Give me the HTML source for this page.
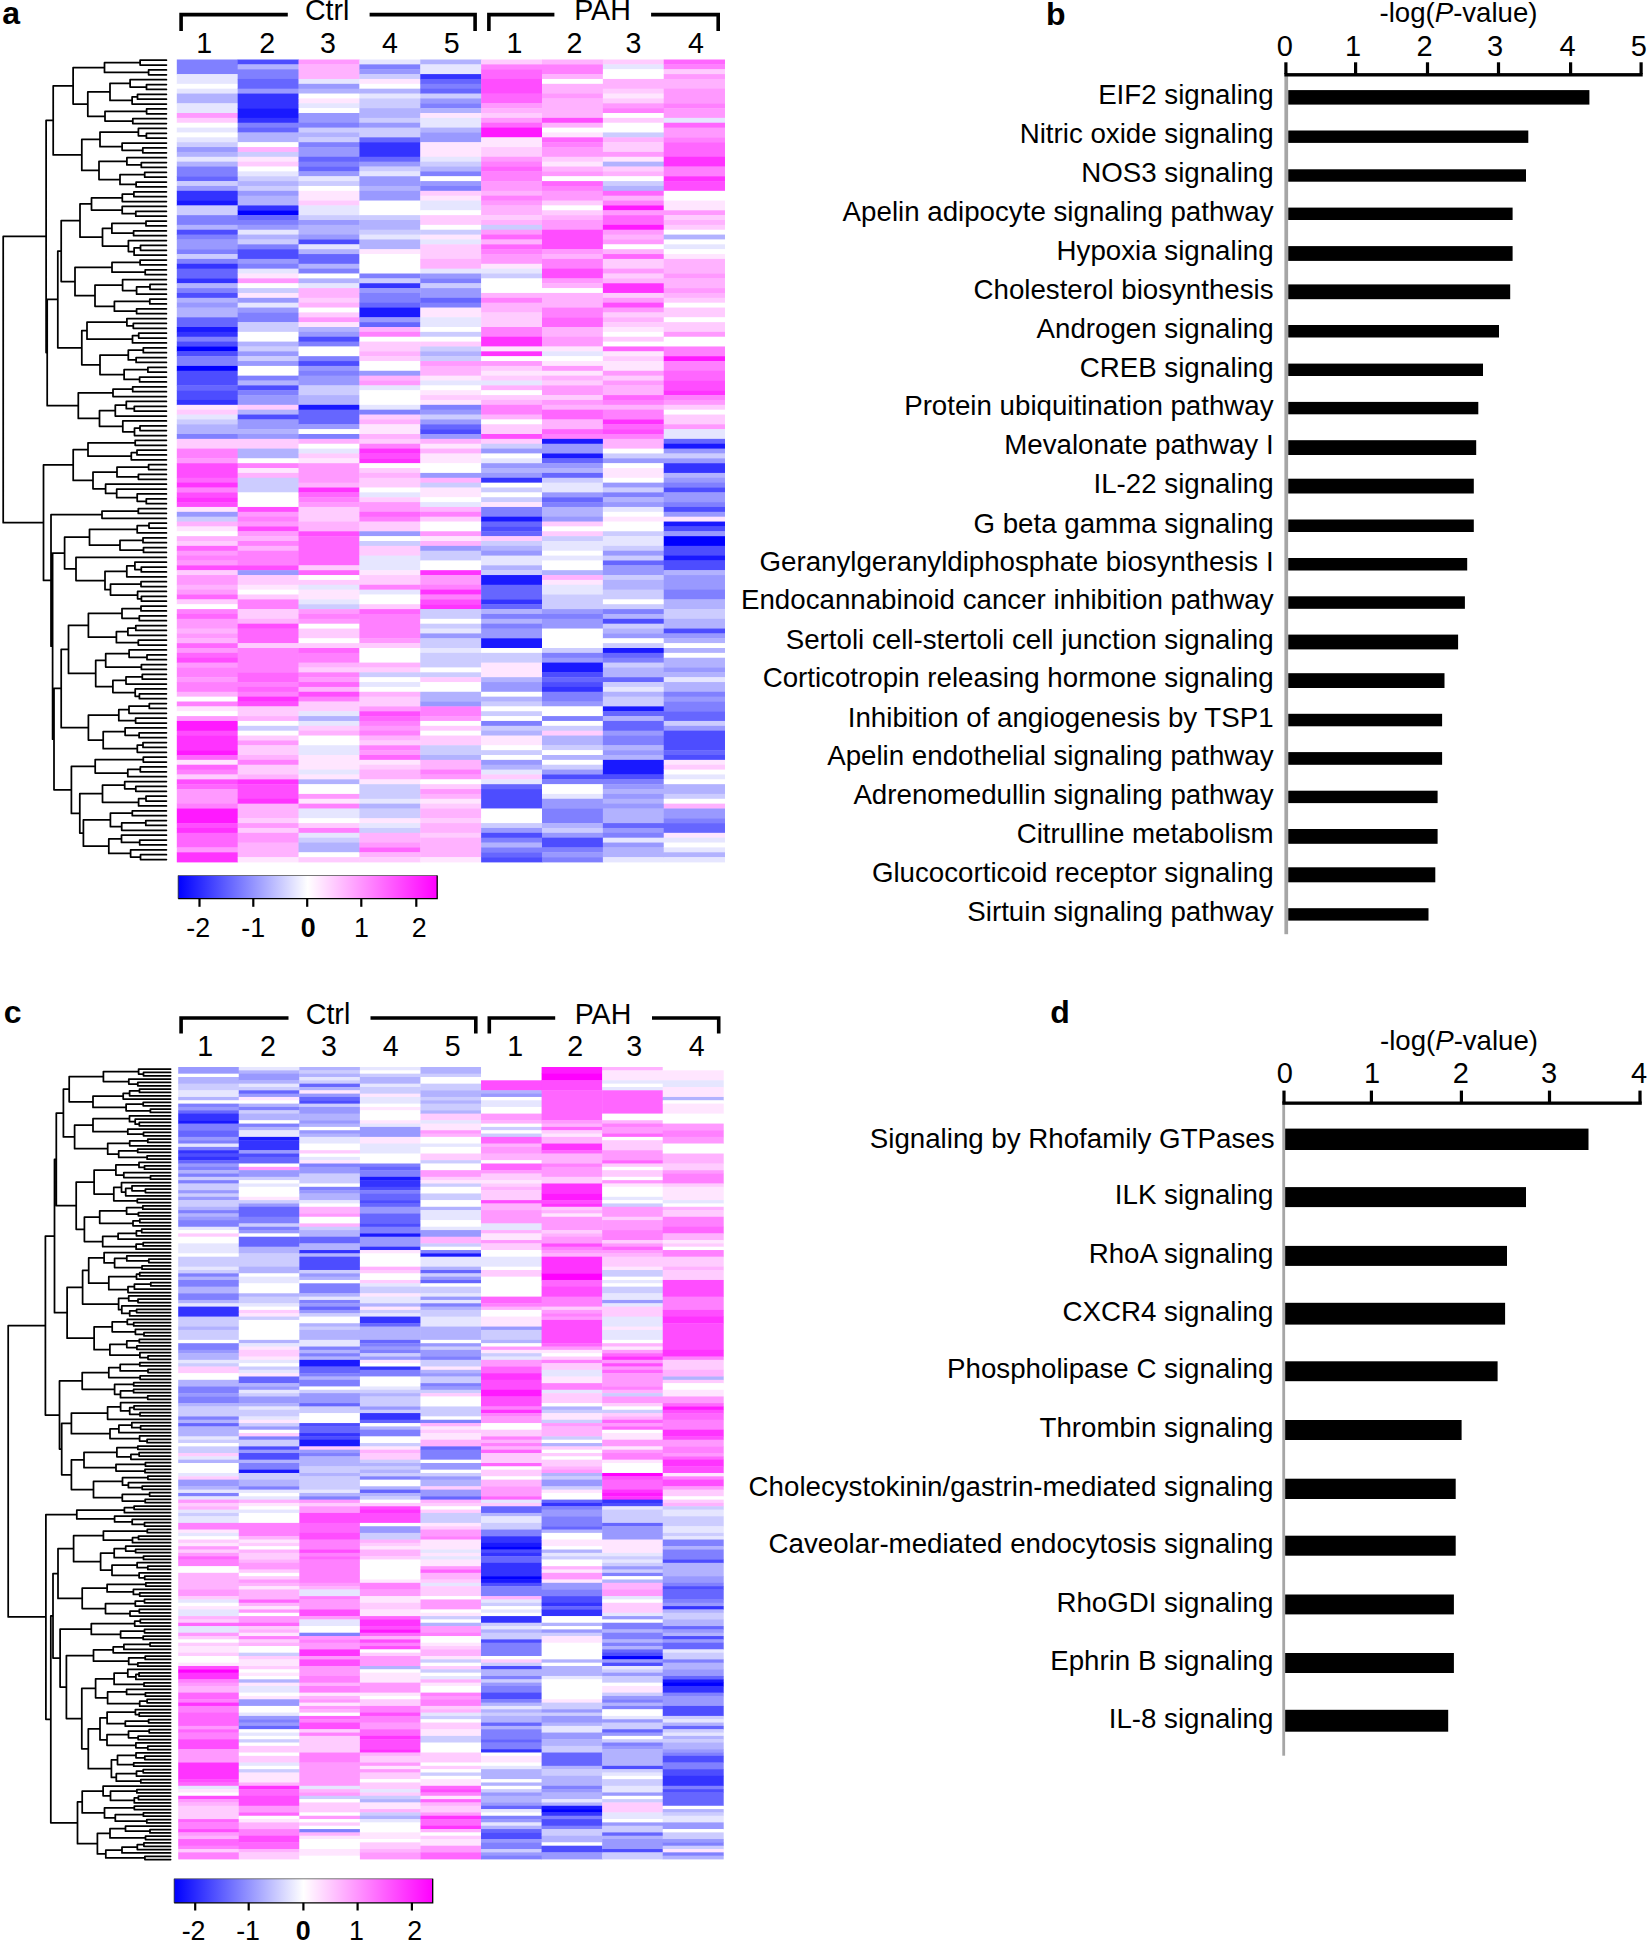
<!DOCTYPE html>
<html><head><meta charset="utf-8"><title>Figure</title>
<style>html,body{margin:0;padding:0;background:#fff}svg{display:block}text{font-family:"Liberation Sans",Arial,Helvetica,sans-serif;fill:#000}</style>
</head><body>
<svg width="1647" height="1942" viewBox="0 0 1647 1942">
<rect width="1647" height="1942" fill="#fff"/>
<text transform="translate(2.2 24.1) scale(1 1)" font-size="32" text-anchor="start" font-weight="bold" >a</text>
<text transform="translate(1046 24.5) scale(1 1)" font-size="32" text-anchor="start" font-weight="bold" >b</text>
<text transform="translate(3.8 1023.4) scale(1 1)" font-size="32" text-anchor="start" font-weight="bold" >c</text>
<text transform="translate(1050.3 1023.2) scale(1 1)" font-size="32" text-anchor="start" font-weight="bold" >d</text>
<path d="M181.1 31 V14.6 H287.8 M369.6 14.6 H475.1 V31" fill="none" stroke="#000" stroke-width="3.6"/>
<path d="M488.9 31 V14.6 H554.4 M651.1 14.6 H718.2 V31" fill="none" stroke="#000" stroke-width="3.6"/>
<text transform="translate(327.2 20.1) scale(1 1)" font-size="28.6" text-anchor="middle" font-weight="normal" >Ctrl</text>
<text transform="translate(602.5 20.1) scale(1 1)" font-size="28.6" text-anchor="middle" font-weight="normal" >PAH</text>
<text transform="translate(204.3 53.2) scale(1 1)" font-size="28.6" text-anchor="middle" font-weight="normal" >1</text>
<text transform="translate(267.1 53.2) scale(1 1)" font-size="28.6" text-anchor="middle" font-weight="normal" >2</text>
<text transform="translate(327.9 53.2) scale(1 1)" font-size="28.6" text-anchor="middle" font-weight="normal" >3</text>
<text transform="translate(390 53.2) scale(1 1)" font-size="28.6" text-anchor="middle" font-weight="normal" >4</text>
<text transform="translate(451.8 53.2) scale(1 1)" font-size="28.6" text-anchor="middle" font-weight="normal" >5</text>
<text transform="translate(514.5 53.2) scale(1 1)" font-size="28.6" text-anchor="middle" font-weight="normal" >1</text>
<text transform="translate(574.5 53.2) scale(1 1)" font-size="28.6" text-anchor="middle" font-weight="normal" >2</text>
<text transform="translate(633.5 53.2) scale(1 1)" font-size="28.6" text-anchor="middle" font-weight="normal" >3</text>
<text transform="translate(696 53.2) scale(1 1)" font-size="28.6" text-anchor="middle" font-weight="normal" >4</text>
<path d="M181.1 1033.5 V1018 H288.5 M370.5 1018 H475.8 V1033.5" fill="none" stroke="#000" stroke-width="3.6"/>
<path d="M489.3 1033.5 V1018 H555.2 M652 1018 H718.7 V1033.5" fill="none" stroke="#000" stroke-width="3.6"/>
<text transform="translate(328 1023.6) scale(1 1)" font-size="28.6" text-anchor="middle" font-weight="normal" >Ctrl</text>
<text transform="translate(603 1023.6) scale(1 1)" font-size="28.6" text-anchor="middle" font-weight="normal" >PAH</text>
<text transform="translate(205.1 1056.4) scale(1 1)" font-size="28.6" text-anchor="middle" font-weight="normal" >1</text>
<text transform="translate(267.9 1056.4) scale(1 1)" font-size="28.6" text-anchor="middle" font-weight="normal" >2</text>
<text transform="translate(328.9 1056.4) scale(1 1)" font-size="28.6" text-anchor="middle" font-weight="normal" >3</text>
<text transform="translate(390.7 1056.4) scale(1 1)" font-size="28.6" text-anchor="middle" font-weight="normal" >4</text>
<text transform="translate(452.6 1056.4) scale(1 1)" font-size="28.6" text-anchor="middle" font-weight="normal" >5</text>
<text transform="translate(515.2 1056.4) scale(1 1)" font-size="28.6" text-anchor="middle" font-weight="normal" >1</text>
<text transform="translate(575.2 1056.4) scale(1 1)" font-size="28.6" text-anchor="middle" font-weight="normal" >2</text>
<text transform="translate(634.2 1056.4) scale(1 1)" font-size="28.6" text-anchor="middle" font-weight="normal" >3</text>
<text transform="translate(696.6 1056.4) scale(1 1)" font-size="28.6" text-anchor="middle" font-weight="normal" >4</text>
<g>
<rect x="176.80" y="59.50" width="61.27" height="14.99" fill="#8080ff"/>
<rect x="176.80" y="74.09" width="61.27" height="10.13" fill="#e6e6ff"/>
<rect x="176.80" y="83.82" width="61.27" height="5.26" fill="#ffffff"/>
<rect x="176.80" y="88.68" width="61.27" height="5.26" fill="#e6e6ff"/>
<rect x="176.80" y="93.55" width="61.27" height="10.13" fill="#b2b2ff"/>
<rect x="176.80" y="103.27" width="61.27" height="10.13" fill="#e6e6ff"/>
<rect x="176.80" y="113.00" width="61.27" height="5.26" fill="#ff99ff"/>
<rect x="176.80" y="117.86" width="61.27" height="5.26" fill="#ffccff"/>
<rect x="176.80" y="122.73" width="61.27" height="5.26" fill="#ffffff"/>
<rect x="176.80" y="127.59" width="61.27" height="5.26" fill="#e6e6ff"/>
<rect x="176.80" y="132.45" width="61.27" height="5.26" fill="#ffffff"/>
<rect x="176.80" y="137.32" width="61.27" height="5.26" fill="#e6e6ff"/>
<rect x="176.80" y="142.18" width="61.27" height="5.26" fill="#ccccff"/>
<rect x="176.80" y="147.05" width="61.27" height="5.26" fill="#9999ff"/>
<rect x="176.80" y="151.91" width="61.27" height="5.26" fill="#b2b2ff"/>
<rect x="176.80" y="156.77" width="61.27" height="5.26" fill="#e6e6ff"/>
<rect x="176.80" y="161.64" width="61.27" height="5.26" fill="#b2b2ff"/>
<rect x="176.80" y="166.50" width="61.27" height="10.13" fill="#8080ff"/>
<rect x="176.80" y="176.23" width="61.27" height="5.26" fill="#6666ff"/>
<rect x="176.80" y="181.09" width="61.27" height="5.26" fill="#ccccff"/>
<rect x="176.80" y="185.95" width="61.27" height="5.26" fill="#9999ff"/>
<rect x="176.80" y="190.82" width="61.27" height="10.13" fill="#3333ff"/>
<rect x="176.80" y="200.55" width="61.27" height="5.26" fill="#1919ff"/>
<rect x="176.80" y="205.41" width="61.27" height="10.13" fill="#ccccff"/>
<rect x="176.80" y="215.14" width="61.27" height="10.13" fill="#8080ff"/>
<rect x="176.80" y="224.86" width="61.27" height="5.26" fill="#b2b2ff"/>
<rect x="176.80" y="229.73" width="61.27" height="5.26" fill="#4d4dff"/>
<rect x="176.80" y="234.59" width="61.27" height="5.26" fill="#8080ff"/>
<rect x="176.80" y="239.45" width="61.27" height="10.13" fill="#9999ff"/>
<rect x="176.80" y="249.18" width="61.27" height="5.26" fill="#8080ff"/>
<rect x="176.80" y="254.05" width="61.27" height="5.26" fill="#ccccff"/>
<rect x="176.80" y="258.91" width="61.27" height="5.26" fill="#8080ff"/>
<rect x="176.80" y="263.77" width="61.27" height="5.26" fill="#3333ff"/>
<rect x="176.80" y="268.64" width="61.27" height="10.13" fill="#6666ff"/>
<rect x="176.80" y="278.36" width="61.27" height="5.26" fill="#3333ff"/>
<rect x="176.80" y="283.23" width="61.27" height="5.26" fill="#b2b2ff"/>
<rect x="176.80" y="288.09" width="61.27" height="5.26" fill="#8080ff"/>
<rect x="176.80" y="292.95" width="61.27" height="5.26" fill="#4d4dff"/>
<rect x="176.80" y="297.82" width="61.27" height="5.26" fill="#b2b2ff"/>
<rect x="176.80" y="302.68" width="61.27" height="5.26" fill="#9999ff"/>
<rect x="176.80" y="307.55" width="61.27" height="10.13" fill="#b2b2ff"/>
<rect x="176.80" y="317.27" width="61.27" height="10.13" fill="#6666ff"/>
<rect x="176.80" y="327.00" width="61.27" height="5.26" fill="#1919ff"/>
<rect x="176.80" y="331.86" width="61.27" height="5.26" fill="#3333ff"/>
<rect x="176.80" y="336.73" width="61.27" height="5.26" fill="#8080ff"/>
<rect x="176.80" y="341.59" width="61.27" height="5.26" fill="#4d4dff"/>
<rect x="176.80" y="346.45" width="61.27" height="5.26" fill="#0000ff"/>
<rect x="176.80" y="351.32" width="61.27" height="5.26" fill="#4d4dff"/>
<rect x="176.80" y="356.18" width="61.27" height="10.13" fill="#8080ff"/>
<rect x="176.80" y="365.91" width="61.27" height="5.26" fill="#0000ff"/>
<rect x="176.80" y="370.77" width="61.27" height="14.99" fill="#4d4dff"/>
<rect x="176.80" y="385.36" width="61.27" height="5.26" fill="#6666ff"/>
<rect x="176.80" y="390.23" width="61.27" height="10.13" fill="#4d4dff"/>
<rect x="176.80" y="399.95" width="61.27" height="5.26" fill="#3333ff"/>
<rect x="176.80" y="404.82" width="61.27" height="5.26" fill="#ffe6ff"/>
<rect x="176.80" y="409.68" width="61.27" height="5.26" fill="#ffccff"/>
<rect x="176.80" y="414.55" width="61.27" height="5.26" fill="#e6e6ff"/>
<rect x="176.80" y="419.41" width="61.27" height="5.26" fill="#ccccff"/>
<rect x="176.80" y="424.27" width="61.27" height="10.13" fill="#b2b2ff"/>
<rect x="176.80" y="434.00" width="61.27" height="5.26" fill="#8080ff"/>
<rect x="176.80" y="438.86" width="61.27" height="10.13" fill="#ffccff"/>
<rect x="176.80" y="448.59" width="61.27" height="10.13" fill="#ff80ff"/>
<rect x="176.80" y="458.32" width="61.27" height="5.26" fill="#ff99ff"/>
<rect x="176.80" y="463.18" width="61.27" height="14.99" fill="#ff4dff"/>
<rect x="176.80" y="477.77" width="61.27" height="5.26" fill="#ff66ff"/>
<rect x="176.80" y="482.64" width="61.27" height="5.26" fill="#ff33ff"/>
<rect x="176.80" y="487.50" width="61.27" height="5.26" fill="#ff80ff"/>
<rect x="176.80" y="492.36" width="61.27" height="5.26" fill="#ff4dff"/>
<rect x="176.80" y="497.23" width="61.27" height="5.26" fill="#ff33ff"/>
<rect x="176.80" y="502.09" width="61.27" height="5.26" fill="#ff4dff"/>
<rect x="176.80" y="506.95" width="61.27" height="5.26" fill="#ffe6ff"/>
<rect x="176.80" y="511.82" width="61.27" height="5.26" fill="#9999ff"/>
<rect x="176.80" y="516.68" width="61.27" height="5.26" fill="#ccccff"/>
<rect x="176.80" y="521.55" width="61.27" height="5.26" fill="#ffb2ff"/>
<rect x="176.80" y="526.41" width="61.27" height="5.26" fill="#ffe6ff"/>
<rect x="176.80" y="531.27" width="61.27" height="5.26" fill="#ffffff"/>
<rect x="176.80" y="536.14" width="61.27" height="5.26" fill="#ffb2ff"/>
<rect x="176.80" y="541.00" width="61.27" height="5.26" fill="#ffccff"/>
<rect x="176.80" y="545.86" width="61.27" height="5.26" fill="#ff66ff"/>
<rect x="176.80" y="550.73" width="61.27" height="5.26" fill="#ff99ff"/>
<rect x="176.80" y="555.59" width="61.27" height="5.26" fill="#ff80ff"/>
<rect x="176.80" y="560.45" width="61.27" height="5.26" fill="#ff99ff"/>
<rect x="176.80" y="565.32" width="61.27" height="5.26" fill="#ff4dff"/>
<rect x="176.80" y="570.18" width="61.27" height="5.26" fill="#ffccff"/>
<rect x="176.80" y="575.05" width="61.27" height="10.13" fill="#ff99ff"/>
<rect x="176.80" y="584.77" width="61.27" height="5.26" fill="#ffb2ff"/>
<rect x="176.80" y="589.64" width="61.27" height="5.26" fill="#ff99ff"/>
<rect x="176.80" y="594.50" width="61.27" height="5.26" fill="#ff66ff"/>
<rect x="176.80" y="599.36" width="61.27" height="5.26" fill="#ffccff"/>
<rect x="176.80" y="604.23" width="61.27" height="5.26" fill="#ffffff"/>
<rect x="176.80" y="609.09" width="61.27" height="5.26" fill="#ff80ff"/>
<rect x="176.80" y="613.95" width="61.27" height="5.26" fill="#ff66ff"/>
<rect x="176.80" y="618.82" width="61.27" height="10.13" fill="#ff99ff"/>
<rect x="176.80" y="628.55" width="61.27" height="5.26" fill="#ffb2ff"/>
<rect x="176.80" y="633.41" width="61.27" height="5.26" fill="#ff99ff"/>
<rect x="176.80" y="638.27" width="61.27" height="5.26" fill="#ffb2ff"/>
<rect x="176.80" y="643.14" width="61.27" height="5.26" fill="#ff66ff"/>
<rect x="176.80" y="648.00" width="61.27" height="5.26" fill="#ff99ff"/>
<rect x="176.80" y="652.86" width="61.27" height="5.26" fill="#ff66ff"/>
<rect x="176.80" y="657.73" width="61.27" height="5.26" fill="#ff4dff"/>
<rect x="176.80" y="662.59" width="61.27" height="5.26" fill="#ff99ff"/>
<rect x="176.80" y="667.45" width="61.27" height="10.13" fill="#ff80ff"/>
<rect x="176.80" y="677.18" width="61.27" height="5.26" fill="#ff99ff"/>
<rect x="176.80" y="682.05" width="61.27" height="10.13" fill="#ff80ff"/>
<rect x="176.80" y="691.77" width="61.27" height="5.26" fill="#ffb2ff"/>
<rect x="176.80" y="696.64" width="61.27" height="5.26" fill="#ffffff"/>
<rect x="176.80" y="701.50" width="61.27" height="5.26" fill="#ff80ff"/>
<rect x="176.80" y="706.36" width="61.27" height="5.26" fill="#ffe6ff"/>
<rect x="176.80" y="711.23" width="61.27" height="5.26" fill="#ffffff"/>
<rect x="176.80" y="716.09" width="61.27" height="5.26" fill="#ff99ff"/>
<rect x="176.80" y="720.95" width="61.27" height="10.13" fill="#ff19ff"/>
<rect x="176.80" y="730.68" width="61.27" height="5.26" fill="#ff4dff"/>
<rect x="176.80" y="735.55" width="61.27" height="14.99" fill="#ff33ff"/>
<rect x="176.80" y="750.14" width="61.27" height="5.26" fill="#ff19ff"/>
<rect x="176.80" y="755.00" width="61.27" height="5.26" fill="#ff66ff"/>
<rect x="176.80" y="759.86" width="61.27" height="5.26" fill="#ffe6ff"/>
<rect x="176.80" y="764.73" width="61.27" height="5.26" fill="#ff66ff"/>
<rect x="176.80" y="769.59" width="61.27" height="5.26" fill="#ff80ff"/>
<rect x="176.80" y="774.45" width="61.27" height="5.26" fill="#ffccff"/>
<rect x="176.80" y="779.32" width="61.27" height="5.26" fill="#ff4dff"/>
<rect x="176.80" y="784.18" width="61.27" height="5.26" fill="#ff66ff"/>
<rect x="176.80" y="789.05" width="61.27" height="14.99" fill="#ff99ff"/>
<rect x="176.80" y="803.64" width="61.27" height="5.26" fill="#ff80ff"/>
<rect x="176.80" y="808.50" width="61.27" height="14.99" fill="#ff19ff"/>
<rect x="176.80" y="823.09" width="61.27" height="5.26" fill="#ff4dff"/>
<rect x="176.80" y="827.95" width="61.27" height="5.26" fill="#ff33ff"/>
<rect x="176.80" y="832.82" width="61.27" height="14.99" fill="#ff66ff"/>
<rect x="176.80" y="847.41" width="61.27" height="5.26" fill="#ff99ff"/>
<rect x="176.80" y="852.27" width="61.27" height="10.13" fill="#ff33ff"/>
<rect x="237.67" y="59.50" width="61.27" height="5.26" fill="#4d4dff"/>
<rect x="237.67" y="64.36" width="61.27" height="5.26" fill="#b2b2ff"/>
<rect x="237.67" y="69.23" width="61.27" height="10.13" fill="#8080ff"/>
<rect x="237.67" y="78.95" width="61.27" height="10.13" fill="#6666ff"/>
<rect x="237.67" y="88.68" width="61.27" height="5.26" fill="#9999ff"/>
<rect x="237.67" y="93.55" width="61.27" height="14.99" fill="#3333ff"/>
<rect x="237.67" y="108.14" width="61.27" height="10.13" fill="#1919ff"/>
<rect x="237.67" y="117.86" width="61.27" height="5.26" fill="#3333ff"/>
<rect x="237.67" y="122.73" width="61.27" height="5.26" fill="#8080ff"/>
<rect x="237.67" y="127.59" width="61.27" height="5.26" fill="#6666ff"/>
<rect x="237.67" y="132.45" width="61.27" height="10.13" fill="#b2b2ff"/>
<rect x="237.67" y="142.18" width="61.27" height="5.26" fill="#ffffff"/>
<rect x="237.67" y="147.05" width="61.27" height="5.26" fill="#ffb2ff"/>
<rect x="237.67" y="151.91" width="61.27" height="5.26" fill="#ccccff"/>
<rect x="237.67" y="156.77" width="61.27" height="5.26" fill="#ffe6ff"/>
<rect x="237.67" y="161.64" width="61.27" height="5.26" fill="#ffccff"/>
<rect x="237.67" y="166.50" width="61.27" height="5.26" fill="#ffffff"/>
<rect x="237.67" y="171.36" width="61.27" height="5.26" fill="#e6e6ff"/>
<rect x="237.67" y="176.23" width="61.27" height="5.26" fill="#ccccff"/>
<rect x="237.67" y="181.09" width="61.27" height="5.26" fill="#b2b2ff"/>
<rect x="237.67" y="185.95" width="61.27" height="5.26" fill="#ccccff"/>
<rect x="237.67" y="190.82" width="61.27" height="5.26" fill="#9999ff"/>
<rect x="237.67" y="195.68" width="61.27" height="10.13" fill="#b2b2ff"/>
<rect x="237.67" y="205.41" width="61.27" height="5.26" fill="#3333ff"/>
<rect x="237.67" y="210.27" width="61.27" height="5.26" fill="#0000ff"/>
<rect x="237.67" y="215.14" width="61.27" height="5.26" fill="#6666ff"/>
<rect x="237.67" y="220.00" width="61.27" height="5.26" fill="#8080ff"/>
<rect x="237.67" y="224.86" width="61.27" height="5.26" fill="#9999ff"/>
<rect x="237.67" y="229.73" width="61.27" height="5.26" fill="#e6e6ff"/>
<rect x="237.67" y="234.59" width="61.27" height="5.26" fill="#b2b2ff"/>
<rect x="237.67" y="239.45" width="61.27" height="5.26" fill="#ccccff"/>
<rect x="237.67" y="244.32" width="61.27" height="5.26" fill="#8080ff"/>
<rect x="237.67" y="249.18" width="61.27" height="10.13" fill="#4d4dff"/>
<rect x="237.67" y="258.91" width="61.27" height="5.26" fill="#9999ff"/>
<rect x="237.67" y="263.77" width="61.27" height="5.26" fill="#8080ff"/>
<rect x="237.67" y="268.64" width="61.27" height="5.26" fill="#e6e6ff"/>
<rect x="237.67" y="273.50" width="61.27" height="5.26" fill="#ffe6ff"/>
<rect x="237.67" y="278.36" width="61.27" height="5.26" fill="#ff99ff"/>
<rect x="237.67" y="283.23" width="61.27" height="5.26" fill="#ffffff"/>
<rect x="237.67" y="288.09" width="61.27" height="5.26" fill="#ccccff"/>
<rect x="237.67" y="292.95" width="61.27" height="5.26" fill="#ffe6ff"/>
<rect x="237.67" y="297.82" width="61.27" height="5.26" fill="#9999ff"/>
<rect x="237.67" y="302.68" width="61.27" height="5.26" fill="#e6e6ff"/>
<rect x="237.67" y="307.55" width="61.27" height="5.26" fill="#9999ff"/>
<rect x="237.67" y="312.41" width="61.27" height="10.13" fill="#8080ff"/>
<rect x="237.67" y="322.14" width="61.27" height="10.13" fill="#ccccff"/>
<rect x="237.67" y="331.86" width="61.27" height="10.13" fill="#ffffff"/>
<rect x="237.67" y="341.59" width="61.27" height="5.26" fill="#b2b2ff"/>
<rect x="237.67" y="346.45" width="61.27" height="5.26" fill="#ccccff"/>
<rect x="237.67" y="351.32" width="61.27" height="5.26" fill="#9999ff"/>
<rect x="237.67" y="356.18" width="61.27" height="5.26" fill="#ccccff"/>
<rect x="237.67" y="361.05" width="61.27" height="5.26" fill="#9999ff"/>
<rect x="237.67" y="365.91" width="61.27" height="10.13" fill="#ffffff"/>
<rect x="237.67" y="375.64" width="61.27" height="5.26" fill="#8080ff"/>
<rect x="237.67" y="380.50" width="61.27" height="5.26" fill="#b2b2ff"/>
<rect x="237.67" y="385.36" width="61.27" height="5.26" fill="#4d4dff"/>
<rect x="237.67" y="390.23" width="61.27" height="5.26" fill="#8080ff"/>
<rect x="237.67" y="395.09" width="61.27" height="10.13" fill="#9999ff"/>
<rect x="237.67" y="404.82" width="61.27" height="5.26" fill="#ffccff"/>
<rect x="237.67" y="409.68" width="61.27" height="5.26" fill="#b2b2ff"/>
<rect x="237.67" y="414.55" width="61.27" height="5.26" fill="#4d4dff"/>
<rect x="237.67" y="419.41" width="61.27" height="10.13" fill="#9999ff"/>
<rect x="237.67" y="429.14" width="61.27" height="5.26" fill="#b2b2ff"/>
<rect x="237.67" y="434.00" width="61.27" height="5.26" fill="#9999ff"/>
<rect x="237.67" y="438.86" width="61.27" height="10.13" fill="#ffccff"/>
<rect x="237.67" y="448.59" width="61.27" height="10.13" fill="#b2b2ff"/>
<rect x="237.67" y="458.32" width="61.27" height="5.26" fill="#ffffff"/>
<rect x="237.67" y="463.18" width="61.27" height="5.26" fill="#ff80ff"/>
<rect x="237.67" y="468.05" width="61.27" height="5.26" fill="#ffe6ff"/>
<rect x="237.67" y="472.91" width="61.27" height="5.26" fill="#ffb2ff"/>
<rect x="237.67" y="477.77" width="61.27" height="14.99" fill="#ccccff"/>
<rect x="237.67" y="492.36" width="61.27" height="14.99" fill="#ffffff"/>
<rect x="237.67" y="506.95" width="61.27" height="5.26" fill="#ff4dff"/>
<rect x="237.67" y="511.82" width="61.27" height="5.26" fill="#ff99ff"/>
<rect x="237.67" y="516.68" width="61.27" height="5.26" fill="#ff80ff"/>
<rect x="237.67" y="521.55" width="61.27" height="5.26" fill="#ff99ff"/>
<rect x="237.67" y="526.41" width="61.27" height="5.26" fill="#ff4dff"/>
<rect x="237.67" y="531.27" width="61.27" height="5.26" fill="#ff99ff"/>
<rect x="237.67" y="536.14" width="61.27" height="5.26" fill="#ffb2ff"/>
<rect x="237.67" y="541.00" width="61.27" height="5.26" fill="#ff80ff"/>
<rect x="237.67" y="545.86" width="61.27" height="5.26" fill="#ffb2ff"/>
<rect x="237.67" y="550.73" width="61.27" height="14.99" fill="#ff80ff"/>
<rect x="237.67" y="565.32" width="61.27" height="5.26" fill="#ff4dff"/>
<rect x="237.67" y="570.18" width="61.27" height="5.26" fill="#9999ff"/>
<rect x="237.67" y="575.05" width="61.27" height="10.13" fill="#ffccff"/>
<rect x="237.67" y="584.77" width="61.27" height="5.26" fill="#ffe6ff"/>
<rect x="237.67" y="589.64" width="61.27" height="5.26" fill="#ffffff"/>
<rect x="237.67" y="594.50" width="61.27" height="5.26" fill="#ffccff"/>
<rect x="237.67" y="599.36" width="61.27" height="10.13" fill="#ff80ff"/>
<rect x="237.67" y="609.09" width="61.27" height="10.13" fill="#ffccff"/>
<rect x="237.67" y="618.82" width="61.27" height="5.26" fill="#ffb2ff"/>
<rect x="237.67" y="623.68" width="61.27" height="5.26" fill="#ff4dff"/>
<rect x="237.67" y="628.55" width="61.27" height="14.99" fill="#ff66ff"/>
<rect x="237.67" y="643.14" width="61.27" height="5.26" fill="#ffccff"/>
<rect x="237.67" y="648.00" width="61.27" height="24.72" fill="#ff80ff"/>
<rect x="237.67" y="672.32" width="61.27" height="10.13" fill="#ff66ff"/>
<rect x="237.67" y="682.05" width="61.27" height="5.26" fill="#ff80ff"/>
<rect x="237.67" y="686.91" width="61.27" height="5.26" fill="#ff66ff"/>
<rect x="237.67" y="691.77" width="61.27" height="5.26" fill="#ff80ff"/>
<rect x="237.67" y="696.64" width="61.27" height="5.26" fill="#ff33ff"/>
<rect x="237.67" y="701.50" width="61.27" height="5.26" fill="#ff4dff"/>
<rect x="237.67" y="706.36" width="61.27" height="10.13" fill="#ffccff"/>
<rect x="237.67" y="716.09" width="61.27" height="5.26" fill="#ffb2ff"/>
<rect x="237.67" y="720.95" width="61.27" height="5.26" fill="#ffffff"/>
<rect x="237.67" y="725.82" width="61.27" height="5.26" fill="#ccccff"/>
<rect x="237.67" y="730.68" width="61.27" height="5.26" fill="#ffffff"/>
<rect x="237.67" y="735.55" width="61.27" height="5.26" fill="#ffccff"/>
<rect x="237.67" y="740.41" width="61.27" height="5.26" fill="#ff99ff"/>
<rect x="237.67" y="745.27" width="61.27" height="10.13" fill="#ffccff"/>
<rect x="237.67" y="755.00" width="61.27" height="5.26" fill="#ffb2ff"/>
<rect x="237.67" y="759.86" width="61.27" height="5.26" fill="#ff80ff"/>
<rect x="237.67" y="764.73" width="61.27" height="10.13" fill="#ffccff"/>
<rect x="237.67" y="774.45" width="61.27" height="5.26" fill="#ffb2ff"/>
<rect x="237.67" y="779.32" width="61.27" height="5.26" fill="#ff33ff"/>
<rect x="237.67" y="784.18" width="61.27" height="14.99" fill="#ff4dff"/>
<rect x="237.67" y="798.77" width="61.27" height="5.26" fill="#ff33ff"/>
<rect x="237.67" y="803.64" width="61.27" height="14.99" fill="#ffb2ff"/>
<rect x="237.67" y="818.23" width="61.27" height="5.26" fill="#ffccff"/>
<rect x="237.67" y="823.09" width="61.27" height="5.26" fill="#ff99ff"/>
<rect x="237.67" y="827.95" width="61.27" height="5.26" fill="#ffccff"/>
<rect x="237.67" y="832.82" width="61.27" height="10.13" fill="#ff99ff"/>
<rect x="237.67" y="842.55" width="61.27" height="14.99" fill="#ffb2ff"/>
<rect x="237.67" y="857.14" width="61.27" height="5.26" fill="#ffe6ff"/>
<rect x="298.53" y="59.50" width="61.27" height="5.26" fill="#ff99ff"/>
<rect x="298.53" y="64.36" width="61.27" height="14.99" fill="#ffb2ff"/>
<rect x="298.53" y="78.95" width="61.27" height="5.26" fill="#e6e6ff"/>
<rect x="298.53" y="83.82" width="61.27" height="5.26" fill="#9999ff"/>
<rect x="298.53" y="88.68" width="61.27" height="5.26" fill="#b2b2ff"/>
<rect x="298.53" y="93.55" width="61.27" height="5.26" fill="#ffffff"/>
<rect x="298.53" y="98.41" width="61.27" height="5.26" fill="#ffe6ff"/>
<rect x="298.53" y="103.27" width="61.27" height="5.26" fill="#e6e6ff"/>
<rect x="298.53" y="108.14" width="61.27" height="5.26" fill="#ffffff"/>
<rect x="298.53" y="113.00" width="61.27" height="10.13" fill="#9999ff"/>
<rect x="298.53" y="122.73" width="61.27" height="5.26" fill="#8080ff"/>
<rect x="298.53" y="127.59" width="61.27" height="5.26" fill="#ccccff"/>
<rect x="298.53" y="132.45" width="61.27" height="5.26" fill="#b2b2ff"/>
<rect x="298.53" y="137.32" width="61.27" height="5.26" fill="#ccccff"/>
<rect x="298.53" y="142.18" width="61.27" height="5.26" fill="#8080ff"/>
<rect x="298.53" y="147.05" width="61.27" height="10.13" fill="#9999ff"/>
<rect x="298.53" y="156.77" width="61.27" height="5.26" fill="#6666ff"/>
<rect x="298.53" y="161.64" width="61.27" height="5.26" fill="#8080ff"/>
<rect x="298.53" y="166.50" width="61.27" height="5.26" fill="#6666ff"/>
<rect x="298.53" y="171.36" width="61.27" height="5.26" fill="#9999ff"/>
<rect x="298.53" y="176.23" width="61.27" height="5.26" fill="#e6e6ff"/>
<rect x="298.53" y="181.09" width="61.27" height="5.26" fill="#ccccff"/>
<rect x="298.53" y="185.95" width="61.27" height="5.26" fill="#ffffff"/>
<rect x="298.53" y="190.82" width="61.27" height="10.13" fill="#ffe6ff"/>
<rect x="298.53" y="200.55" width="61.27" height="5.26" fill="#ffccff"/>
<rect x="298.53" y="205.41" width="61.27" height="10.13" fill="#e6e6ff"/>
<rect x="298.53" y="215.14" width="61.27" height="5.26" fill="#ccccff"/>
<rect x="298.53" y="220.00" width="61.27" height="5.26" fill="#9999ff"/>
<rect x="298.53" y="224.86" width="61.27" height="10.13" fill="#b2b2ff"/>
<rect x="298.53" y="234.59" width="61.27" height="5.26" fill="#9999ff"/>
<rect x="298.53" y="239.45" width="61.27" height="5.26" fill="#4d4dff"/>
<rect x="298.53" y="244.32" width="61.27" height="5.26" fill="#e6e6ff"/>
<rect x="298.53" y="249.18" width="61.27" height="5.26" fill="#b2b2ff"/>
<rect x="298.53" y="254.05" width="61.27" height="10.13" fill="#6666ff"/>
<rect x="298.53" y="263.77" width="61.27" height="5.26" fill="#b2b2ff"/>
<rect x="298.53" y="268.64" width="61.27" height="5.26" fill="#8080ff"/>
<rect x="298.53" y="273.50" width="61.27" height="5.26" fill="#ffffff"/>
<rect x="298.53" y="278.36" width="61.27" height="5.26" fill="#b2b2ff"/>
<rect x="298.53" y="283.23" width="61.27" height="5.26" fill="#e6e6ff"/>
<rect x="298.53" y="288.09" width="61.27" height="10.13" fill="#ffb2ff"/>
<rect x="298.53" y="297.82" width="61.27" height="5.26" fill="#ffccff"/>
<rect x="298.53" y="302.68" width="61.27" height="5.26" fill="#ffb2ff"/>
<rect x="298.53" y="307.55" width="61.27" height="5.26" fill="#ffffff"/>
<rect x="298.53" y="312.41" width="61.27" height="5.26" fill="#ffccff"/>
<rect x="298.53" y="317.27" width="61.27" height="5.26" fill="#ff99ff"/>
<rect x="298.53" y="322.14" width="61.27" height="5.26" fill="#ffe6ff"/>
<rect x="298.53" y="327.00" width="61.27" height="5.26" fill="#b2b2ff"/>
<rect x="298.53" y="331.86" width="61.27" height="5.26" fill="#9999ff"/>
<rect x="298.53" y="336.73" width="61.27" height="5.26" fill="#4d4dff"/>
<rect x="298.53" y="341.59" width="61.27" height="5.26" fill="#8080ff"/>
<rect x="298.53" y="346.45" width="61.27" height="10.13" fill="#ffffff"/>
<rect x="298.53" y="356.18" width="61.27" height="5.26" fill="#8080ff"/>
<rect x="298.53" y="361.05" width="61.27" height="5.26" fill="#4d4dff"/>
<rect x="298.53" y="365.91" width="61.27" height="5.26" fill="#9999ff"/>
<rect x="298.53" y="370.77" width="61.27" height="5.26" fill="#8080ff"/>
<rect x="298.53" y="375.64" width="61.27" height="10.13" fill="#9999ff"/>
<rect x="298.53" y="385.36" width="61.27" height="10.13" fill="#ccccff"/>
<rect x="298.53" y="395.09" width="61.27" height="10.13" fill="#b2b2ff"/>
<rect x="298.53" y="404.82" width="61.27" height="5.26" fill="#1919ff"/>
<rect x="298.53" y="409.68" width="61.27" height="14.99" fill="#6666ff"/>
<rect x="298.53" y="424.27" width="61.27" height="5.26" fill="#9999ff"/>
<rect x="298.53" y="429.14" width="61.27" height="5.26" fill="#ffffff"/>
<rect x="298.53" y="434.00" width="61.27" height="5.26" fill="#8080ff"/>
<rect x="298.53" y="438.86" width="61.27" height="5.26" fill="#ffb2ff"/>
<rect x="298.53" y="443.73" width="61.27" height="5.26" fill="#ffffff"/>
<rect x="298.53" y="448.59" width="61.27" height="5.26" fill="#e6e6ff"/>
<rect x="298.53" y="453.45" width="61.27" height="5.26" fill="#ffccff"/>
<rect x="298.53" y="458.32" width="61.27" height="5.26" fill="#ffe6ff"/>
<rect x="298.53" y="463.18" width="61.27" height="19.85" fill="#ff99ff"/>
<rect x="298.53" y="482.64" width="61.27" height="5.26" fill="#ffb2ff"/>
<rect x="298.53" y="487.50" width="61.27" height="5.26" fill="#ff33ff"/>
<rect x="298.53" y="492.36" width="61.27" height="5.26" fill="#ff66ff"/>
<rect x="298.53" y="497.23" width="61.27" height="5.26" fill="#ff80ff"/>
<rect x="298.53" y="502.09" width="61.27" height="5.26" fill="#ff99ff"/>
<rect x="298.53" y="506.95" width="61.27" height="14.99" fill="#ffccff"/>
<rect x="298.53" y="521.55" width="61.27" height="10.13" fill="#ffb2ff"/>
<rect x="298.53" y="531.27" width="61.27" height="5.26" fill="#ff4dff"/>
<rect x="298.53" y="536.14" width="61.27" height="29.58" fill="#ff66ff"/>
<rect x="298.53" y="565.32" width="61.27" height="5.26" fill="#ffccff"/>
<rect x="298.53" y="570.18" width="61.27" height="5.26" fill="#ff66ff"/>
<rect x="298.53" y="575.05" width="61.27" height="5.26" fill="#ffffff"/>
<rect x="298.53" y="579.91" width="61.27" height="5.26" fill="#ffccff"/>
<rect x="298.53" y="584.77" width="61.27" height="5.26" fill="#e6e6ff"/>
<rect x="298.53" y="589.64" width="61.27" height="10.13" fill="#ffe6ff"/>
<rect x="298.53" y="599.36" width="61.27" height="5.26" fill="#e6e6ff"/>
<rect x="298.53" y="604.23" width="61.27" height="5.26" fill="#ccccff"/>
<rect x="298.53" y="609.09" width="61.27" height="5.26" fill="#ff99ff"/>
<rect x="298.53" y="613.95" width="61.27" height="5.26" fill="#ff80ff"/>
<rect x="298.53" y="618.82" width="61.27" height="5.26" fill="#ff99ff"/>
<rect x="298.53" y="623.68" width="61.27" height="5.26" fill="#ffffff"/>
<rect x="298.53" y="628.55" width="61.27" height="10.13" fill="#ffccff"/>
<rect x="298.53" y="638.27" width="61.27" height="5.26" fill="#ffffff"/>
<rect x="298.53" y="643.14" width="61.27" height="5.26" fill="#ffccff"/>
<rect x="298.53" y="648.00" width="61.27" height="5.26" fill="#ff66ff"/>
<rect x="298.53" y="652.86" width="61.27" height="10.13" fill="#ff80ff"/>
<rect x="298.53" y="662.59" width="61.27" height="5.26" fill="#ffb2ff"/>
<rect x="298.53" y="667.45" width="61.27" height="5.26" fill="#ffccff"/>
<rect x="298.53" y="672.32" width="61.27" height="5.26" fill="#ff80ff"/>
<rect x="298.53" y="677.18" width="61.27" height="5.26" fill="#ff99ff"/>
<rect x="298.53" y="682.05" width="61.27" height="5.26" fill="#ff66ff"/>
<rect x="298.53" y="686.91" width="61.27" height="5.26" fill="#ffb2ff"/>
<rect x="298.53" y="691.77" width="61.27" height="5.26" fill="#ff4dff"/>
<rect x="298.53" y="696.64" width="61.27" height="5.26" fill="#ff80ff"/>
<rect x="298.53" y="701.50" width="61.27" height="10.13" fill="#ffccff"/>
<rect x="298.53" y="711.23" width="61.27" height="5.26" fill="#e6e6ff"/>
<rect x="298.53" y="716.09" width="61.27" height="5.26" fill="#b2b2ff"/>
<rect x="298.53" y="720.95" width="61.27" height="5.26" fill="#e6e6ff"/>
<rect x="298.53" y="725.82" width="61.27" height="5.26" fill="#ffccff"/>
<rect x="298.53" y="730.68" width="61.27" height="5.26" fill="#ffb2ff"/>
<rect x="298.53" y="735.55" width="61.27" height="10.13" fill="#ffffff"/>
<rect x="298.53" y="745.27" width="61.27" height="10.13" fill="#e6e6ff"/>
<rect x="298.53" y="755.00" width="61.27" height="14.99" fill="#ffe6ff"/>
<rect x="298.53" y="769.59" width="61.27" height="5.26" fill="#e6e6ff"/>
<rect x="298.53" y="774.45" width="61.27" height="5.26" fill="#ffe6ff"/>
<rect x="298.53" y="779.32" width="61.27" height="5.26" fill="#b2b2ff"/>
<rect x="298.53" y="784.18" width="61.27" height="10.13" fill="#ffffff"/>
<rect x="298.53" y="793.91" width="61.27" height="5.26" fill="#ff99ff"/>
<rect x="298.53" y="798.77" width="61.27" height="5.26" fill="#ffe6ff"/>
<rect x="298.53" y="803.64" width="61.27" height="5.26" fill="#ff80ff"/>
<rect x="298.53" y="808.50" width="61.27" height="10.13" fill="#e6e6ff"/>
<rect x="298.53" y="818.23" width="61.27" height="5.26" fill="#ffffff"/>
<rect x="298.53" y="823.09" width="61.27" height="5.26" fill="#ffccff"/>
<rect x="298.53" y="827.95" width="61.27" height="5.26" fill="#ff80ff"/>
<rect x="298.53" y="832.82" width="61.27" height="5.26" fill="#e6e6ff"/>
<rect x="298.53" y="837.68" width="61.27" height="5.26" fill="#ccccff"/>
<rect x="298.53" y="842.55" width="61.27" height="10.13" fill="#b2b2ff"/>
<rect x="298.53" y="852.27" width="61.27" height="5.26" fill="#ffffff"/>
<rect x="298.53" y="857.14" width="61.27" height="5.26" fill="#ffccff"/>
<rect x="359.40" y="59.50" width="61.27" height="5.26" fill="#e6e6ff"/>
<rect x="359.40" y="64.36" width="61.27" height="5.26" fill="#8080ff"/>
<rect x="359.40" y="69.23" width="61.27" height="5.26" fill="#9999ff"/>
<rect x="359.40" y="74.09" width="61.27" height="5.26" fill="#ccccff"/>
<rect x="359.40" y="78.95" width="61.27" height="5.26" fill="#ffe6ff"/>
<rect x="359.40" y="83.82" width="61.27" height="5.26" fill="#ffffff"/>
<rect x="359.40" y="88.68" width="61.27" height="5.26" fill="#b2b2ff"/>
<rect x="359.40" y="93.55" width="61.27" height="5.26" fill="#e6e6ff"/>
<rect x="359.40" y="98.41" width="61.27" height="10.13" fill="#ccccff"/>
<rect x="359.40" y="108.14" width="61.27" height="10.13" fill="#b2b2ff"/>
<rect x="359.40" y="117.86" width="61.27" height="5.26" fill="#ccccff"/>
<rect x="359.40" y="122.73" width="61.27" height="5.26" fill="#9999ff"/>
<rect x="359.40" y="127.59" width="61.27" height="10.13" fill="#ccccff"/>
<rect x="359.40" y="137.32" width="61.27" height="5.26" fill="#6666ff"/>
<rect x="359.40" y="142.18" width="61.27" height="14.99" fill="#3333ff"/>
<rect x="359.40" y="156.77" width="61.27" height="5.26" fill="#6666ff"/>
<rect x="359.40" y="161.64" width="61.27" height="5.26" fill="#9999ff"/>
<rect x="359.40" y="166.50" width="61.27" height="5.26" fill="#ccccff"/>
<rect x="359.40" y="171.36" width="61.27" height="5.26" fill="#e6e6ff"/>
<rect x="359.40" y="176.23" width="61.27" height="10.13" fill="#9999ff"/>
<rect x="359.40" y="185.95" width="61.27" height="5.26" fill="#b2b2ff"/>
<rect x="359.40" y="190.82" width="61.27" height="10.13" fill="#9999ff"/>
<rect x="359.40" y="200.55" width="61.27" height="14.99" fill="#ffffff"/>
<rect x="359.40" y="215.14" width="61.27" height="5.26" fill="#ccccff"/>
<rect x="359.40" y="220.00" width="61.27" height="10.13" fill="#b2b2ff"/>
<rect x="359.40" y="229.73" width="61.27" height="5.26" fill="#ccccff"/>
<rect x="359.40" y="234.59" width="61.27" height="5.26" fill="#e6e6ff"/>
<rect x="359.40" y="239.45" width="61.27" height="10.13" fill="#b2b2ff"/>
<rect x="359.40" y="249.18" width="61.27" height="5.26" fill="#ffe6ff"/>
<rect x="359.40" y="254.05" width="61.27" height="19.85" fill="#ffffff"/>
<rect x="359.40" y="273.50" width="61.27" height="5.26" fill="#8080ff"/>
<rect x="359.40" y="278.36" width="61.27" height="5.26" fill="#ccccff"/>
<rect x="359.40" y="283.23" width="61.27" height="5.26" fill="#3333ff"/>
<rect x="359.40" y="288.09" width="61.27" height="5.26" fill="#9999ff"/>
<rect x="359.40" y="292.95" width="61.27" height="10.13" fill="#8080ff"/>
<rect x="359.40" y="302.68" width="61.27" height="5.26" fill="#6666ff"/>
<rect x="359.40" y="307.55" width="61.27" height="10.13" fill="#1919ff"/>
<rect x="359.40" y="317.27" width="61.27" height="5.26" fill="#9999ff"/>
<rect x="359.40" y="322.14" width="61.27" height="5.26" fill="#6666ff"/>
<rect x="359.40" y="327.00" width="61.27" height="5.26" fill="#ffb2ff"/>
<rect x="359.40" y="331.86" width="61.27" height="5.26" fill="#ff80ff"/>
<rect x="359.40" y="336.73" width="61.27" height="5.26" fill="#ffffff"/>
<rect x="359.40" y="341.59" width="61.27" height="10.13" fill="#ffccff"/>
<rect x="359.40" y="351.32" width="61.27" height="5.26" fill="#ffb2ff"/>
<rect x="359.40" y="356.18" width="61.27" height="5.26" fill="#ffccff"/>
<rect x="359.40" y="361.05" width="61.27" height="10.13" fill="#ffffff"/>
<rect x="359.40" y="370.77" width="61.27" height="5.26" fill="#9999ff"/>
<rect x="359.40" y="375.64" width="61.27" height="5.26" fill="#ffb2ff"/>
<rect x="359.40" y="380.50" width="61.27" height="5.26" fill="#ff99ff"/>
<rect x="359.40" y="385.36" width="61.27" height="5.26" fill="#e6e6ff"/>
<rect x="359.40" y="390.23" width="61.27" height="14.99" fill="#ffffff"/>
<rect x="359.40" y="404.82" width="61.27" height="5.26" fill="#e6e6ff"/>
<rect x="359.40" y="409.68" width="61.27" height="5.26" fill="#8080ff"/>
<rect x="359.40" y="414.55" width="61.27" height="5.26" fill="#ffccff"/>
<rect x="359.40" y="419.41" width="61.27" height="5.26" fill="#ffb2ff"/>
<rect x="359.40" y="424.27" width="61.27" height="10.13" fill="#ffe6ff"/>
<rect x="359.40" y="434.00" width="61.27" height="5.26" fill="#ffb2ff"/>
<rect x="359.40" y="438.86" width="61.27" height="5.26" fill="#ffccff"/>
<rect x="359.40" y="443.73" width="61.27" height="5.26" fill="#ff80ff"/>
<rect x="359.40" y="448.59" width="61.27" height="5.26" fill="#ff33ff"/>
<rect x="359.40" y="453.45" width="61.27" height="5.26" fill="#ff4dff"/>
<rect x="359.40" y="458.32" width="61.27" height="5.26" fill="#ff33ff"/>
<rect x="359.40" y="463.18" width="61.27" height="5.26" fill="#ffffff"/>
<rect x="359.40" y="468.05" width="61.27" height="5.26" fill="#ffccff"/>
<rect x="359.40" y="472.91" width="61.27" height="5.26" fill="#ffb2ff"/>
<rect x="359.40" y="477.77" width="61.27" height="10.13" fill="#ffccff"/>
<rect x="359.40" y="487.50" width="61.27" height="5.26" fill="#ffffff"/>
<rect x="359.40" y="492.36" width="61.27" height="5.26" fill="#e6e6ff"/>
<rect x="359.40" y="497.23" width="61.27" height="5.26" fill="#ffccff"/>
<rect x="359.40" y="502.09" width="61.27" height="10.13" fill="#ff99ff"/>
<rect x="359.40" y="511.82" width="61.27" height="5.26" fill="#ff66ff"/>
<rect x="359.40" y="516.68" width="61.27" height="5.26" fill="#ff80ff"/>
<rect x="359.40" y="521.55" width="61.27" height="10.13" fill="#ffccff"/>
<rect x="359.40" y="531.27" width="61.27" height="5.26" fill="#9999ff"/>
<rect x="359.40" y="536.14" width="61.27" height="5.26" fill="#ffffff"/>
<rect x="359.40" y="541.00" width="61.27" height="5.26" fill="#ccccff"/>
<rect x="359.40" y="545.86" width="61.27" height="10.13" fill="#ffccff"/>
<rect x="359.40" y="555.59" width="61.27" height="14.99" fill="#e6e6ff"/>
<rect x="359.40" y="570.18" width="61.27" height="5.26" fill="#ffe6ff"/>
<rect x="359.40" y="575.05" width="61.27" height="10.13" fill="#ffccff"/>
<rect x="359.40" y="584.77" width="61.27" height="5.26" fill="#ff80ff"/>
<rect x="359.40" y="589.64" width="61.27" height="5.26" fill="#e6e6ff"/>
<rect x="359.40" y="594.50" width="61.27" height="10.13" fill="#ffffff"/>
<rect x="359.40" y="604.23" width="61.27" height="5.26" fill="#ffccff"/>
<rect x="359.40" y="609.09" width="61.27" height="5.26" fill="#ff66ff"/>
<rect x="359.40" y="613.95" width="61.27" height="24.72" fill="#ff80ff"/>
<rect x="359.40" y="638.27" width="61.27" height="5.26" fill="#ff99ff"/>
<rect x="359.40" y="643.14" width="61.27" height="5.26" fill="#ffccff"/>
<rect x="359.40" y="648.00" width="61.27" height="14.99" fill="#ffffff"/>
<rect x="359.40" y="662.59" width="61.27" height="5.26" fill="#ffb2ff"/>
<rect x="359.40" y="667.45" width="61.27" height="5.26" fill="#ffccff"/>
<rect x="359.40" y="672.32" width="61.27" height="5.26" fill="#ccccff"/>
<rect x="359.40" y="677.18" width="61.27" height="5.26" fill="#ffffff"/>
<rect x="359.40" y="682.05" width="61.27" height="5.26" fill="#e6e6ff"/>
<rect x="359.40" y="686.91" width="61.27" height="5.26" fill="#ffffff"/>
<rect x="359.40" y="691.77" width="61.27" height="5.26" fill="#ffb2ff"/>
<rect x="359.40" y="696.64" width="61.27" height="10.13" fill="#ffccff"/>
<rect x="359.40" y="706.36" width="61.27" height="5.26" fill="#ff99ff"/>
<rect x="359.40" y="711.23" width="61.27" height="5.26" fill="#ff4dff"/>
<rect x="359.40" y="716.09" width="61.27" height="5.26" fill="#ff66ff"/>
<rect x="359.40" y="720.95" width="61.27" height="5.26" fill="#ff80ff"/>
<rect x="359.40" y="725.82" width="61.27" height="5.26" fill="#ff99ff"/>
<rect x="359.40" y="730.68" width="61.27" height="5.26" fill="#ff80ff"/>
<rect x="359.40" y="735.55" width="61.27" height="5.26" fill="#ffb2ff"/>
<rect x="359.40" y="740.41" width="61.27" height="5.26" fill="#ffccff"/>
<rect x="359.40" y="745.27" width="61.27" height="5.26" fill="#ff80ff"/>
<rect x="359.40" y="750.14" width="61.27" height="5.26" fill="#ff99ff"/>
<rect x="359.40" y="755.00" width="61.27" height="5.26" fill="#ff66ff"/>
<rect x="359.40" y="759.86" width="61.27" height="5.26" fill="#ffe6ff"/>
<rect x="359.40" y="764.73" width="61.27" height="5.26" fill="#ffccff"/>
<rect x="359.40" y="769.59" width="61.27" height="10.13" fill="#ffb2ff"/>
<rect x="359.40" y="779.32" width="61.27" height="5.26" fill="#ffe6ff"/>
<rect x="359.40" y="784.18" width="61.27" height="14.99" fill="#ccccff"/>
<rect x="359.40" y="798.77" width="61.27" height="5.26" fill="#e6e6ff"/>
<rect x="359.40" y="803.64" width="61.27" height="5.26" fill="#b2b2ff"/>
<rect x="359.40" y="808.50" width="61.27" height="10.13" fill="#ccccff"/>
<rect x="359.40" y="818.23" width="61.27" height="5.26" fill="#ffe6ff"/>
<rect x="359.40" y="823.09" width="61.27" height="5.26" fill="#e6e6ff"/>
<rect x="359.40" y="827.95" width="61.27" height="5.26" fill="#ccccff"/>
<rect x="359.40" y="832.82" width="61.27" height="10.13" fill="#ffb2ff"/>
<rect x="359.40" y="842.55" width="61.27" height="5.26" fill="#ff99ff"/>
<rect x="359.40" y="847.41" width="61.27" height="5.26" fill="#ff66ff"/>
<rect x="359.40" y="852.27" width="61.27" height="5.26" fill="#ffb2ff"/>
<rect x="359.40" y="857.14" width="61.27" height="5.26" fill="#ffccff"/>
<rect x="420.27" y="59.50" width="61.27" height="5.26" fill="#b2b2ff"/>
<rect x="420.27" y="64.36" width="61.27" height="10.13" fill="#e6e6ff"/>
<rect x="420.27" y="74.09" width="61.27" height="5.26" fill="#3333ff"/>
<rect x="420.27" y="78.95" width="61.27" height="5.26" fill="#6666ff"/>
<rect x="420.27" y="83.82" width="61.27" height="5.26" fill="#8080ff"/>
<rect x="420.27" y="88.68" width="61.27" height="5.26" fill="#6666ff"/>
<rect x="420.27" y="93.55" width="61.27" height="5.26" fill="#ccccff"/>
<rect x="420.27" y="98.41" width="61.27" height="5.26" fill="#9999ff"/>
<rect x="420.27" y="103.27" width="61.27" height="5.26" fill="#8080ff"/>
<rect x="420.27" y="108.14" width="61.27" height="5.26" fill="#b2b2ff"/>
<rect x="420.27" y="113.00" width="61.27" height="5.26" fill="#ffe6ff"/>
<rect x="420.27" y="117.86" width="61.27" height="10.13" fill="#e6e6ff"/>
<rect x="420.27" y="127.59" width="61.27" height="5.26" fill="#b2b2ff"/>
<rect x="420.27" y="132.45" width="61.27" height="10.13" fill="#9999ff"/>
<rect x="420.27" y="142.18" width="61.27" height="14.99" fill="#ffe6ff"/>
<rect x="420.27" y="156.77" width="61.27" height="5.26" fill="#e6e6ff"/>
<rect x="420.27" y="161.64" width="61.27" height="5.26" fill="#ccccff"/>
<rect x="420.27" y="166.50" width="61.27" height="5.26" fill="#b2b2ff"/>
<rect x="420.27" y="171.36" width="61.27" height="5.26" fill="#8080ff"/>
<rect x="420.27" y="176.23" width="61.27" height="5.26" fill="#ffffff"/>
<rect x="420.27" y="181.09" width="61.27" height="5.26" fill="#9999ff"/>
<rect x="420.27" y="185.95" width="61.27" height="5.26" fill="#8080ff"/>
<rect x="420.27" y="190.82" width="61.27" height="5.26" fill="#ffccff"/>
<rect x="420.27" y="195.68" width="61.27" height="5.26" fill="#ffe6ff"/>
<rect x="420.27" y="200.55" width="61.27" height="10.13" fill="#e6e6ff"/>
<rect x="420.27" y="210.27" width="61.27" height="5.26" fill="#ffffff"/>
<rect x="420.27" y="215.14" width="61.27" height="10.13" fill="#ffccff"/>
<rect x="420.27" y="224.86" width="61.27" height="5.26" fill="#ffffff"/>
<rect x="420.27" y="229.73" width="61.27" height="5.26" fill="#ccccff"/>
<rect x="420.27" y="234.59" width="61.27" height="5.26" fill="#ffe6ff"/>
<rect x="420.27" y="239.45" width="61.27" height="5.26" fill="#e6e6ff"/>
<rect x="420.27" y="244.32" width="61.27" height="14.99" fill="#ffccff"/>
<rect x="420.27" y="258.91" width="61.27" height="10.13" fill="#ffb2ff"/>
<rect x="420.27" y="268.64" width="61.27" height="5.26" fill="#e6e6ff"/>
<rect x="420.27" y="273.50" width="61.27" height="5.26" fill="#9999ff"/>
<rect x="420.27" y="278.36" width="61.27" height="5.26" fill="#8080ff"/>
<rect x="420.27" y="283.23" width="61.27" height="5.26" fill="#ccccff"/>
<rect x="420.27" y="288.09" width="61.27" height="10.13" fill="#9999ff"/>
<rect x="420.27" y="297.82" width="61.27" height="5.26" fill="#6666ff"/>
<rect x="420.27" y="302.68" width="61.27" height="5.26" fill="#8080ff"/>
<rect x="420.27" y="307.55" width="61.27" height="10.13" fill="#ffe6ff"/>
<rect x="420.27" y="317.27" width="61.27" height="10.13" fill="#e6e6ff"/>
<rect x="420.27" y="327.00" width="61.27" height="5.26" fill="#ffffff"/>
<rect x="420.27" y="331.86" width="61.27" height="5.26" fill="#ccccff"/>
<rect x="420.27" y="336.73" width="61.27" height="5.26" fill="#ffffff"/>
<rect x="420.27" y="341.59" width="61.27" height="5.26" fill="#ffccff"/>
<rect x="420.27" y="346.45" width="61.27" height="5.26" fill="#ccccff"/>
<rect x="420.27" y="351.32" width="61.27" height="5.26" fill="#b2b2ff"/>
<rect x="420.27" y="356.18" width="61.27" height="5.26" fill="#ccccff"/>
<rect x="420.27" y="361.05" width="61.27" height="5.26" fill="#ff99ff"/>
<rect x="420.27" y="365.91" width="61.27" height="10.13" fill="#ffb2ff"/>
<rect x="420.27" y="375.64" width="61.27" height="5.26" fill="#ffe6ff"/>
<rect x="420.27" y="380.50" width="61.27" height="5.26" fill="#e6e6ff"/>
<rect x="420.27" y="385.36" width="61.27" height="5.26" fill="#ffffff"/>
<rect x="420.27" y="390.23" width="61.27" height="5.26" fill="#ffe6ff"/>
<rect x="420.27" y="395.09" width="61.27" height="5.26" fill="#ffccff"/>
<rect x="420.27" y="399.95" width="61.27" height="5.26" fill="#ffe6ff"/>
<rect x="420.27" y="404.82" width="61.27" height="5.26" fill="#8080ff"/>
<rect x="420.27" y="409.68" width="61.27" height="5.26" fill="#9999ff"/>
<rect x="420.27" y="414.55" width="61.27" height="5.26" fill="#ccccff"/>
<rect x="420.27" y="419.41" width="61.27" height="5.26" fill="#9999ff"/>
<rect x="420.27" y="424.27" width="61.27" height="5.26" fill="#6666ff"/>
<rect x="420.27" y="429.14" width="61.27" height="5.26" fill="#4d4dff"/>
<rect x="420.27" y="434.00" width="61.27" height="5.26" fill="#9999ff"/>
<rect x="420.27" y="438.86" width="61.27" height="5.26" fill="#ffb2ff"/>
<rect x="420.27" y="443.73" width="61.27" height="5.26" fill="#ffe6ff"/>
<rect x="420.27" y="448.59" width="61.27" height="5.26" fill="#ffb2ff"/>
<rect x="420.27" y="453.45" width="61.27" height="10.13" fill="#ffe6ff"/>
<rect x="420.27" y="463.18" width="61.27" height="10.13" fill="#ffffff"/>
<rect x="420.27" y="472.91" width="61.27" height="5.26" fill="#9999ff"/>
<rect x="420.27" y="477.77" width="61.27" height="5.26" fill="#ffb2ff"/>
<rect x="420.27" y="482.64" width="61.27" height="5.26" fill="#ccccff"/>
<rect x="420.27" y="487.50" width="61.27" height="10.13" fill="#ffe6ff"/>
<rect x="420.27" y="497.23" width="61.27" height="5.26" fill="#ffffff"/>
<rect x="420.27" y="502.09" width="61.27" height="5.26" fill="#e6e6ff"/>
<rect x="420.27" y="506.95" width="61.27" height="5.26" fill="#ffb2ff"/>
<rect x="420.27" y="511.82" width="61.27" height="5.26" fill="#ff80ff"/>
<rect x="420.27" y="516.68" width="61.27" height="5.26" fill="#ffccff"/>
<rect x="420.27" y="521.55" width="61.27" height="10.13" fill="#ffffff"/>
<rect x="420.27" y="531.27" width="61.27" height="5.26" fill="#ff99ff"/>
<rect x="420.27" y="536.14" width="61.27" height="5.26" fill="#ffe6ff"/>
<rect x="420.27" y="541.00" width="61.27" height="5.26" fill="#ffb2ff"/>
<rect x="420.27" y="545.86" width="61.27" height="5.26" fill="#9999ff"/>
<rect x="420.27" y="550.73" width="61.27" height="10.13" fill="#ccccff"/>
<rect x="420.27" y="560.45" width="61.27" height="10.13" fill="#ffffff"/>
<rect x="420.27" y="570.18" width="61.27" height="5.26" fill="#ff33ff"/>
<rect x="420.27" y="575.05" width="61.27" height="10.13" fill="#ff99ff"/>
<rect x="420.27" y="584.77" width="61.27" height="5.26" fill="#ff80ff"/>
<rect x="420.27" y="589.64" width="61.27" height="5.26" fill="#ff33ff"/>
<rect x="420.27" y="594.50" width="61.27" height="5.26" fill="#ff80ff"/>
<rect x="420.27" y="599.36" width="61.27" height="5.26" fill="#ff4dff"/>
<rect x="420.27" y="604.23" width="61.27" height="5.26" fill="#ff33ff"/>
<rect x="420.27" y="609.09" width="61.27" height="10.13" fill="#ccccff"/>
<rect x="420.27" y="618.82" width="61.27" height="5.26" fill="#ffffff"/>
<rect x="420.27" y="623.68" width="61.27" height="5.26" fill="#ccccff"/>
<rect x="420.27" y="628.55" width="61.27" height="5.26" fill="#e6e6ff"/>
<rect x="420.27" y="633.41" width="61.27" height="5.26" fill="#9999ff"/>
<rect x="420.27" y="638.27" width="61.27" height="10.13" fill="#ccccff"/>
<rect x="420.27" y="648.00" width="61.27" height="5.26" fill="#e6e6ff"/>
<rect x="420.27" y="652.86" width="61.27" height="14.99" fill="#ccccff"/>
<rect x="420.27" y="667.45" width="61.27" height="5.26" fill="#ffffff"/>
<rect x="420.27" y="672.32" width="61.27" height="5.26" fill="#ccccff"/>
<rect x="420.27" y="677.18" width="61.27" height="5.26" fill="#ffccff"/>
<rect x="420.27" y="682.05" width="61.27" height="10.13" fill="#ffffff"/>
<rect x="420.27" y="691.77" width="61.27" height="10.13" fill="#b2b2ff"/>
<rect x="420.27" y="701.50" width="61.27" height="5.26" fill="#9999ff"/>
<rect x="420.27" y="706.36" width="61.27" height="10.13" fill="#ff80ff"/>
<rect x="420.27" y="716.09" width="61.27" height="5.26" fill="#ff99ff"/>
<rect x="420.27" y="720.95" width="61.27" height="5.26" fill="#ffffff"/>
<rect x="420.27" y="725.82" width="61.27" height="5.26" fill="#ffccff"/>
<rect x="420.27" y="730.68" width="61.27" height="5.26" fill="#ffffff"/>
<rect x="420.27" y="735.55" width="61.27" height="10.13" fill="#ffccff"/>
<rect x="420.27" y="745.27" width="61.27" height="10.13" fill="#ccccff"/>
<rect x="420.27" y="755.00" width="61.27" height="5.26" fill="#b2b2ff"/>
<rect x="420.27" y="759.86" width="61.27" height="10.13" fill="#ffb2ff"/>
<rect x="420.27" y="769.59" width="61.27" height="5.26" fill="#ff80ff"/>
<rect x="420.27" y="774.45" width="61.27" height="5.26" fill="#ff99ff"/>
<rect x="420.27" y="779.32" width="61.27" height="5.26" fill="#ffffff"/>
<rect x="420.27" y="784.18" width="61.27" height="5.26" fill="#ffccff"/>
<rect x="420.27" y="789.05" width="61.27" height="5.26" fill="#ff99ff"/>
<rect x="420.27" y="793.91" width="61.27" height="5.26" fill="#ffb2ff"/>
<rect x="420.27" y="798.77" width="61.27" height="5.26" fill="#ffe6ff"/>
<rect x="420.27" y="803.64" width="61.27" height="5.26" fill="#ffccff"/>
<rect x="420.27" y="808.50" width="61.27" height="10.13" fill="#ffb2ff"/>
<rect x="420.27" y="818.23" width="61.27" height="5.26" fill="#ffccff"/>
<rect x="420.27" y="823.09" width="61.27" height="10.13" fill="#ffb2ff"/>
<rect x="420.27" y="832.82" width="61.27" height="5.26" fill="#ffccff"/>
<rect x="420.27" y="837.68" width="61.27" height="19.85" fill="#ffb2ff"/>
<rect x="420.27" y="857.14" width="61.27" height="5.26" fill="#ffe6ff"/>
<rect x="481.13" y="59.50" width="61.27" height="5.26" fill="#ffccff"/>
<rect x="481.13" y="64.36" width="61.27" height="5.26" fill="#ff80ff"/>
<rect x="481.13" y="69.23" width="61.27" height="10.13" fill="#ff66ff"/>
<rect x="481.13" y="78.95" width="61.27" height="14.99" fill="#ff4dff"/>
<rect x="481.13" y="93.55" width="61.27" height="10.13" fill="#ff66ff"/>
<rect x="481.13" y="103.27" width="61.27" height="5.26" fill="#ff99ff"/>
<rect x="481.13" y="108.14" width="61.27" height="5.26" fill="#ffb2ff"/>
<rect x="481.13" y="113.00" width="61.27" height="5.26" fill="#ffccff"/>
<rect x="481.13" y="117.86" width="61.27" height="5.26" fill="#ff99ff"/>
<rect x="481.13" y="122.73" width="61.27" height="5.26" fill="#ff66ff"/>
<rect x="481.13" y="127.59" width="61.27" height="10.13" fill="#ff19ff"/>
<rect x="481.13" y="137.32" width="61.27" height="10.13" fill="#ffe6ff"/>
<rect x="481.13" y="147.05" width="61.27" height="10.13" fill="#ffccff"/>
<rect x="481.13" y="156.77" width="61.27" height="5.26" fill="#ff99ff"/>
<rect x="481.13" y="161.64" width="61.27" height="5.26" fill="#ff80ff"/>
<rect x="481.13" y="166.50" width="61.27" height="5.26" fill="#ff66ff"/>
<rect x="481.13" y="171.36" width="61.27" height="10.13" fill="#ff80ff"/>
<rect x="481.13" y="181.09" width="61.27" height="10.13" fill="#ff99ff"/>
<rect x="481.13" y="190.82" width="61.27" height="5.26" fill="#ffb2ff"/>
<rect x="481.13" y="195.68" width="61.27" height="5.26" fill="#ff80ff"/>
<rect x="481.13" y="200.55" width="61.27" height="5.26" fill="#ff99ff"/>
<rect x="481.13" y="205.41" width="61.27" height="10.13" fill="#ffb2ff"/>
<rect x="481.13" y="215.14" width="61.27" height="5.26" fill="#ffccff"/>
<rect x="481.13" y="220.00" width="61.27" height="5.26" fill="#ffb2ff"/>
<rect x="481.13" y="224.86" width="61.27" height="5.26" fill="#ccccff"/>
<rect x="481.13" y="229.73" width="61.27" height="5.26" fill="#ff99ff"/>
<rect x="481.13" y="234.59" width="61.27" height="5.26" fill="#ff66ff"/>
<rect x="481.13" y="239.45" width="61.27" height="5.26" fill="#ffb2ff"/>
<rect x="481.13" y="244.32" width="61.27" height="5.26" fill="#ff66ff"/>
<rect x="481.13" y="249.18" width="61.27" height="5.26" fill="#ff80ff"/>
<rect x="481.13" y="254.05" width="61.27" height="10.13" fill="#ff99ff"/>
<rect x="481.13" y="263.77" width="61.27" height="5.26" fill="#ffe6ff"/>
<rect x="481.13" y="268.64" width="61.27" height="5.26" fill="#e6e6ff"/>
<rect x="481.13" y="273.50" width="61.27" height="5.26" fill="#ccccff"/>
<rect x="481.13" y="278.36" width="61.27" height="14.99" fill="#ffffff"/>
<rect x="481.13" y="292.95" width="61.27" height="5.26" fill="#ffb2ff"/>
<rect x="481.13" y="297.82" width="61.27" height="5.26" fill="#ff80ff"/>
<rect x="481.13" y="302.68" width="61.27" height="10.13" fill="#ffb2ff"/>
<rect x="481.13" y="312.41" width="61.27" height="14.99" fill="#ffccff"/>
<rect x="481.13" y="327.00" width="61.27" height="10.13" fill="#ff80ff"/>
<rect x="481.13" y="336.73" width="61.27" height="10.13" fill="#ff33ff"/>
<rect x="481.13" y="346.45" width="61.27" height="5.26" fill="#ffe6ff"/>
<rect x="481.13" y="351.32" width="61.27" height="5.26" fill="#ff33ff"/>
<rect x="481.13" y="356.18" width="61.27" height="5.26" fill="#ffffff"/>
<rect x="481.13" y="361.05" width="61.27" height="5.26" fill="#ff99ff"/>
<rect x="481.13" y="365.91" width="61.27" height="5.26" fill="#ffccff"/>
<rect x="481.13" y="370.77" width="61.27" height="5.26" fill="#ffe6ff"/>
<rect x="481.13" y="375.64" width="61.27" height="5.26" fill="#ffccff"/>
<rect x="481.13" y="380.50" width="61.27" height="5.26" fill="#e6e6ff"/>
<rect x="481.13" y="385.36" width="61.27" height="5.26" fill="#ffb2ff"/>
<rect x="481.13" y="390.23" width="61.27" height="5.26" fill="#ffffff"/>
<rect x="481.13" y="395.09" width="61.27" height="5.26" fill="#ffccff"/>
<rect x="481.13" y="399.95" width="61.27" height="5.26" fill="#ffb2ff"/>
<rect x="481.13" y="404.82" width="61.27" height="10.13" fill="#ff80ff"/>
<rect x="481.13" y="414.55" width="61.27" height="5.26" fill="#ffb2ff"/>
<rect x="481.13" y="419.41" width="61.27" height="5.26" fill="#ffffff"/>
<rect x="481.13" y="424.27" width="61.27" height="10.13" fill="#ffccff"/>
<rect x="481.13" y="434.00" width="61.27" height="5.26" fill="#ff4dff"/>
<rect x="481.13" y="438.86" width="61.27" height="5.26" fill="#ffccff"/>
<rect x="481.13" y="443.73" width="61.27" height="5.26" fill="#ccccff"/>
<rect x="481.13" y="448.59" width="61.27" height="5.26" fill="#9999ff"/>
<rect x="481.13" y="453.45" width="61.27" height="5.26" fill="#ffffff"/>
<rect x="481.13" y="458.32" width="61.27" height="5.26" fill="#e6e6ff"/>
<rect x="481.13" y="463.18" width="61.27" height="5.26" fill="#9999ff"/>
<rect x="481.13" y="468.05" width="61.27" height="5.26" fill="#b2b2ff"/>
<rect x="481.13" y="472.91" width="61.27" height="5.26" fill="#9999ff"/>
<rect x="481.13" y="477.77" width="61.27" height="5.26" fill="#3333ff"/>
<rect x="481.13" y="482.64" width="61.27" height="5.26" fill="#ffffff"/>
<rect x="481.13" y="487.50" width="61.27" height="5.26" fill="#ccccff"/>
<rect x="481.13" y="492.36" width="61.27" height="5.26" fill="#ffffff"/>
<rect x="481.13" y="497.23" width="61.27" height="5.26" fill="#ccccff"/>
<rect x="481.13" y="502.09" width="61.27" height="5.26" fill="#ffe6ff"/>
<rect x="481.13" y="506.95" width="61.27" height="10.13" fill="#8080ff"/>
<rect x="481.13" y="516.68" width="61.27" height="5.26" fill="#1919ff"/>
<rect x="481.13" y="521.55" width="61.27" height="5.26" fill="#6666ff"/>
<rect x="481.13" y="526.41" width="61.27" height="5.26" fill="#4d4dff"/>
<rect x="481.13" y="531.27" width="61.27" height="5.26" fill="#6666ff"/>
<rect x="481.13" y="536.14" width="61.27" height="5.26" fill="#ffccff"/>
<rect x="481.13" y="541.00" width="61.27" height="5.26" fill="#ccccff"/>
<rect x="481.13" y="545.86" width="61.27" height="5.26" fill="#b2b2ff"/>
<rect x="481.13" y="550.73" width="61.27" height="5.26" fill="#9999ff"/>
<rect x="481.13" y="555.59" width="61.27" height="10.13" fill="#e6e6ff"/>
<rect x="481.13" y="565.32" width="61.27" height="5.26" fill="#b2b2ff"/>
<rect x="481.13" y="570.18" width="61.27" height="5.26" fill="#ccccff"/>
<rect x="481.13" y="575.05" width="61.27" height="10.13" fill="#1919ff"/>
<rect x="481.13" y="584.77" width="61.27" height="14.99" fill="#6666ff"/>
<rect x="481.13" y="599.36" width="61.27" height="5.26" fill="#3333ff"/>
<rect x="481.13" y="604.23" width="61.27" height="5.26" fill="#6666ff"/>
<rect x="481.13" y="609.09" width="61.27" height="5.26" fill="#b2b2ff"/>
<rect x="481.13" y="613.95" width="61.27" height="5.26" fill="#8080ff"/>
<rect x="481.13" y="618.82" width="61.27" height="5.26" fill="#b2b2ff"/>
<rect x="481.13" y="623.68" width="61.27" height="5.26" fill="#8080ff"/>
<rect x="481.13" y="628.55" width="61.27" height="10.13" fill="#9999ff"/>
<rect x="481.13" y="638.27" width="61.27" height="10.13" fill="#1919ff"/>
<rect x="481.13" y="648.00" width="61.27" height="5.26" fill="#ffffff"/>
<rect x="481.13" y="652.86" width="61.27" height="10.13" fill="#ccccff"/>
<rect x="481.13" y="662.59" width="61.27" height="14.99" fill="#ffe6ff"/>
<rect x="481.13" y="677.18" width="61.27" height="5.26" fill="#b2b2ff"/>
<rect x="481.13" y="682.05" width="61.27" height="10.13" fill="#9999ff"/>
<rect x="481.13" y="691.77" width="61.27" height="5.26" fill="#ffffff"/>
<rect x="481.13" y="696.64" width="61.27" height="5.26" fill="#b2b2ff"/>
<rect x="481.13" y="701.50" width="61.27" height="5.26" fill="#ccccff"/>
<rect x="481.13" y="706.36" width="61.27" height="5.26" fill="#ffffff"/>
<rect x="481.13" y="711.23" width="61.27" height="5.26" fill="#ccccff"/>
<rect x="481.13" y="716.09" width="61.27" height="5.26" fill="#ffffff"/>
<rect x="481.13" y="720.95" width="61.27" height="5.26" fill="#8080ff"/>
<rect x="481.13" y="725.82" width="61.27" height="5.26" fill="#ccccff"/>
<rect x="481.13" y="730.68" width="61.27" height="5.26" fill="#b2b2ff"/>
<rect x="481.13" y="735.55" width="61.27" height="10.13" fill="#ffe6ff"/>
<rect x="481.13" y="745.27" width="61.27" height="5.26" fill="#ffffff"/>
<rect x="481.13" y="750.14" width="61.27" height="5.26" fill="#ccccff"/>
<rect x="481.13" y="755.00" width="61.27" height="5.26" fill="#ffffff"/>
<rect x="481.13" y="759.86" width="61.27" height="5.26" fill="#9999ff"/>
<rect x="481.13" y="764.73" width="61.27" height="5.26" fill="#b2b2ff"/>
<rect x="481.13" y="769.59" width="61.27" height="5.26" fill="#e6e6ff"/>
<rect x="481.13" y="774.45" width="61.27" height="5.26" fill="#ffccff"/>
<rect x="481.13" y="779.32" width="61.27" height="5.26" fill="#e6e6ff"/>
<rect x="481.13" y="784.18" width="61.27" height="5.26" fill="#6666ff"/>
<rect x="481.13" y="789.05" width="61.27" height="19.85" fill="#4d4dff"/>
<rect x="481.13" y="808.50" width="61.27" height="14.99" fill="#ffffff"/>
<rect x="481.13" y="823.09" width="61.27" height="5.26" fill="#ccccff"/>
<rect x="481.13" y="827.95" width="61.27" height="5.26" fill="#9999ff"/>
<rect x="481.13" y="832.82" width="61.27" height="5.26" fill="#4d4dff"/>
<rect x="481.13" y="837.68" width="61.27" height="5.26" fill="#8080ff"/>
<rect x="481.13" y="842.55" width="61.27" height="5.26" fill="#b2b2ff"/>
<rect x="481.13" y="847.41" width="61.27" height="5.26" fill="#8080ff"/>
<rect x="481.13" y="852.27" width="61.27" height="5.26" fill="#6666ff"/>
<rect x="481.13" y="857.14" width="61.27" height="5.26" fill="#4d4dff"/>
<rect x="542.00" y="59.50" width="61.27" height="5.26" fill="#ffb2ff"/>
<rect x="542.00" y="64.36" width="61.27" height="10.13" fill="#ff80ff"/>
<rect x="542.00" y="74.09" width="61.27" height="5.26" fill="#ffb2ff"/>
<rect x="542.00" y="78.95" width="61.27" height="5.26" fill="#ffffff"/>
<rect x="542.00" y="83.82" width="61.27" height="10.13" fill="#ffb2ff"/>
<rect x="542.00" y="93.55" width="61.27" height="5.26" fill="#ff99ff"/>
<rect x="542.00" y="98.41" width="61.27" height="19.85" fill="#ffb2ff"/>
<rect x="542.00" y="117.86" width="61.27" height="5.26" fill="#ff4dff"/>
<rect x="542.00" y="122.73" width="61.27" height="5.26" fill="#ffb2ff"/>
<rect x="542.00" y="127.59" width="61.27" height="5.26" fill="#ffffff"/>
<rect x="542.00" y="132.45" width="61.27" height="5.26" fill="#ffe6ff"/>
<rect x="542.00" y="137.32" width="61.27" height="5.26" fill="#ff66ff"/>
<rect x="542.00" y="142.18" width="61.27" height="5.26" fill="#ff80ff"/>
<rect x="542.00" y="147.05" width="61.27" height="10.13" fill="#ff99ff"/>
<rect x="542.00" y="156.77" width="61.27" height="5.26" fill="#ffccff"/>
<rect x="542.00" y="161.64" width="61.27" height="5.26" fill="#ffe6ff"/>
<rect x="542.00" y="166.50" width="61.27" height="5.26" fill="#ffb2ff"/>
<rect x="542.00" y="171.36" width="61.27" height="5.26" fill="#ff99ff"/>
<rect x="542.00" y="176.23" width="61.27" height="5.26" fill="#ffffff"/>
<rect x="542.00" y="181.09" width="61.27" height="5.26" fill="#ff66ff"/>
<rect x="542.00" y="185.95" width="61.27" height="5.26" fill="#ff80ff"/>
<rect x="542.00" y="190.82" width="61.27" height="10.13" fill="#ff99ff"/>
<rect x="542.00" y="200.55" width="61.27" height="5.26" fill="#ffccff"/>
<rect x="542.00" y="205.41" width="61.27" height="5.26" fill="#ffffff"/>
<rect x="542.00" y="210.27" width="61.27" height="5.26" fill="#ffccff"/>
<rect x="542.00" y="215.14" width="61.27" height="5.26" fill="#ffb2ff"/>
<rect x="542.00" y="220.00" width="61.27" height="10.13" fill="#ff99ff"/>
<rect x="542.00" y="229.73" width="61.27" height="19.85" fill="#ff4dff"/>
<rect x="542.00" y="249.18" width="61.27" height="5.26" fill="#ff99ff"/>
<rect x="542.00" y="254.05" width="61.27" height="5.26" fill="#ffb2ff"/>
<rect x="542.00" y="258.91" width="61.27" height="10.13" fill="#ff80ff"/>
<rect x="542.00" y="268.64" width="61.27" height="10.13" fill="#ff4dff"/>
<rect x="542.00" y="278.36" width="61.27" height="5.26" fill="#ff99ff"/>
<rect x="542.00" y="283.23" width="61.27" height="5.26" fill="#ffb2ff"/>
<rect x="542.00" y="288.09" width="61.27" height="5.26" fill="#ffffff"/>
<rect x="542.00" y="292.95" width="61.27" height="14.99" fill="#ffb2ff"/>
<rect x="542.00" y="307.55" width="61.27" height="10.13" fill="#ff80ff"/>
<rect x="542.00" y="317.27" width="61.27" height="10.13" fill="#ff66ff"/>
<rect x="542.00" y="327.00" width="61.27" height="10.13" fill="#ffb2ff"/>
<rect x="542.00" y="336.73" width="61.27" height="10.13" fill="#ff99ff"/>
<rect x="542.00" y="346.45" width="61.27" height="5.26" fill="#ffe6ff"/>
<rect x="542.00" y="351.32" width="61.27" height="5.26" fill="#e6e6ff"/>
<rect x="542.00" y="356.18" width="61.27" height="5.26" fill="#ffffff"/>
<rect x="542.00" y="361.05" width="61.27" height="5.26" fill="#ffe6ff"/>
<rect x="542.00" y="365.91" width="61.27" height="5.26" fill="#ff99ff"/>
<rect x="542.00" y="370.77" width="61.27" height="5.26" fill="#ffe6ff"/>
<rect x="542.00" y="375.64" width="61.27" height="5.26" fill="#ffb2ff"/>
<rect x="542.00" y="380.50" width="61.27" height="5.26" fill="#ffccff"/>
<rect x="542.00" y="385.36" width="61.27" height="10.13" fill="#ff99ff"/>
<rect x="542.00" y="395.09" width="61.27" height="5.26" fill="#ffccff"/>
<rect x="542.00" y="399.95" width="61.27" height="5.26" fill="#ff99ff"/>
<rect x="542.00" y="404.82" width="61.27" height="5.26" fill="#ffb2ff"/>
<rect x="542.00" y="409.68" width="61.27" height="10.13" fill="#ff66ff"/>
<rect x="542.00" y="419.41" width="61.27" height="10.13" fill="#ffb2ff"/>
<rect x="542.00" y="429.14" width="61.27" height="5.26" fill="#ff66ff"/>
<rect x="542.00" y="434.00" width="61.27" height="5.26" fill="#ff80ff"/>
<rect x="542.00" y="438.86" width="61.27" height="5.26" fill="#1919ff"/>
<rect x="542.00" y="443.73" width="61.27" height="10.13" fill="#9999ff"/>
<rect x="542.00" y="453.45" width="61.27" height="5.26" fill="#1919ff"/>
<rect x="542.00" y="458.32" width="61.27" height="5.26" fill="#6666ff"/>
<rect x="542.00" y="463.18" width="61.27" height="5.26" fill="#9999ff"/>
<rect x="542.00" y="468.05" width="61.27" height="5.26" fill="#b2b2ff"/>
<rect x="542.00" y="472.91" width="61.27" height="5.26" fill="#6666ff"/>
<rect x="542.00" y="477.77" width="61.27" height="5.26" fill="#ccccff"/>
<rect x="542.00" y="482.64" width="61.27" height="10.13" fill="#e6e6ff"/>
<rect x="542.00" y="492.36" width="61.27" height="5.26" fill="#9999ff"/>
<rect x="542.00" y="497.23" width="61.27" height="5.26" fill="#6666ff"/>
<rect x="542.00" y="502.09" width="61.27" height="5.26" fill="#8080ff"/>
<rect x="542.00" y="506.95" width="61.27" height="10.13" fill="#b2b2ff"/>
<rect x="542.00" y="516.68" width="61.27" height="5.26" fill="#9999ff"/>
<rect x="542.00" y="521.55" width="61.27" height="5.26" fill="#ffccff"/>
<rect x="542.00" y="526.41" width="61.27" height="5.26" fill="#ffffff"/>
<rect x="542.00" y="531.27" width="61.27" height="5.26" fill="#ffccff"/>
<rect x="542.00" y="536.14" width="61.27" height="5.26" fill="#ccccff"/>
<rect x="542.00" y="541.00" width="61.27" height="10.13" fill="#e6e6ff"/>
<rect x="542.00" y="550.73" width="61.27" height="5.26" fill="#ffffff"/>
<rect x="542.00" y="555.59" width="61.27" height="5.26" fill="#e6e6ff"/>
<rect x="542.00" y="560.45" width="61.27" height="10.13" fill="#ffffff"/>
<rect x="542.00" y="570.18" width="61.27" height="5.26" fill="#b2b2ff"/>
<rect x="542.00" y="575.05" width="61.27" height="5.26" fill="#ffb2ff"/>
<rect x="542.00" y="579.91" width="61.27" height="5.26" fill="#ffe6ff"/>
<rect x="542.00" y="584.77" width="61.27" height="10.13" fill="#e6e6ff"/>
<rect x="542.00" y="594.50" width="61.27" height="14.99" fill="#ccccff"/>
<rect x="542.00" y="609.09" width="61.27" height="5.26" fill="#9999ff"/>
<rect x="542.00" y="613.95" width="61.27" height="5.26" fill="#8080ff"/>
<rect x="542.00" y="618.82" width="61.27" height="10.13" fill="#9999ff"/>
<rect x="542.00" y="628.55" width="61.27" height="19.85" fill="#ffffff"/>
<rect x="542.00" y="648.00" width="61.27" height="5.26" fill="#ccccff"/>
<rect x="542.00" y="652.86" width="61.27" height="5.26" fill="#8080ff"/>
<rect x="542.00" y="657.73" width="61.27" height="5.26" fill="#9999ff"/>
<rect x="542.00" y="662.59" width="61.27" height="10.13" fill="#1919ff"/>
<rect x="542.00" y="672.32" width="61.27" height="5.26" fill="#4d4dff"/>
<rect x="542.00" y="677.18" width="61.27" height="5.26" fill="#6666ff"/>
<rect x="542.00" y="682.05" width="61.27" height="5.26" fill="#4d4dff"/>
<rect x="542.00" y="686.91" width="61.27" height="5.26" fill="#3333ff"/>
<rect x="542.00" y="691.77" width="61.27" height="10.13" fill="#8080ff"/>
<rect x="542.00" y="701.50" width="61.27" height="5.26" fill="#9999ff"/>
<rect x="542.00" y="706.36" width="61.27" height="10.13" fill="#ffffff"/>
<rect x="542.00" y="716.09" width="61.27" height="5.26" fill="#8080ff"/>
<rect x="542.00" y="720.95" width="61.27" height="5.26" fill="#ffffff"/>
<rect x="542.00" y="725.82" width="61.27" height="5.26" fill="#ccccff"/>
<rect x="542.00" y="730.68" width="61.27" height="5.26" fill="#ffccff"/>
<rect x="542.00" y="735.55" width="61.27" height="10.13" fill="#b2b2ff"/>
<rect x="542.00" y="745.27" width="61.27" height="5.26" fill="#ccccff"/>
<rect x="542.00" y="750.14" width="61.27" height="5.26" fill="#ffffff"/>
<rect x="542.00" y="755.00" width="61.27" height="5.26" fill="#b2b2ff"/>
<rect x="542.00" y="759.86" width="61.27" height="5.26" fill="#ffffff"/>
<rect x="542.00" y="764.73" width="61.27" height="5.26" fill="#ccccff"/>
<rect x="542.00" y="769.59" width="61.27" height="5.26" fill="#9999ff"/>
<rect x="542.00" y="774.45" width="61.27" height="5.26" fill="#4d4dff"/>
<rect x="542.00" y="779.32" width="61.27" height="5.26" fill="#8080ff"/>
<rect x="542.00" y="784.18" width="61.27" height="10.13" fill="#ffffff"/>
<rect x="542.00" y="793.91" width="61.27" height="5.26" fill="#e6e6ff"/>
<rect x="542.00" y="798.77" width="61.27" height="10.13" fill="#9999ff"/>
<rect x="542.00" y="808.50" width="61.27" height="14.99" fill="#8080ff"/>
<rect x="542.00" y="823.09" width="61.27" height="5.26" fill="#b2b2ff"/>
<rect x="542.00" y="827.95" width="61.27" height="5.26" fill="#ccccff"/>
<rect x="542.00" y="832.82" width="61.27" height="5.26" fill="#9999ff"/>
<rect x="542.00" y="837.68" width="61.27" height="10.13" fill="#4d4dff"/>
<rect x="542.00" y="847.41" width="61.27" height="5.26" fill="#8080ff"/>
<rect x="542.00" y="852.27" width="61.27" height="5.26" fill="#9999ff"/>
<rect x="542.00" y="857.14" width="61.27" height="5.26" fill="#8080ff"/>
<rect x="602.87" y="59.50" width="61.27" height="5.26" fill="#ffccff"/>
<rect x="602.87" y="64.36" width="61.27" height="5.26" fill="#e6e6ff"/>
<rect x="602.87" y="69.23" width="61.27" height="10.13" fill="#ffffff"/>
<rect x="602.87" y="78.95" width="61.27" height="10.13" fill="#ffb2ff"/>
<rect x="602.87" y="88.68" width="61.27" height="5.26" fill="#ffccff"/>
<rect x="602.87" y="93.55" width="61.27" height="5.26" fill="#ffe6ff"/>
<rect x="602.87" y="98.41" width="61.27" height="5.26" fill="#ffccff"/>
<rect x="602.87" y="103.27" width="61.27" height="5.26" fill="#ff99ff"/>
<rect x="602.87" y="108.14" width="61.27" height="5.26" fill="#ff80ff"/>
<rect x="602.87" y="113.00" width="61.27" height="5.26" fill="#ffffff"/>
<rect x="602.87" y="117.86" width="61.27" height="5.26" fill="#ffccff"/>
<rect x="602.87" y="122.73" width="61.27" height="10.13" fill="#ffffff"/>
<rect x="602.87" y="132.45" width="61.27" height="5.26" fill="#ccccff"/>
<rect x="602.87" y="137.32" width="61.27" height="5.26" fill="#ffb2ff"/>
<rect x="602.87" y="142.18" width="61.27" height="10.13" fill="#ffccff"/>
<rect x="602.87" y="151.91" width="61.27" height="5.26" fill="#ff99ff"/>
<rect x="602.87" y="156.77" width="61.27" height="5.26" fill="#ffe6ff"/>
<rect x="602.87" y="161.64" width="61.27" height="5.26" fill="#b2b2ff"/>
<rect x="602.87" y="166.50" width="61.27" height="5.26" fill="#ffccff"/>
<rect x="602.87" y="171.36" width="61.27" height="5.26" fill="#ffb2ff"/>
<rect x="602.87" y="176.23" width="61.27" height="5.26" fill="#ffffff"/>
<rect x="602.87" y="181.09" width="61.27" height="5.26" fill="#ccccff"/>
<rect x="602.87" y="185.95" width="61.27" height="5.26" fill="#b2b2ff"/>
<rect x="602.87" y="190.82" width="61.27" height="5.26" fill="#ff66ff"/>
<rect x="602.87" y="195.68" width="61.27" height="5.26" fill="#ffb2ff"/>
<rect x="602.87" y="200.55" width="61.27" height="5.26" fill="#ff80ff"/>
<rect x="602.87" y="205.41" width="61.27" height="5.26" fill="#ff19ff"/>
<rect x="602.87" y="210.27" width="61.27" height="5.26" fill="#ff99ff"/>
<rect x="602.87" y="215.14" width="61.27" height="10.13" fill="#ff66ff"/>
<rect x="602.87" y="224.86" width="61.27" height="5.26" fill="#ff19ff"/>
<rect x="602.87" y="229.73" width="61.27" height="5.26" fill="#ff99ff"/>
<rect x="602.87" y="234.59" width="61.27" height="5.26" fill="#ffb2ff"/>
<rect x="602.87" y="239.45" width="61.27" height="5.26" fill="#ff99ff"/>
<rect x="602.87" y="244.32" width="61.27" height="5.26" fill="#ffffff"/>
<rect x="602.87" y="249.18" width="61.27" height="5.26" fill="#ffb2ff"/>
<rect x="602.87" y="254.05" width="61.27" height="5.26" fill="#ff66ff"/>
<rect x="602.87" y="258.91" width="61.27" height="10.13" fill="#ffccff"/>
<rect x="602.87" y="268.64" width="61.27" height="5.26" fill="#ff99ff"/>
<rect x="602.87" y="273.50" width="61.27" height="5.26" fill="#ffccff"/>
<rect x="602.87" y="278.36" width="61.27" height="5.26" fill="#ffb2ff"/>
<rect x="602.87" y="283.23" width="61.27" height="10.13" fill="#ff33ff"/>
<rect x="602.87" y="292.95" width="61.27" height="5.26" fill="#ffccff"/>
<rect x="602.87" y="297.82" width="61.27" height="5.26" fill="#ff99ff"/>
<rect x="602.87" y="302.68" width="61.27" height="5.26" fill="#ff4dff"/>
<rect x="602.87" y="307.55" width="61.27" height="5.26" fill="#ff99ff"/>
<rect x="602.87" y="312.41" width="61.27" height="5.26" fill="#ffccff"/>
<rect x="602.87" y="317.27" width="61.27" height="5.26" fill="#ffb2ff"/>
<rect x="602.87" y="322.14" width="61.27" height="5.26" fill="#ffccff"/>
<rect x="602.87" y="327.00" width="61.27" height="5.26" fill="#ffe6ff"/>
<rect x="602.87" y="331.86" width="61.27" height="5.26" fill="#ffffff"/>
<rect x="602.87" y="336.73" width="61.27" height="5.26" fill="#ffccff"/>
<rect x="602.87" y="341.59" width="61.27" height="5.26" fill="#ffffff"/>
<rect x="602.87" y="346.45" width="61.27" height="5.26" fill="#ff66ff"/>
<rect x="602.87" y="351.32" width="61.27" height="5.26" fill="#ffe6ff"/>
<rect x="602.87" y="356.18" width="61.27" height="5.26" fill="#ffccff"/>
<rect x="602.87" y="361.05" width="61.27" height="10.13" fill="#ffe6ff"/>
<rect x="602.87" y="370.77" width="61.27" height="5.26" fill="#ff99ff"/>
<rect x="602.87" y="375.64" width="61.27" height="5.26" fill="#ffccff"/>
<rect x="602.87" y="380.50" width="61.27" height="5.26" fill="#ff99ff"/>
<rect x="602.87" y="385.36" width="61.27" height="10.13" fill="#ffb2ff"/>
<rect x="602.87" y="395.09" width="61.27" height="5.26" fill="#ff66ff"/>
<rect x="602.87" y="399.95" width="61.27" height="5.26" fill="#ff80ff"/>
<rect x="602.87" y="404.82" width="61.27" height="5.26" fill="#ffb2ff"/>
<rect x="602.87" y="409.68" width="61.27" height="10.13" fill="#ff80ff"/>
<rect x="602.87" y="419.41" width="61.27" height="5.26" fill="#ff33ff"/>
<rect x="602.87" y="424.27" width="61.27" height="5.26" fill="#ff66ff"/>
<rect x="602.87" y="429.14" width="61.27" height="5.26" fill="#ff4dff"/>
<rect x="602.87" y="434.00" width="61.27" height="5.26" fill="#ff80ff"/>
<rect x="602.87" y="438.86" width="61.27" height="10.13" fill="#ffb2ff"/>
<rect x="602.87" y="448.59" width="61.27" height="5.26" fill="#ffffff"/>
<rect x="602.87" y="453.45" width="61.27" height="5.26" fill="#ccccff"/>
<rect x="602.87" y="458.32" width="61.27" height="5.26" fill="#9999ff"/>
<rect x="602.87" y="463.18" width="61.27" height="5.26" fill="#ffffff"/>
<rect x="602.87" y="468.05" width="61.27" height="10.13" fill="#ffe6ff"/>
<rect x="602.87" y="477.77" width="61.27" height="5.26" fill="#ffffff"/>
<rect x="602.87" y="482.64" width="61.27" height="5.26" fill="#9999ff"/>
<rect x="602.87" y="487.50" width="61.27" height="5.26" fill="#ccccff"/>
<rect x="602.87" y="492.36" width="61.27" height="5.26" fill="#8080ff"/>
<rect x="602.87" y="497.23" width="61.27" height="5.26" fill="#b2b2ff"/>
<rect x="602.87" y="502.09" width="61.27" height="5.26" fill="#9999ff"/>
<rect x="602.87" y="506.95" width="61.27" height="5.26" fill="#e6e6ff"/>
<rect x="602.87" y="511.82" width="61.27" height="5.26" fill="#ffffff"/>
<rect x="602.87" y="516.68" width="61.27" height="5.26" fill="#ffe6ff"/>
<rect x="602.87" y="521.55" width="61.27" height="10.13" fill="#ffffff"/>
<rect x="602.87" y="531.27" width="61.27" height="5.26" fill="#ccccff"/>
<rect x="602.87" y="536.14" width="61.27" height="10.13" fill="#e6e6ff"/>
<rect x="602.87" y="545.86" width="61.27" height="5.26" fill="#ccccff"/>
<rect x="602.87" y="550.73" width="61.27" height="5.26" fill="#9999ff"/>
<rect x="602.87" y="555.59" width="61.27" height="5.26" fill="#ccccff"/>
<rect x="602.87" y="560.45" width="61.27" height="5.26" fill="#6666ff"/>
<rect x="602.87" y="565.32" width="61.27" height="10.13" fill="#9999ff"/>
<rect x="602.87" y="575.05" width="61.27" height="5.26" fill="#ccccff"/>
<rect x="602.87" y="579.91" width="61.27" height="10.13" fill="#b2b2ff"/>
<rect x="602.87" y="589.64" width="61.27" height="10.13" fill="#ccccff"/>
<rect x="602.87" y="599.36" width="61.27" height="5.26" fill="#ffffff"/>
<rect x="602.87" y="604.23" width="61.27" height="5.26" fill="#ccccff"/>
<rect x="602.87" y="609.09" width="61.27" height="5.26" fill="#8080ff"/>
<rect x="602.87" y="613.95" width="61.27" height="5.26" fill="#b2b2ff"/>
<rect x="602.87" y="618.82" width="61.27" height="5.26" fill="#4d4dff"/>
<rect x="602.87" y="623.68" width="61.27" height="5.26" fill="#ccccff"/>
<rect x="602.87" y="628.55" width="61.27" height="5.26" fill="#b2b2ff"/>
<rect x="602.87" y="633.41" width="61.27" height="5.26" fill="#9999ff"/>
<rect x="602.87" y="638.27" width="61.27" height="5.26" fill="#ffffff"/>
<rect x="602.87" y="643.14" width="61.27" height="5.26" fill="#ccccff"/>
<rect x="602.87" y="648.00" width="61.27" height="5.26" fill="#1919ff"/>
<rect x="602.87" y="652.86" width="61.27" height="5.26" fill="#6666ff"/>
<rect x="602.87" y="657.73" width="61.27" height="5.26" fill="#8080ff"/>
<rect x="602.87" y="662.59" width="61.27" height="5.26" fill="#ccccff"/>
<rect x="602.87" y="667.45" width="61.27" height="10.13" fill="#b2b2ff"/>
<rect x="602.87" y="677.18" width="61.27" height="5.26" fill="#6666ff"/>
<rect x="602.87" y="682.05" width="61.27" height="5.26" fill="#ccccff"/>
<rect x="602.87" y="686.91" width="61.27" height="5.26" fill="#e6e6ff"/>
<rect x="602.87" y="691.77" width="61.27" height="5.26" fill="#b2b2ff"/>
<rect x="602.87" y="696.64" width="61.27" height="10.13" fill="#ccccff"/>
<rect x="602.87" y="706.36" width="61.27" height="5.26" fill="#1919ff"/>
<rect x="602.87" y="711.23" width="61.27" height="5.26" fill="#6666ff"/>
<rect x="602.87" y="716.09" width="61.27" height="5.26" fill="#b2b2ff"/>
<rect x="602.87" y="720.95" width="61.27" height="10.13" fill="#6666ff"/>
<rect x="602.87" y="730.68" width="61.27" height="5.26" fill="#9999ff"/>
<rect x="602.87" y="735.55" width="61.27" height="10.13" fill="#8080ff"/>
<rect x="602.87" y="745.27" width="61.27" height="5.26" fill="#b2b2ff"/>
<rect x="602.87" y="750.14" width="61.27" height="5.26" fill="#9999ff"/>
<rect x="602.87" y="755.00" width="61.27" height="5.26" fill="#b2b2ff"/>
<rect x="602.87" y="759.86" width="61.27" height="14.99" fill="#1919ff"/>
<rect x="602.87" y="774.45" width="61.27" height="5.26" fill="#4d4dff"/>
<rect x="602.87" y="779.32" width="61.27" height="5.26" fill="#8080ff"/>
<rect x="602.87" y="784.18" width="61.27" height="5.26" fill="#9999ff"/>
<rect x="602.87" y="789.05" width="61.27" height="5.26" fill="#b2b2ff"/>
<rect x="602.87" y="793.91" width="61.27" height="5.26" fill="#9999ff"/>
<rect x="602.87" y="798.77" width="61.27" height="5.26" fill="#b2b2ff"/>
<rect x="602.87" y="803.64" width="61.27" height="5.26" fill="#9999ff"/>
<rect x="602.87" y="808.50" width="61.27" height="14.99" fill="#b2b2ff"/>
<rect x="602.87" y="823.09" width="61.27" height="5.26" fill="#6666ff"/>
<rect x="602.87" y="827.95" width="61.27" height="5.26" fill="#9999ff"/>
<rect x="602.87" y="832.82" width="61.27" height="5.26" fill="#8080ff"/>
<rect x="602.87" y="837.68" width="61.27" height="5.26" fill="#e6e6ff"/>
<rect x="602.87" y="842.55" width="61.27" height="5.26" fill="#9999ff"/>
<rect x="602.87" y="847.41" width="61.27" height="10.13" fill="#b2b2ff"/>
<rect x="602.87" y="857.14" width="61.27" height="5.26" fill="#e6e6ff"/>
<rect x="663.73" y="59.50" width="61.27" height="5.26" fill="#ff66ff"/>
<rect x="663.73" y="64.36" width="61.27" height="5.26" fill="#ff80ff"/>
<rect x="663.73" y="69.23" width="61.27" height="5.26" fill="#ffccff"/>
<rect x="663.73" y="74.09" width="61.27" height="5.26" fill="#ff99ff"/>
<rect x="663.73" y="78.95" width="61.27" height="10.13" fill="#ffb2ff"/>
<rect x="663.73" y="88.68" width="61.27" height="14.99" fill="#ff99ff"/>
<rect x="663.73" y="103.27" width="61.27" height="5.26" fill="#ff80ff"/>
<rect x="663.73" y="108.14" width="61.27" height="10.13" fill="#ff99ff"/>
<rect x="663.73" y="117.86" width="61.27" height="5.26" fill="#e6e6ff"/>
<rect x="663.73" y="122.73" width="61.27" height="5.26" fill="#ff66ff"/>
<rect x="663.73" y="127.59" width="61.27" height="10.13" fill="#ff99ff"/>
<rect x="663.73" y="137.32" width="61.27" height="5.26" fill="#ff80ff"/>
<rect x="663.73" y="142.18" width="61.27" height="14.99" fill="#ff66ff"/>
<rect x="663.73" y="156.77" width="61.27" height="10.13" fill="#ff33ff"/>
<rect x="663.73" y="166.50" width="61.27" height="10.13" fill="#ff80ff"/>
<rect x="663.73" y="176.23" width="61.27" height="5.26" fill="#ff33ff"/>
<rect x="663.73" y="181.09" width="61.27" height="10.13" fill="#ff4dff"/>
<rect x="663.73" y="190.82" width="61.27" height="10.13" fill="#ffffff"/>
<rect x="663.73" y="200.55" width="61.27" height="10.13" fill="#ffe6ff"/>
<rect x="663.73" y="210.27" width="61.27" height="5.26" fill="#ff99ff"/>
<rect x="663.73" y="215.14" width="61.27" height="5.26" fill="#ffccff"/>
<rect x="663.73" y="220.00" width="61.27" height="5.26" fill="#ffb2ff"/>
<rect x="663.73" y="224.86" width="61.27" height="5.26" fill="#ffccff"/>
<rect x="663.73" y="229.73" width="61.27" height="5.26" fill="#ffffff"/>
<rect x="663.73" y="234.59" width="61.27" height="5.26" fill="#b2b2ff"/>
<rect x="663.73" y="239.45" width="61.27" height="5.26" fill="#ffffff"/>
<rect x="663.73" y="244.32" width="61.27" height="5.26" fill="#e6e6ff"/>
<rect x="663.73" y="249.18" width="61.27" height="5.26" fill="#ffffff"/>
<rect x="663.73" y="254.05" width="61.27" height="5.26" fill="#ffe6ff"/>
<rect x="663.73" y="258.91" width="61.27" height="14.99" fill="#ffb2ff"/>
<rect x="663.73" y="273.50" width="61.27" height="5.26" fill="#ff99ff"/>
<rect x="663.73" y="278.36" width="61.27" height="10.13" fill="#ffb2ff"/>
<rect x="663.73" y="288.09" width="61.27" height="5.26" fill="#ff99ff"/>
<rect x="663.73" y="292.95" width="61.27" height="5.26" fill="#ffb2ff"/>
<rect x="663.73" y="297.82" width="61.27" height="5.26" fill="#ffccff"/>
<rect x="663.73" y="302.68" width="61.27" height="5.26" fill="#ffffff"/>
<rect x="663.73" y="307.55" width="61.27" height="10.13" fill="#ffccff"/>
<rect x="663.73" y="317.27" width="61.27" height="5.26" fill="#ffffff"/>
<rect x="663.73" y="322.14" width="61.27" height="10.13" fill="#ffccff"/>
<rect x="663.73" y="331.86" width="61.27" height="5.26" fill="#ff99ff"/>
<rect x="663.73" y="336.73" width="61.27" height="10.13" fill="#ffffff"/>
<rect x="663.73" y="346.45" width="61.27" height="10.13" fill="#ff80ff"/>
<rect x="663.73" y="356.18" width="61.27" height="5.26" fill="#ff19ff"/>
<rect x="663.73" y="361.05" width="61.27" height="10.13" fill="#ff80ff"/>
<rect x="663.73" y="370.77" width="61.27" height="10.13" fill="#ff66ff"/>
<rect x="663.73" y="380.50" width="61.27" height="10.13" fill="#ff4dff"/>
<rect x="663.73" y="390.23" width="61.27" height="5.26" fill="#ff33ff"/>
<rect x="663.73" y="395.09" width="61.27" height="5.26" fill="#ff80ff"/>
<rect x="663.73" y="399.95" width="61.27" height="5.26" fill="#ff99ff"/>
<rect x="663.73" y="404.82" width="61.27" height="5.26" fill="#ffccff"/>
<rect x="663.73" y="409.68" width="61.27" height="5.26" fill="#ffffff"/>
<rect x="663.73" y="414.55" width="61.27" height="10.13" fill="#ffccff"/>
<rect x="663.73" y="424.27" width="61.27" height="5.26" fill="#ff99ff"/>
<rect x="663.73" y="429.14" width="61.27" height="10.13" fill="#e6e6ff"/>
<rect x="663.73" y="438.86" width="61.27" height="5.26" fill="#6666ff"/>
<rect x="663.73" y="443.73" width="61.27" height="5.26" fill="#1919ff"/>
<rect x="663.73" y="448.59" width="61.27" height="5.26" fill="#9999ff"/>
<rect x="663.73" y="453.45" width="61.27" height="5.26" fill="#ccccff"/>
<rect x="663.73" y="458.32" width="61.27" height="5.26" fill="#9999ff"/>
<rect x="663.73" y="463.18" width="61.27" height="10.13" fill="#3333ff"/>
<rect x="663.73" y="472.91" width="61.27" height="5.26" fill="#b2b2ff"/>
<rect x="663.73" y="477.77" width="61.27" height="5.26" fill="#9999ff"/>
<rect x="663.73" y="482.64" width="61.27" height="5.26" fill="#8080ff"/>
<rect x="663.73" y="487.50" width="61.27" height="5.26" fill="#4d4dff"/>
<rect x="663.73" y="492.36" width="61.27" height="10.13" fill="#9999ff"/>
<rect x="663.73" y="502.09" width="61.27" height="5.26" fill="#8080ff"/>
<rect x="663.73" y="506.95" width="61.27" height="5.26" fill="#4d4dff"/>
<rect x="663.73" y="511.82" width="61.27" height="5.26" fill="#9999ff"/>
<rect x="663.73" y="516.68" width="61.27" height="5.26" fill="#ffe6ff"/>
<rect x="663.73" y="521.55" width="61.27" height="5.26" fill="#1919ff"/>
<rect x="663.73" y="526.41" width="61.27" height="5.26" fill="#4d4dff"/>
<rect x="663.73" y="531.27" width="61.27" height="5.26" fill="#9999ff"/>
<rect x="663.73" y="536.14" width="61.27" height="10.13" fill="#0000ff"/>
<rect x="663.73" y="545.86" width="61.27" height="10.13" fill="#4d4dff"/>
<rect x="663.73" y="555.59" width="61.27" height="5.26" fill="#1919ff"/>
<rect x="663.73" y="560.45" width="61.27" height="10.13" fill="#4d4dff"/>
<rect x="663.73" y="570.18" width="61.27" height="5.26" fill="#b2b2ff"/>
<rect x="663.73" y="575.05" width="61.27" height="14.99" fill="#9999ff"/>
<rect x="663.73" y="589.64" width="61.27" height="10.13" fill="#8080ff"/>
<rect x="663.73" y="599.36" width="61.27" height="10.13" fill="#b2b2ff"/>
<rect x="663.73" y="609.09" width="61.27" height="10.13" fill="#ccccff"/>
<rect x="663.73" y="618.82" width="61.27" height="10.13" fill="#b2b2ff"/>
<rect x="663.73" y="628.55" width="61.27" height="5.26" fill="#4d4dff"/>
<rect x="663.73" y="633.41" width="61.27" height="5.26" fill="#9999ff"/>
<rect x="663.73" y="638.27" width="61.27" height="5.26" fill="#b2b2ff"/>
<rect x="663.73" y="643.14" width="61.27" height="5.26" fill="#ffffff"/>
<rect x="663.73" y="648.00" width="61.27" height="5.26" fill="#b2b2ff"/>
<rect x="663.73" y="652.86" width="61.27" height="5.26" fill="#ffffff"/>
<rect x="663.73" y="657.73" width="61.27" height="10.13" fill="#b2b2ff"/>
<rect x="663.73" y="667.45" width="61.27" height="5.26" fill="#9999ff"/>
<rect x="663.73" y="672.32" width="61.27" height="5.26" fill="#b2b2ff"/>
<rect x="663.73" y="677.18" width="61.27" height="5.26" fill="#e6e6ff"/>
<rect x="663.73" y="682.05" width="61.27" height="10.13" fill="#b2b2ff"/>
<rect x="663.73" y="691.77" width="61.27" height="5.26" fill="#8080ff"/>
<rect x="663.73" y="696.64" width="61.27" height="5.26" fill="#9999ff"/>
<rect x="663.73" y="701.50" width="61.27" height="10.13" fill="#8080ff"/>
<rect x="663.73" y="711.23" width="61.27" height="10.13" fill="#6666ff"/>
<rect x="663.73" y="720.95" width="61.27" height="5.26" fill="#ccccff"/>
<rect x="663.73" y="725.82" width="61.27" height="5.26" fill="#9999ff"/>
<rect x="663.73" y="730.68" width="61.27" height="19.85" fill="#4d4dff"/>
<rect x="663.73" y="750.14" width="61.27" height="5.26" fill="#6666ff"/>
<rect x="663.73" y="755.00" width="61.27" height="5.26" fill="#4d4dff"/>
<rect x="663.73" y="759.86" width="61.27" height="5.26" fill="#ffe6ff"/>
<rect x="663.73" y="764.73" width="61.27" height="5.26" fill="#ffccff"/>
<rect x="663.73" y="769.59" width="61.27" height="5.26" fill="#ffffff"/>
<rect x="663.73" y="774.45" width="61.27" height="5.26" fill="#e6e6ff"/>
<rect x="663.73" y="779.32" width="61.27" height="5.26" fill="#ffffff"/>
<rect x="663.73" y="784.18" width="61.27" height="10.13" fill="#b2b2ff"/>
<rect x="663.73" y="793.91" width="61.27" height="5.26" fill="#ccccff"/>
<rect x="663.73" y="798.77" width="61.27" height="5.26" fill="#ffffff"/>
<rect x="663.73" y="803.64" width="61.27" height="5.26" fill="#ffb2ff"/>
<rect x="663.73" y="808.50" width="61.27" height="10.13" fill="#9999ff"/>
<rect x="663.73" y="818.23" width="61.27" height="5.26" fill="#8080ff"/>
<rect x="663.73" y="823.09" width="61.27" height="10.13" fill="#6666ff"/>
<rect x="663.73" y="832.82" width="61.27" height="5.26" fill="#ffe6ff"/>
<rect x="663.73" y="837.68" width="61.27" height="5.26" fill="#e6e6ff"/>
<rect x="663.73" y="842.55" width="61.27" height="5.26" fill="#ffffff"/>
<rect x="663.73" y="847.41" width="61.27" height="5.26" fill="#e6e6ff"/>
<rect x="663.73" y="852.27" width="61.27" height="5.26" fill="#b2b2ff"/>
<rect x="663.73" y="857.14" width="61.27" height="5.26" fill="#e6e6ff"/>
<rect x="178.20" y="1067.00" width="60.97" height="7.06" fill="#9999ff"/>
<rect x="178.20" y="1073.66" width="60.97" height="3.73" fill="#ffffff"/>
<rect x="178.20" y="1076.98" width="60.97" height="7.06" fill="#b2b2ff"/>
<rect x="178.20" y="1083.64" width="60.97" height="7.06" fill="#ccccff"/>
<rect x="178.20" y="1090.29" width="60.97" height="7.06" fill="#e6e6ff"/>
<rect x="178.20" y="1096.95" width="60.97" height="3.73" fill="#b2b2ff"/>
<rect x="178.20" y="1100.28" width="60.97" height="3.73" fill="#ffffff"/>
<rect x="178.20" y="1103.61" width="60.97" height="3.73" fill="#8080ff"/>
<rect x="178.20" y="1106.93" width="60.97" height="3.73" fill="#9999ff"/>
<rect x="178.20" y="1110.26" width="60.97" height="3.73" fill="#6666ff"/>
<rect x="178.20" y="1113.59" width="60.97" height="7.06" fill="#3333ff"/>
<rect x="178.20" y="1120.24" width="60.97" height="3.73" fill="#1919ff"/>
<rect x="178.20" y="1123.57" width="60.97" height="7.06" fill="#8080ff"/>
<rect x="178.20" y="1130.23" width="60.97" height="7.06" fill="#6666ff"/>
<rect x="178.20" y="1136.88" width="60.97" height="3.73" fill="#9999ff"/>
<rect x="178.20" y="1140.21" width="60.97" height="3.73" fill="#8080ff"/>
<rect x="178.20" y="1143.54" width="60.97" height="3.73" fill="#e6e6ff"/>
<rect x="178.20" y="1146.87" width="60.97" height="3.73" fill="#8080ff"/>
<rect x="178.20" y="1150.19" width="60.97" height="3.73" fill="#3333ff"/>
<rect x="178.20" y="1153.52" width="60.97" height="3.73" fill="#4d4dff"/>
<rect x="178.20" y="1156.85" width="60.97" height="3.73" fill="#3333ff"/>
<rect x="178.20" y="1160.18" width="60.97" height="3.73" fill="#6666ff"/>
<rect x="178.20" y="1163.50" width="60.97" height="3.73" fill="#9999ff"/>
<rect x="178.20" y="1166.83" width="60.97" height="3.73" fill="#8080ff"/>
<rect x="178.20" y="1170.16" width="60.97" height="3.73" fill="#b2b2ff"/>
<rect x="178.20" y="1173.49" width="60.97" height="3.73" fill="#8080ff"/>
<rect x="178.20" y="1176.82" width="60.97" height="3.73" fill="#ccccff"/>
<rect x="178.20" y="1180.14" width="60.97" height="3.73" fill="#8080ff"/>
<rect x="178.20" y="1183.47" width="60.97" height="7.06" fill="#ccccff"/>
<rect x="178.20" y="1190.13" width="60.97" height="3.73" fill="#9999ff"/>
<rect x="178.20" y="1193.45" width="60.97" height="3.73" fill="#ccccff"/>
<rect x="178.20" y="1196.78" width="60.97" height="3.73" fill="#9999ff"/>
<rect x="178.20" y="1200.11" width="60.97" height="7.06" fill="#ccccff"/>
<rect x="178.20" y="1206.76" width="60.97" height="3.73" fill="#b2b2ff"/>
<rect x="178.20" y="1210.09" width="60.97" height="3.73" fill="#8080ff"/>
<rect x="178.20" y="1213.42" width="60.97" height="3.73" fill="#b2b2ff"/>
<rect x="178.20" y="1216.75" width="60.97" height="3.73" fill="#9999ff"/>
<rect x="178.20" y="1220.08" width="60.97" height="7.06" fill="#8080ff"/>
<rect x="178.20" y="1226.73" width="60.97" height="3.73" fill="#e6e6ff"/>
<rect x="178.20" y="1230.06" width="60.97" height="3.73" fill="#ffffff"/>
<rect x="178.20" y="1233.39" width="60.97" height="3.73" fill="#ffccff"/>
<rect x="178.20" y="1236.71" width="60.97" height="7.06" fill="#ffffff"/>
<rect x="178.20" y="1243.37" width="60.97" height="10.38" fill="#e6e6ff"/>
<rect x="178.20" y="1253.35" width="60.97" height="3.73" fill="#ffffff"/>
<rect x="178.20" y="1256.68" width="60.97" height="10.38" fill="#ccccff"/>
<rect x="178.20" y="1266.66" width="60.97" height="3.73" fill="#e6e6ff"/>
<rect x="178.20" y="1269.99" width="60.97" height="3.73" fill="#ccccff"/>
<rect x="178.20" y="1273.32" width="60.97" height="3.73" fill="#8080ff"/>
<rect x="178.20" y="1276.65" width="60.97" height="3.73" fill="#b2b2ff"/>
<rect x="178.20" y="1279.97" width="60.97" height="7.06" fill="#8080ff"/>
<rect x="178.20" y="1286.63" width="60.97" height="7.06" fill="#b2b2ff"/>
<rect x="178.20" y="1293.29" width="60.97" height="7.06" fill="#8080ff"/>
<rect x="178.20" y="1299.94" width="60.97" height="3.73" fill="#b2b2ff"/>
<rect x="178.20" y="1303.27" width="60.97" height="3.73" fill="#e6e6ff"/>
<rect x="178.20" y="1306.60" width="60.97" height="10.38" fill="#3333ff"/>
<rect x="178.20" y="1316.58" width="60.97" height="10.38" fill="#ccccff"/>
<rect x="178.20" y="1326.56" width="60.97" height="3.73" fill="#b2b2ff"/>
<rect x="178.20" y="1329.89" width="60.97" height="10.38" fill="#ccccff"/>
<rect x="178.20" y="1339.87" width="60.97" height="3.73" fill="#ffffff"/>
<rect x="178.20" y="1343.20" width="60.97" height="7.06" fill="#8080ff"/>
<rect x="178.20" y="1349.86" width="60.97" height="3.73" fill="#9999ff"/>
<rect x="178.20" y="1353.18" width="60.97" height="7.06" fill="#b2b2ff"/>
<rect x="178.20" y="1359.84" width="60.97" height="3.73" fill="#e6e6ff"/>
<rect x="178.20" y="1363.17" width="60.97" height="3.73" fill="#ccccff"/>
<rect x="178.20" y="1366.50" width="60.97" height="7.06" fill="#ffccff"/>
<rect x="178.20" y="1373.15" width="60.97" height="7.06" fill="#ffffff"/>
<rect x="178.20" y="1379.81" width="60.97" height="7.06" fill="#b2b2ff"/>
<rect x="178.20" y="1386.46" width="60.97" height="7.06" fill="#8080ff"/>
<rect x="178.20" y="1393.12" width="60.97" height="3.73" fill="#9999ff"/>
<rect x="178.20" y="1396.45" width="60.97" height="7.06" fill="#8080ff"/>
<rect x="178.20" y="1403.10" width="60.97" height="3.73" fill="#b2b2ff"/>
<rect x="178.20" y="1406.43" width="60.97" height="10.38" fill="#ccccff"/>
<rect x="178.20" y="1416.41" width="60.97" height="3.73" fill="#8080ff"/>
<rect x="178.20" y="1419.74" width="60.97" height="3.73" fill="#b2b2ff"/>
<rect x="178.20" y="1423.07" width="60.97" height="3.73" fill="#6666ff"/>
<rect x="178.20" y="1426.39" width="60.97" height="10.38" fill="#b2b2ff"/>
<rect x="178.20" y="1436.38" width="60.97" height="3.73" fill="#e6e6ff"/>
<rect x="178.20" y="1439.71" width="60.97" height="3.73" fill="#ccccff"/>
<rect x="178.20" y="1443.03" width="60.97" height="3.73" fill="#ffffff"/>
<rect x="178.20" y="1446.36" width="60.97" height="7.06" fill="#ccccff"/>
<rect x="178.20" y="1453.02" width="60.97" height="3.73" fill="#ffccff"/>
<rect x="178.20" y="1456.34" width="60.97" height="3.73" fill="#e6e6ff"/>
<rect x="178.20" y="1459.67" width="60.97" height="3.73" fill="#b2b2ff"/>
<rect x="178.20" y="1463.00" width="60.97" height="10.38" fill="#ffffff"/>
<rect x="178.20" y="1472.98" width="60.97" height="3.73" fill="#e6e6ff"/>
<rect x="178.20" y="1476.31" width="60.97" height="3.73" fill="#ffccff"/>
<rect x="178.20" y="1479.64" width="60.97" height="7.06" fill="#9999ff"/>
<rect x="178.20" y="1486.29" width="60.97" height="3.73" fill="#b2b2ff"/>
<rect x="178.20" y="1489.62" width="60.97" height="3.73" fill="#e6e6ff"/>
<rect x="178.20" y="1492.95" width="60.97" height="3.73" fill="#8080ff"/>
<rect x="178.20" y="1496.28" width="60.97" height="3.73" fill="#e6e6ff"/>
<rect x="178.20" y="1499.61" width="60.97" height="3.73" fill="#ff99ff"/>
<rect x="178.20" y="1502.93" width="60.97" height="3.73" fill="#ffccff"/>
<rect x="178.20" y="1506.26" width="60.97" height="3.73" fill="#ffb2ff"/>
<rect x="178.20" y="1509.59" width="60.97" height="3.73" fill="#e6e6ff"/>
<rect x="178.20" y="1512.92" width="60.97" height="3.73" fill="#ccccff"/>
<rect x="178.20" y="1516.24" width="60.97" height="7.06" fill="#e6e6ff"/>
<rect x="178.20" y="1522.90" width="60.97" height="7.06" fill="#ff80ff"/>
<rect x="178.20" y="1529.55" width="60.97" height="3.73" fill="#ffe6ff"/>
<rect x="178.20" y="1532.88" width="60.97" height="3.73" fill="#e6e6ff"/>
<rect x="178.20" y="1536.21" width="60.97" height="3.73" fill="#ffffff"/>
<rect x="178.20" y="1539.54" width="60.97" height="3.73" fill="#ffccff"/>
<rect x="178.20" y="1542.87" width="60.97" height="3.73" fill="#ffe6ff"/>
<rect x="178.20" y="1546.19" width="60.97" height="3.73" fill="#ff99ff"/>
<rect x="178.20" y="1549.52" width="60.97" height="3.73" fill="#ffccff"/>
<rect x="178.20" y="1552.85" width="60.97" height="3.73" fill="#ff99ff"/>
<rect x="178.20" y="1556.18" width="60.97" height="3.73" fill="#ff66ff"/>
<rect x="178.20" y="1559.50" width="60.97" height="7.06" fill="#ff80ff"/>
<rect x="178.20" y="1566.16" width="60.97" height="7.06" fill="#ffffff"/>
<rect x="178.20" y="1572.82" width="60.97" height="17.04" fill="#ffb2ff"/>
<rect x="178.20" y="1589.45" width="60.97" height="7.06" fill="#ff99ff"/>
<rect x="178.20" y="1596.11" width="60.97" height="3.73" fill="#ffccff"/>
<rect x="178.20" y="1599.44" width="60.97" height="3.73" fill="#e6e6ff"/>
<rect x="178.20" y="1602.76" width="60.97" height="3.73" fill="#ffffff"/>
<rect x="178.20" y="1606.09" width="60.97" height="3.73" fill="#ffe6ff"/>
<rect x="178.20" y="1609.42" width="60.97" height="7.06" fill="#e6e6ff"/>
<rect x="178.20" y="1616.08" width="60.97" height="3.73" fill="#ffb2ff"/>
<rect x="178.20" y="1619.40" width="60.97" height="3.73" fill="#ffccff"/>
<rect x="178.20" y="1622.73" width="60.97" height="3.73" fill="#ff66ff"/>
<rect x="178.20" y="1626.06" width="60.97" height="7.06" fill="#e6e6ff"/>
<rect x="178.20" y="1632.71" width="60.97" height="3.73" fill="#ff99ff"/>
<rect x="178.20" y="1636.04" width="60.97" height="3.73" fill="#ffccff"/>
<rect x="178.20" y="1639.37" width="60.97" height="3.73" fill="#ffffff"/>
<rect x="178.20" y="1642.70" width="60.97" height="3.73" fill="#ffccff"/>
<rect x="178.20" y="1646.03" width="60.97" height="7.06" fill="#ffe6ff"/>
<rect x="178.20" y="1652.68" width="60.97" height="3.73" fill="#ffccff"/>
<rect x="178.20" y="1656.01" width="60.97" height="7.06" fill="#ffffff"/>
<rect x="178.20" y="1662.66" width="60.97" height="3.73" fill="#ffe6ff"/>
<rect x="178.20" y="1665.99" width="60.97" height="3.73" fill="#ff4dff"/>
<rect x="178.20" y="1669.32" width="60.97" height="3.73" fill="#ff00ff"/>
<rect x="178.20" y="1672.65" width="60.97" height="7.06" fill="#ff33ff"/>
<rect x="178.20" y="1679.30" width="60.97" height="3.73" fill="#ff80ff"/>
<rect x="178.20" y="1682.63" width="60.97" height="3.73" fill="#ff99ff"/>
<rect x="178.20" y="1685.96" width="60.97" height="7.06" fill="#ffb2ff"/>
<rect x="178.20" y="1692.61" width="60.97" height="7.06" fill="#ff66ff"/>
<rect x="178.20" y="1699.27" width="60.97" height="3.73" fill="#ff80ff"/>
<rect x="178.20" y="1702.60" width="60.97" height="3.73" fill="#ff33ff"/>
<rect x="178.20" y="1705.92" width="60.97" height="7.06" fill="#ff80ff"/>
<rect x="178.20" y="1712.58" width="60.97" height="13.71" fill="#ff66ff"/>
<rect x="178.20" y="1725.89" width="60.97" height="3.73" fill="#ff99ff"/>
<rect x="178.20" y="1729.22" width="60.97" height="3.73" fill="#ff66ff"/>
<rect x="178.20" y="1732.55" width="60.97" height="7.06" fill="#ff80ff"/>
<rect x="178.20" y="1739.20" width="60.97" height="10.38" fill="#ff4dff"/>
<rect x="178.20" y="1749.18" width="60.97" height="13.71" fill="#ff99ff"/>
<rect x="178.20" y="1762.50" width="60.97" height="17.04" fill="#ff33ff"/>
<rect x="178.20" y="1779.13" width="60.97" height="3.73" fill="#ff4dff"/>
<rect x="178.20" y="1782.46" width="60.97" height="3.73" fill="#ff66ff"/>
<rect x="178.20" y="1785.79" width="60.97" height="3.73" fill="#e6e6ff"/>
<rect x="178.20" y="1789.12" width="60.97" height="3.73" fill="#ffe6ff"/>
<rect x="178.20" y="1792.45" width="60.97" height="3.73" fill="#ffffff"/>
<rect x="178.20" y="1795.77" width="60.97" height="3.73" fill="#ff4dff"/>
<rect x="178.20" y="1799.10" width="60.97" height="3.73" fill="#ff99ff"/>
<rect x="178.20" y="1802.43" width="60.97" height="3.73" fill="#ffb2ff"/>
<rect x="178.20" y="1805.76" width="60.97" height="13.71" fill="#ffccff"/>
<rect x="178.20" y="1819.07" width="60.97" height="3.73" fill="#ff66ff"/>
<rect x="178.20" y="1822.39" width="60.97" height="7.06" fill="#ff80ff"/>
<rect x="178.20" y="1829.05" width="60.97" height="3.73" fill="#ff4dff"/>
<rect x="178.20" y="1832.38" width="60.97" height="3.73" fill="#ff99ff"/>
<rect x="178.20" y="1835.71" width="60.97" height="3.73" fill="#ffb2ff"/>
<rect x="178.20" y="1839.03" width="60.97" height="7.06" fill="#ff66ff"/>
<rect x="178.20" y="1845.69" width="60.97" height="3.73" fill="#ff80ff"/>
<rect x="178.20" y="1849.02" width="60.97" height="3.73" fill="#ffccff"/>
<rect x="178.20" y="1852.34" width="60.97" height="7.06" fill="#ff80ff"/>
<rect x="238.77" y="1067.00" width="60.97" height="3.73" fill="#e6e6ff"/>
<rect x="238.77" y="1070.33" width="60.97" height="3.73" fill="#b2b2ff"/>
<rect x="238.77" y="1073.66" width="60.97" height="7.06" fill="#9999ff"/>
<rect x="238.77" y="1080.31" width="60.97" height="3.73" fill="#b2b2ff"/>
<rect x="238.77" y="1083.64" width="60.97" height="3.73" fill="#e6e6ff"/>
<rect x="238.77" y="1086.97" width="60.97" height="3.73" fill="#ccccff"/>
<rect x="238.77" y="1090.29" width="60.97" height="3.73" fill="#6666ff"/>
<rect x="238.77" y="1093.62" width="60.97" height="3.73" fill="#9999ff"/>
<rect x="238.77" y="1096.95" width="60.97" height="3.73" fill="#ffe6ff"/>
<rect x="238.77" y="1100.28" width="60.97" height="3.73" fill="#ffffff"/>
<rect x="238.77" y="1103.61" width="60.97" height="3.73" fill="#b2b2ff"/>
<rect x="238.77" y="1106.93" width="60.97" height="3.73" fill="#8080ff"/>
<rect x="238.77" y="1110.26" width="60.97" height="3.73" fill="#ccccff"/>
<rect x="238.77" y="1113.59" width="60.97" height="7.06" fill="#b2b2ff"/>
<rect x="238.77" y="1120.24" width="60.97" height="3.73" fill="#ffffff"/>
<rect x="238.77" y="1123.57" width="60.97" height="3.73" fill="#8080ff"/>
<rect x="238.77" y="1126.90" width="60.97" height="3.73" fill="#b2b2ff"/>
<rect x="238.77" y="1130.23" width="60.97" height="7.06" fill="#e6e6ff"/>
<rect x="238.77" y="1136.88" width="60.97" height="3.73" fill="#1919ff"/>
<rect x="238.77" y="1140.21" width="60.97" height="10.38" fill="#3333ff"/>
<rect x="238.77" y="1150.19" width="60.97" height="3.73" fill="#9999ff"/>
<rect x="238.77" y="1153.52" width="60.97" height="3.73" fill="#4d4dff"/>
<rect x="238.77" y="1156.85" width="60.97" height="7.06" fill="#6666ff"/>
<rect x="238.77" y="1163.50" width="60.97" height="3.73" fill="#ffffff"/>
<rect x="238.77" y="1166.83" width="60.97" height="3.73" fill="#ff99ff"/>
<rect x="238.77" y="1170.16" width="60.97" height="7.06" fill="#9999ff"/>
<rect x="238.77" y="1176.82" width="60.97" height="3.73" fill="#ccccff"/>
<rect x="238.77" y="1180.14" width="60.97" height="3.73" fill="#ffffff"/>
<rect x="238.77" y="1183.47" width="60.97" height="3.73" fill="#e6e6ff"/>
<rect x="238.77" y="1186.80" width="60.97" height="10.38" fill="#ffffff"/>
<rect x="238.77" y="1196.78" width="60.97" height="3.73" fill="#ffe6ff"/>
<rect x="238.77" y="1200.11" width="60.97" height="3.73" fill="#ccccff"/>
<rect x="238.77" y="1203.44" width="60.97" height="3.73" fill="#9999ff"/>
<rect x="238.77" y="1206.76" width="60.97" height="10.38" fill="#6666ff"/>
<rect x="238.77" y="1216.75" width="60.97" height="7.06" fill="#8080ff"/>
<rect x="238.77" y="1223.40" width="60.97" height="3.73" fill="#ccccff"/>
<rect x="238.77" y="1226.73" width="60.97" height="3.73" fill="#8080ff"/>
<rect x="238.77" y="1230.06" width="60.97" height="3.73" fill="#9999ff"/>
<rect x="238.77" y="1233.39" width="60.97" height="3.73" fill="#ffffff"/>
<rect x="238.77" y="1236.71" width="60.97" height="10.38" fill="#6666ff"/>
<rect x="238.77" y="1246.70" width="60.97" height="7.06" fill="#b2b2ff"/>
<rect x="238.77" y="1253.35" width="60.97" height="13.71" fill="#ccccff"/>
<rect x="238.77" y="1266.66" width="60.97" height="7.06" fill="#b2b2ff"/>
<rect x="238.77" y="1273.32" width="60.97" height="3.73" fill="#ffffff"/>
<rect x="238.77" y="1276.65" width="60.97" height="7.06" fill="#e6e6ff"/>
<rect x="238.77" y="1283.30" width="60.97" height="10.38" fill="#ffffff"/>
<rect x="238.77" y="1293.29" width="60.97" height="3.73" fill="#b2b2ff"/>
<rect x="238.77" y="1296.61" width="60.97" height="7.06" fill="#ccccff"/>
<rect x="238.77" y="1303.27" width="60.97" height="3.73" fill="#e6e6ff"/>
<rect x="238.77" y="1306.60" width="60.97" height="3.73" fill="#ffffff"/>
<rect x="238.77" y="1309.92" width="60.97" height="3.73" fill="#ffccff"/>
<rect x="238.77" y="1313.25" width="60.97" height="3.73" fill="#ffe6ff"/>
<rect x="238.77" y="1316.58" width="60.97" height="3.73" fill="#ccccff"/>
<rect x="238.77" y="1319.91" width="60.97" height="20.37" fill="#ffffff"/>
<rect x="238.77" y="1339.87" width="60.97" height="3.73" fill="#b2b2ff"/>
<rect x="238.77" y="1343.20" width="60.97" height="3.73" fill="#e6e6ff"/>
<rect x="238.77" y="1346.53" width="60.97" height="3.73" fill="#ffe6ff"/>
<rect x="238.77" y="1349.86" width="60.97" height="7.06" fill="#ffccff"/>
<rect x="238.77" y="1356.51" width="60.97" height="3.73" fill="#ffe6ff"/>
<rect x="238.77" y="1359.84" width="60.97" height="3.73" fill="#e6e6ff"/>
<rect x="238.77" y="1363.17" width="60.97" height="3.73" fill="#ffffff"/>
<rect x="238.77" y="1366.50" width="60.97" height="3.73" fill="#ccccff"/>
<rect x="238.77" y="1369.82" width="60.97" height="3.73" fill="#e6e6ff"/>
<rect x="238.77" y="1373.15" width="60.97" height="3.73" fill="#ffe6ff"/>
<rect x="238.77" y="1376.48" width="60.97" height="7.06" fill="#6666ff"/>
<rect x="238.77" y="1383.13" width="60.97" height="3.73" fill="#b2b2ff"/>
<rect x="238.77" y="1386.46" width="60.97" height="3.73" fill="#9999ff"/>
<rect x="238.77" y="1389.79" width="60.97" height="3.73" fill="#e6e6ff"/>
<rect x="238.77" y="1393.12" width="60.97" height="3.73" fill="#ccccff"/>
<rect x="238.77" y="1396.45" width="60.97" height="7.06" fill="#9999ff"/>
<rect x="238.77" y="1403.10" width="60.97" height="3.73" fill="#b2b2ff"/>
<rect x="238.77" y="1406.43" width="60.97" height="3.73" fill="#e6e6ff"/>
<rect x="238.77" y="1409.76" width="60.97" height="7.06" fill="#ccccff"/>
<rect x="238.77" y="1416.41" width="60.97" height="3.73" fill="#e6e6ff"/>
<rect x="238.77" y="1419.74" width="60.97" height="3.73" fill="#ffe6ff"/>
<rect x="238.77" y="1423.07" width="60.97" height="3.73" fill="#ccccff"/>
<rect x="238.77" y="1426.39" width="60.97" height="3.73" fill="#9999ff"/>
<rect x="238.77" y="1429.72" width="60.97" height="3.73" fill="#ffffff"/>
<rect x="238.77" y="1433.05" width="60.97" height="3.73" fill="#ffccff"/>
<rect x="238.77" y="1436.38" width="60.97" height="3.73" fill="#8080ff"/>
<rect x="238.77" y="1439.71" width="60.97" height="7.06" fill="#ccccff"/>
<rect x="238.77" y="1446.36" width="60.97" height="3.73" fill="#4d4dff"/>
<rect x="238.77" y="1449.69" width="60.97" height="3.73" fill="#9999ff"/>
<rect x="238.77" y="1453.02" width="60.97" height="7.06" fill="#4d4dff"/>
<rect x="238.77" y="1459.67" width="60.97" height="3.73" fill="#b2b2ff"/>
<rect x="238.77" y="1463.00" width="60.97" height="7.06" fill="#8080ff"/>
<rect x="238.77" y="1469.66" width="60.97" height="3.73" fill="#1919ff"/>
<rect x="238.77" y="1472.98" width="60.97" height="7.06" fill="#ccccff"/>
<rect x="238.77" y="1479.64" width="60.97" height="7.06" fill="#b2b2ff"/>
<rect x="238.77" y="1486.29" width="60.97" height="3.73" fill="#8080ff"/>
<rect x="238.77" y="1489.62" width="60.97" height="3.73" fill="#e6e6ff"/>
<rect x="238.77" y="1492.95" width="60.97" height="3.73" fill="#ffffff"/>
<rect x="238.77" y="1496.28" width="60.97" height="3.73" fill="#e6e6ff"/>
<rect x="238.77" y="1499.61" width="60.97" height="3.73" fill="#ffb2ff"/>
<rect x="238.77" y="1502.93" width="60.97" height="3.73" fill="#ffe6ff"/>
<rect x="238.77" y="1506.26" width="60.97" height="3.73" fill="#ffffff"/>
<rect x="238.77" y="1509.59" width="60.97" height="3.73" fill="#e6e6ff"/>
<rect x="238.77" y="1512.92" width="60.97" height="10.38" fill="#ffffff"/>
<rect x="238.77" y="1522.90" width="60.97" height="13.71" fill="#ff80ff"/>
<rect x="238.77" y="1536.21" width="60.97" height="3.73" fill="#ffb2ff"/>
<rect x="238.77" y="1539.54" width="60.97" height="3.73" fill="#ffe6ff"/>
<rect x="238.77" y="1542.87" width="60.97" height="3.73" fill="#ffccff"/>
<rect x="238.77" y="1546.19" width="60.97" height="3.73" fill="#ffffff"/>
<rect x="238.77" y="1549.52" width="60.97" height="3.73" fill="#ffb2ff"/>
<rect x="238.77" y="1552.85" width="60.97" height="7.06" fill="#ffccff"/>
<rect x="238.77" y="1559.50" width="60.97" height="3.73" fill="#ffb2ff"/>
<rect x="238.77" y="1562.83" width="60.97" height="7.06" fill="#ff99ff"/>
<rect x="238.77" y="1569.49" width="60.97" height="3.73" fill="#ffccff"/>
<rect x="238.77" y="1572.82" width="60.97" height="3.73" fill="#ffffff"/>
<rect x="238.77" y="1576.14" width="60.97" height="3.73" fill="#ffccff"/>
<rect x="238.77" y="1579.47" width="60.97" height="3.73" fill="#ff99ff"/>
<rect x="238.77" y="1582.80" width="60.97" height="3.73" fill="#ffb2ff"/>
<rect x="238.77" y="1586.13" width="60.97" height="3.73" fill="#ffe6ff"/>
<rect x="238.77" y="1589.45" width="60.97" height="10.38" fill="#ffb2ff"/>
<rect x="238.77" y="1599.44" width="60.97" height="3.73" fill="#ff66ff"/>
<rect x="238.77" y="1602.76" width="60.97" height="3.73" fill="#ffb2ff"/>
<rect x="238.77" y="1606.09" width="60.97" height="3.73" fill="#ffe6ff"/>
<rect x="238.77" y="1609.42" width="60.97" height="3.73" fill="#ff99ff"/>
<rect x="238.77" y="1612.75" width="60.97" height="3.73" fill="#ffffff"/>
<rect x="238.77" y="1616.08" width="60.97" height="7.06" fill="#ff99ff"/>
<rect x="238.77" y="1622.73" width="60.97" height="3.73" fill="#ff66ff"/>
<rect x="238.77" y="1626.06" width="60.97" height="3.73" fill="#ffccff"/>
<rect x="238.77" y="1629.39" width="60.97" height="3.73" fill="#ffb2ff"/>
<rect x="238.77" y="1632.71" width="60.97" height="3.73" fill="#ffe6ff"/>
<rect x="238.77" y="1636.04" width="60.97" height="3.73" fill="#ff80ff"/>
<rect x="238.77" y="1639.37" width="60.97" height="3.73" fill="#ffccff"/>
<rect x="238.77" y="1642.70" width="60.97" height="3.73" fill="#ffb2ff"/>
<rect x="238.77" y="1646.03" width="60.97" height="7.06" fill="#ffffff"/>
<rect x="238.77" y="1652.68" width="60.97" height="3.73" fill="#ccccff"/>
<rect x="238.77" y="1656.01" width="60.97" height="3.73" fill="#ffccff"/>
<rect x="238.77" y="1659.34" width="60.97" height="7.06" fill="#ffe6ff"/>
<rect x="238.77" y="1665.99" width="60.97" height="3.73" fill="#ffccff"/>
<rect x="238.77" y="1669.32" width="60.97" height="3.73" fill="#ffffff"/>
<rect x="238.77" y="1672.65" width="60.97" height="3.73" fill="#ffe6ff"/>
<rect x="238.77" y="1675.97" width="60.97" height="3.73" fill="#ffffff"/>
<rect x="238.77" y="1679.30" width="60.97" height="3.73" fill="#b2b2ff"/>
<rect x="238.77" y="1682.63" width="60.97" height="3.73" fill="#ffe6ff"/>
<rect x="238.77" y="1685.96" width="60.97" height="7.06" fill="#e6e6ff"/>
<rect x="238.77" y="1692.61" width="60.97" height="3.73" fill="#ffffff"/>
<rect x="238.77" y="1695.94" width="60.97" height="3.73" fill="#ffe6ff"/>
<rect x="238.77" y="1699.27" width="60.97" height="7.06" fill="#9999ff"/>
<rect x="238.77" y="1705.92" width="60.97" height="7.06" fill="#ffffff"/>
<rect x="238.77" y="1712.58" width="60.97" height="3.73" fill="#e6e6ff"/>
<rect x="238.77" y="1715.91" width="60.97" height="3.73" fill="#9999ff"/>
<rect x="238.77" y="1719.24" width="60.97" height="3.73" fill="#8080ff"/>
<rect x="238.77" y="1722.56" width="60.97" height="3.73" fill="#9999ff"/>
<rect x="238.77" y="1725.89" width="60.97" height="3.73" fill="#6666ff"/>
<rect x="238.77" y="1729.22" width="60.97" height="3.73" fill="#ffffff"/>
<rect x="238.77" y="1732.55" width="60.97" height="3.73" fill="#e6e6ff"/>
<rect x="238.77" y="1735.87" width="60.97" height="3.73" fill="#ffffff"/>
<rect x="238.77" y="1739.20" width="60.97" height="3.73" fill="#ccccff"/>
<rect x="238.77" y="1742.53" width="60.97" height="3.73" fill="#ffffff"/>
<rect x="238.77" y="1745.86" width="60.97" height="7.06" fill="#ffccff"/>
<rect x="238.77" y="1752.51" width="60.97" height="3.73" fill="#ffffff"/>
<rect x="238.77" y="1755.84" width="60.97" height="7.06" fill="#ffccff"/>
<rect x="238.77" y="1762.50" width="60.97" height="3.73" fill="#e6e6ff"/>
<rect x="238.77" y="1765.82" width="60.97" height="3.73" fill="#ffffff"/>
<rect x="238.77" y="1769.15" width="60.97" height="3.73" fill="#ccccff"/>
<rect x="238.77" y="1772.48" width="60.97" height="10.38" fill="#ffe6ff"/>
<rect x="238.77" y="1782.46" width="60.97" height="3.73" fill="#ffb2ff"/>
<rect x="238.77" y="1785.79" width="60.97" height="3.73" fill="#ff33ff"/>
<rect x="238.77" y="1789.12" width="60.97" height="7.06" fill="#ff66ff"/>
<rect x="238.77" y="1795.77" width="60.97" height="10.38" fill="#ff4dff"/>
<rect x="238.77" y="1805.76" width="60.97" height="7.06" fill="#ff99ff"/>
<rect x="238.77" y="1812.41" width="60.97" height="3.73" fill="#ff66ff"/>
<rect x="238.77" y="1815.74" width="60.97" height="3.73" fill="#ffffff"/>
<rect x="238.77" y="1819.07" width="60.97" height="3.73" fill="#ffe6ff"/>
<rect x="238.77" y="1822.39" width="60.97" height="7.06" fill="#ffb2ff"/>
<rect x="238.77" y="1829.05" width="60.97" height="7.06" fill="#ff80ff"/>
<rect x="238.77" y="1835.71" width="60.97" height="7.06" fill="#ff4dff"/>
<rect x="238.77" y="1842.36" width="60.97" height="7.06" fill="#ff66ff"/>
<rect x="238.77" y="1849.02" width="60.97" height="3.73" fill="#ffb2ff"/>
<rect x="238.77" y="1852.34" width="60.97" height="7.06" fill="#ffccff"/>
<rect x="299.33" y="1067.00" width="60.97" height="3.73" fill="#b2b2ff"/>
<rect x="299.33" y="1070.33" width="60.97" height="3.73" fill="#ccccff"/>
<rect x="299.33" y="1073.66" width="60.97" height="3.73" fill="#b2b2ff"/>
<rect x="299.33" y="1076.98" width="60.97" height="3.73" fill="#e6e6ff"/>
<rect x="299.33" y="1080.31" width="60.97" height="3.73" fill="#ccccff"/>
<rect x="299.33" y="1083.64" width="60.97" height="3.73" fill="#6666ff"/>
<rect x="299.33" y="1086.97" width="60.97" height="3.73" fill="#b2b2ff"/>
<rect x="299.33" y="1090.29" width="60.97" height="3.73" fill="#ffe6ff"/>
<rect x="299.33" y="1093.62" width="60.97" height="3.73" fill="#9999ff"/>
<rect x="299.33" y="1096.95" width="60.97" height="3.73" fill="#6666ff"/>
<rect x="299.33" y="1100.28" width="60.97" height="3.73" fill="#4d4dff"/>
<rect x="299.33" y="1103.61" width="60.97" height="3.73" fill="#ccccff"/>
<rect x="299.33" y="1106.93" width="60.97" height="7.06" fill="#9999ff"/>
<rect x="299.33" y="1113.59" width="60.97" height="7.06" fill="#b2b2ff"/>
<rect x="299.33" y="1120.24" width="60.97" height="3.73" fill="#9999ff"/>
<rect x="299.33" y="1123.57" width="60.97" height="3.73" fill="#b2b2ff"/>
<rect x="299.33" y="1126.90" width="60.97" height="3.73" fill="#ffffff"/>
<rect x="299.33" y="1130.23" width="60.97" height="3.73" fill="#9999ff"/>
<rect x="299.33" y="1133.55" width="60.97" height="3.73" fill="#b2b2ff"/>
<rect x="299.33" y="1136.88" width="60.97" height="7.06" fill="#e6e6ff"/>
<rect x="299.33" y="1143.54" width="60.97" height="7.06" fill="#ffffff"/>
<rect x="299.33" y="1150.19" width="60.97" height="3.73" fill="#ffccff"/>
<rect x="299.33" y="1153.52" width="60.97" height="3.73" fill="#ffffff"/>
<rect x="299.33" y="1156.85" width="60.97" height="3.73" fill="#e6e6ff"/>
<rect x="299.33" y="1160.18" width="60.97" height="3.73" fill="#ffe6ff"/>
<rect x="299.33" y="1163.50" width="60.97" height="3.73" fill="#8080ff"/>
<rect x="299.33" y="1166.83" width="60.97" height="7.06" fill="#9999ff"/>
<rect x="299.33" y="1173.49" width="60.97" height="10.38" fill="#ccccff"/>
<rect x="299.33" y="1183.47" width="60.97" height="3.73" fill="#ffffff"/>
<rect x="299.33" y="1186.80" width="60.97" height="3.73" fill="#8080ff"/>
<rect x="299.33" y="1190.13" width="60.97" height="3.73" fill="#9999ff"/>
<rect x="299.33" y="1193.45" width="60.97" height="7.06" fill="#b2b2ff"/>
<rect x="299.33" y="1200.11" width="60.97" height="3.73" fill="#e6e6ff"/>
<rect x="299.33" y="1203.44" width="60.97" height="3.73" fill="#ffffff"/>
<rect x="299.33" y="1206.76" width="60.97" height="7.06" fill="#ffb2ff"/>
<rect x="299.33" y="1213.42" width="60.97" height="3.73" fill="#ff99ff"/>
<rect x="299.33" y="1216.75" width="60.97" height="7.06" fill="#ffffff"/>
<rect x="299.33" y="1223.40" width="60.97" height="3.73" fill="#ffb2ff"/>
<rect x="299.33" y="1226.73" width="60.97" height="3.73" fill="#ccccff"/>
<rect x="299.33" y="1230.06" width="60.97" height="7.06" fill="#b2b2ff"/>
<rect x="299.33" y="1236.71" width="60.97" height="7.06" fill="#6666ff"/>
<rect x="299.33" y="1243.37" width="60.97" height="7.06" fill="#b2b2ff"/>
<rect x="299.33" y="1250.03" width="60.97" height="3.73" fill="#3333ff"/>
<rect x="299.33" y="1253.35" width="60.97" height="3.73" fill="#b2b2ff"/>
<rect x="299.33" y="1256.68" width="60.97" height="13.71" fill="#4d4dff"/>
<rect x="299.33" y="1269.99" width="60.97" height="3.73" fill="#ccccff"/>
<rect x="299.33" y="1273.32" width="60.97" height="3.73" fill="#9999ff"/>
<rect x="299.33" y="1276.65" width="60.97" height="3.73" fill="#b2b2ff"/>
<rect x="299.33" y="1279.97" width="60.97" height="3.73" fill="#ffffff"/>
<rect x="299.33" y="1283.30" width="60.97" height="10.38" fill="#8080ff"/>
<rect x="299.33" y="1293.29" width="60.97" height="3.73" fill="#b2b2ff"/>
<rect x="299.33" y="1296.61" width="60.97" height="3.73" fill="#e6e6ff"/>
<rect x="299.33" y="1299.94" width="60.97" height="3.73" fill="#8080ff"/>
<rect x="299.33" y="1303.27" width="60.97" height="3.73" fill="#9999ff"/>
<rect x="299.33" y="1306.60" width="60.97" height="3.73" fill="#6666ff"/>
<rect x="299.33" y="1309.92" width="60.97" height="3.73" fill="#9999ff"/>
<rect x="299.33" y="1313.25" width="60.97" height="3.73" fill="#ccccff"/>
<rect x="299.33" y="1316.58" width="60.97" height="7.06" fill="#ffffff"/>
<rect x="299.33" y="1323.24" width="60.97" height="3.73" fill="#b2b2ff"/>
<rect x="299.33" y="1326.56" width="60.97" height="3.73" fill="#ccccff"/>
<rect x="299.33" y="1329.89" width="60.97" height="10.38" fill="#b2b2ff"/>
<rect x="299.33" y="1339.87" width="60.97" height="7.06" fill="#e6e6ff"/>
<rect x="299.33" y="1346.53" width="60.97" height="3.73" fill="#8080ff"/>
<rect x="299.33" y="1349.86" width="60.97" height="3.73" fill="#b2b2ff"/>
<rect x="299.33" y="1353.18" width="60.97" height="3.73" fill="#8080ff"/>
<rect x="299.33" y="1356.51" width="60.97" height="3.73" fill="#b2b2ff"/>
<rect x="299.33" y="1359.84" width="60.97" height="7.06" fill="#1919ff"/>
<rect x="299.33" y="1366.50" width="60.97" height="7.06" fill="#6666ff"/>
<rect x="299.33" y="1373.15" width="60.97" height="3.73" fill="#8080ff"/>
<rect x="299.33" y="1376.48" width="60.97" height="3.73" fill="#b2b2ff"/>
<rect x="299.33" y="1379.81" width="60.97" height="7.06" fill="#8080ff"/>
<rect x="299.33" y="1386.46" width="60.97" height="3.73" fill="#ffffff"/>
<rect x="299.33" y="1389.79" width="60.97" height="3.73" fill="#ccccff"/>
<rect x="299.33" y="1393.12" width="60.97" height="10.38" fill="#9999ff"/>
<rect x="299.33" y="1403.10" width="60.97" height="3.73" fill="#6666ff"/>
<rect x="299.33" y="1406.43" width="60.97" height="7.06" fill="#ccccff"/>
<rect x="299.33" y="1413.08" width="60.97" height="10.38" fill="#ffffff"/>
<rect x="299.33" y="1423.07" width="60.97" height="3.73" fill="#4d4dff"/>
<rect x="299.33" y="1426.39" width="60.97" height="7.06" fill="#6666ff"/>
<rect x="299.33" y="1433.05" width="60.97" height="3.73" fill="#3333ff"/>
<rect x="299.33" y="1436.38" width="60.97" height="3.73" fill="#4d4dff"/>
<rect x="299.33" y="1439.71" width="60.97" height="7.06" fill="#1919ff"/>
<rect x="299.33" y="1446.36" width="60.97" height="3.73" fill="#ffccff"/>
<rect x="299.33" y="1449.69" width="60.97" height="3.73" fill="#9999ff"/>
<rect x="299.33" y="1453.02" width="60.97" height="3.73" fill="#8080ff"/>
<rect x="299.33" y="1456.34" width="60.97" height="10.38" fill="#b2b2ff"/>
<rect x="299.33" y="1466.33" width="60.97" height="7.06" fill="#ccccff"/>
<rect x="299.33" y="1472.98" width="60.97" height="3.73" fill="#b2b2ff"/>
<rect x="299.33" y="1476.31" width="60.97" height="13.71" fill="#ccccff"/>
<rect x="299.33" y="1489.62" width="60.97" height="3.73" fill="#e6e6ff"/>
<rect x="299.33" y="1492.95" width="60.97" height="3.73" fill="#b2b2ff"/>
<rect x="299.33" y="1496.28" width="60.97" height="3.73" fill="#8080ff"/>
<rect x="299.33" y="1499.61" width="60.97" height="3.73" fill="#ff99ff"/>
<rect x="299.33" y="1502.93" width="60.97" height="3.73" fill="#ffccff"/>
<rect x="299.33" y="1506.26" width="60.97" height="7.06" fill="#ff99ff"/>
<rect x="299.33" y="1512.92" width="60.97" height="10.38" fill="#ff4dff"/>
<rect x="299.33" y="1522.90" width="60.97" height="10.38" fill="#ff66ff"/>
<rect x="299.33" y="1532.88" width="60.97" height="7.06" fill="#ff4dff"/>
<rect x="299.33" y="1539.54" width="60.97" height="10.38" fill="#ff80ff"/>
<rect x="299.33" y="1549.52" width="60.97" height="3.73" fill="#ff4dff"/>
<rect x="299.33" y="1552.85" width="60.97" height="3.73" fill="#ff80ff"/>
<rect x="299.33" y="1556.18" width="60.97" height="3.73" fill="#ff66ff"/>
<rect x="299.33" y="1559.50" width="60.97" height="23.69" fill="#ff80ff"/>
<rect x="299.33" y="1582.80" width="60.97" height="3.73" fill="#ff99ff"/>
<rect x="299.33" y="1586.13" width="60.97" height="3.73" fill="#ffb2ff"/>
<rect x="299.33" y="1589.45" width="60.97" height="7.06" fill="#e6e6ff"/>
<rect x="299.33" y="1596.11" width="60.97" height="3.73" fill="#ff80ff"/>
<rect x="299.33" y="1599.44" width="60.97" height="10.38" fill="#ff99ff"/>
<rect x="299.33" y="1609.42" width="60.97" height="7.06" fill="#ff4dff"/>
<rect x="299.33" y="1616.08" width="60.97" height="3.73" fill="#ff99ff"/>
<rect x="299.33" y="1619.40" width="60.97" height="7.06" fill="#e6e6ff"/>
<rect x="299.33" y="1626.06" width="60.97" height="7.06" fill="#ffffff"/>
<rect x="299.33" y="1632.71" width="60.97" height="3.73" fill="#8080ff"/>
<rect x="299.33" y="1636.04" width="60.97" height="3.73" fill="#ff99ff"/>
<rect x="299.33" y="1639.37" width="60.97" height="3.73" fill="#ff80ff"/>
<rect x="299.33" y="1642.70" width="60.97" height="7.06" fill="#ff99ff"/>
<rect x="299.33" y="1649.35" width="60.97" height="7.06" fill="#ff33ff"/>
<rect x="299.33" y="1656.01" width="60.97" height="3.73" fill="#ff99ff"/>
<rect x="299.33" y="1659.34" width="60.97" height="7.06" fill="#ff4dff"/>
<rect x="299.33" y="1665.99" width="60.97" height="10.38" fill="#ff99ff"/>
<rect x="299.33" y="1675.97" width="60.97" height="7.06" fill="#ff80ff"/>
<rect x="299.33" y="1682.63" width="60.97" height="3.73" fill="#ffb2ff"/>
<rect x="299.33" y="1685.96" width="60.97" height="7.06" fill="#ff80ff"/>
<rect x="299.33" y="1692.61" width="60.97" height="3.73" fill="#ffe6ff"/>
<rect x="299.33" y="1695.94" width="60.97" height="3.73" fill="#ffb2ff"/>
<rect x="299.33" y="1699.27" width="60.97" height="3.73" fill="#ff99ff"/>
<rect x="299.33" y="1702.60" width="60.97" height="3.73" fill="#ffe6ff"/>
<rect x="299.33" y="1705.92" width="60.97" height="3.73" fill="#ff99ff"/>
<rect x="299.33" y="1709.25" width="60.97" height="3.73" fill="#ffb2ff"/>
<rect x="299.33" y="1712.58" width="60.97" height="3.73" fill="#ffffff"/>
<rect x="299.33" y="1715.91" width="60.97" height="3.73" fill="#ff66ff"/>
<rect x="299.33" y="1719.24" width="60.97" height="3.73" fill="#ff80ff"/>
<rect x="299.33" y="1722.56" width="60.97" height="7.06" fill="#ff4dff"/>
<rect x="299.33" y="1729.22" width="60.97" height="3.73" fill="#ffccff"/>
<rect x="299.33" y="1732.55" width="60.97" height="3.73" fill="#ff80ff"/>
<rect x="299.33" y="1735.87" width="60.97" height="17.04" fill="#ffccff"/>
<rect x="299.33" y="1752.51" width="60.97" height="10.38" fill="#ff80ff"/>
<rect x="299.33" y="1762.50" width="60.97" height="23.69" fill="#ff99ff"/>
<rect x="299.33" y="1785.79" width="60.97" height="3.73" fill="#e6e6ff"/>
<rect x="299.33" y="1789.12" width="60.97" height="3.73" fill="#ffb2ff"/>
<rect x="299.33" y="1792.45" width="60.97" height="3.73" fill="#ff99ff"/>
<rect x="299.33" y="1795.77" width="60.97" height="3.73" fill="#ccccff"/>
<rect x="299.33" y="1799.10" width="60.97" height="3.73" fill="#ffffff"/>
<rect x="299.33" y="1802.43" width="60.97" height="10.38" fill="#ffccff"/>
<rect x="299.33" y="1812.41" width="60.97" height="3.73" fill="#ffffff"/>
<rect x="299.33" y="1815.74" width="60.97" height="3.73" fill="#ff99ff"/>
<rect x="299.33" y="1819.07" width="60.97" height="3.73" fill="#ffffff"/>
<rect x="299.33" y="1822.39" width="60.97" height="3.73" fill="#ffccff"/>
<rect x="299.33" y="1825.72" width="60.97" height="3.73" fill="#ffffff"/>
<rect x="299.33" y="1829.05" width="60.97" height="3.73" fill="#8080ff"/>
<rect x="299.33" y="1832.38" width="60.97" height="3.73" fill="#ffb2ff"/>
<rect x="299.33" y="1835.71" width="60.97" height="3.73" fill="#ffe6ff"/>
<rect x="299.33" y="1839.03" width="60.97" height="10.38" fill="#ffffff"/>
<rect x="299.33" y="1849.02" width="60.97" height="7.06" fill="#ffe6ff"/>
<rect x="299.33" y="1855.67" width="60.97" height="3.73" fill="#ffffff"/>
<rect x="359.90" y="1067.00" width="60.97" height="3.73" fill="#e6e6ff"/>
<rect x="359.90" y="1070.33" width="60.97" height="3.73" fill="#ffffff"/>
<rect x="359.90" y="1073.66" width="60.97" height="3.73" fill="#ccccff"/>
<rect x="359.90" y="1076.98" width="60.97" height="7.06" fill="#b2b2ff"/>
<rect x="359.90" y="1083.64" width="60.97" height="3.73" fill="#e6e6ff"/>
<rect x="359.90" y="1086.97" width="60.97" height="7.06" fill="#ccccff"/>
<rect x="359.90" y="1093.62" width="60.97" height="3.73" fill="#ffe6ff"/>
<rect x="359.90" y="1096.95" width="60.97" height="7.06" fill="#e6e6ff"/>
<rect x="359.90" y="1103.61" width="60.97" height="3.73" fill="#ffffff"/>
<rect x="359.90" y="1106.93" width="60.97" height="3.73" fill="#ffe6ff"/>
<rect x="359.90" y="1110.26" width="60.97" height="10.38" fill="#ffffff"/>
<rect x="359.90" y="1120.24" width="60.97" height="3.73" fill="#ffe6ff"/>
<rect x="359.90" y="1123.57" width="60.97" height="3.73" fill="#e6e6ff"/>
<rect x="359.90" y="1126.90" width="60.97" height="10.38" fill="#9999ff"/>
<rect x="359.90" y="1136.88" width="60.97" height="7.06" fill="#ffe6ff"/>
<rect x="359.90" y="1143.54" width="60.97" height="10.38" fill="#e6e6ff"/>
<rect x="359.90" y="1153.52" width="60.97" height="10.38" fill="#ffffff"/>
<rect x="359.90" y="1163.50" width="60.97" height="3.73" fill="#8080ff"/>
<rect x="359.90" y="1166.83" width="60.97" height="3.73" fill="#6666ff"/>
<rect x="359.90" y="1170.16" width="60.97" height="7.06" fill="#8080ff"/>
<rect x="359.90" y="1176.82" width="60.97" height="3.73" fill="#1919ff"/>
<rect x="359.90" y="1180.14" width="60.97" height="7.06" fill="#3333ff"/>
<rect x="359.90" y="1186.80" width="60.97" height="3.73" fill="#4d4dff"/>
<rect x="359.90" y="1190.13" width="60.97" height="3.73" fill="#8080ff"/>
<rect x="359.90" y="1193.45" width="60.97" height="7.06" fill="#6666ff"/>
<rect x="359.90" y="1200.11" width="60.97" height="3.73" fill="#4d4dff"/>
<rect x="359.90" y="1203.44" width="60.97" height="3.73" fill="#6666ff"/>
<rect x="359.90" y="1206.76" width="60.97" height="7.06" fill="#9999ff"/>
<rect x="359.90" y="1213.42" width="60.97" height="10.38" fill="#6666ff"/>
<rect x="359.90" y="1223.40" width="60.97" height="3.73" fill="#4d4dff"/>
<rect x="359.90" y="1226.73" width="60.97" height="7.06" fill="#8080ff"/>
<rect x="359.90" y="1233.39" width="60.97" height="3.73" fill="#1919ff"/>
<rect x="359.90" y="1236.71" width="60.97" height="10.38" fill="#9999ff"/>
<rect x="359.90" y="1246.70" width="60.97" height="3.73" fill="#3333ff"/>
<rect x="359.90" y="1250.03" width="60.97" height="3.73" fill="#ffe6ff"/>
<rect x="359.90" y="1253.35" width="60.97" height="13.71" fill="#ffffff"/>
<rect x="359.90" y="1266.66" width="60.97" height="3.73" fill="#ffb2ff"/>
<rect x="359.90" y="1269.99" width="60.97" height="3.73" fill="#ffccff"/>
<rect x="359.90" y="1273.32" width="60.97" height="7.06" fill="#ffffff"/>
<rect x="359.90" y="1279.97" width="60.97" height="3.73" fill="#ffccff"/>
<rect x="359.90" y="1283.30" width="60.97" height="3.73" fill="#e6e6ff"/>
<rect x="359.90" y="1286.63" width="60.97" height="7.06" fill="#ccccff"/>
<rect x="359.90" y="1293.29" width="60.97" height="3.73" fill="#ffe6ff"/>
<rect x="359.90" y="1296.61" width="60.97" height="7.06" fill="#e6e6ff"/>
<rect x="359.90" y="1303.27" width="60.97" height="3.73" fill="#b2b2ff"/>
<rect x="359.90" y="1306.60" width="60.97" height="3.73" fill="#ffe6ff"/>
<rect x="359.90" y="1309.92" width="60.97" height="3.73" fill="#ccccff"/>
<rect x="359.90" y="1313.25" width="60.97" height="3.73" fill="#e6e6ff"/>
<rect x="359.90" y="1316.58" width="60.97" height="7.06" fill="#3333ff"/>
<rect x="359.90" y="1323.24" width="60.97" height="3.73" fill="#6666ff"/>
<rect x="359.90" y="1326.56" width="60.97" height="13.71" fill="#b2b2ff"/>
<rect x="359.90" y="1339.87" width="60.97" height="3.73" fill="#6666ff"/>
<rect x="359.90" y="1343.20" width="60.97" height="3.73" fill="#8080ff"/>
<rect x="359.90" y="1346.53" width="60.97" height="3.73" fill="#9999ff"/>
<rect x="359.90" y="1349.86" width="60.97" height="3.73" fill="#8080ff"/>
<rect x="359.90" y="1353.18" width="60.97" height="3.73" fill="#ccccff"/>
<rect x="359.90" y="1356.51" width="60.97" height="3.73" fill="#9999ff"/>
<rect x="359.90" y="1359.84" width="60.97" height="3.73" fill="#ffe6ff"/>
<rect x="359.90" y="1363.17" width="60.97" height="3.73" fill="#ffffff"/>
<rect x="359.90" y="1366.50" width="60.97" height="3.73" fill="#3333ff"/>
<rect x="359.90" y="1369.82" width="60.97" height="7.06" fill="#8080ff"/>
<rect x="359.90" y="1376.48" width="60.97" height="10.38" fill="#ffffff"/>
<rect x="359.90" y="1386.46" width="60.97" height="3.73" fill="#e6e6ff"/>
<rect x="359.90" y="1389.79" width="60.97" height="3.73" fill="#ccccff"/>
<rect x="359.90" y="1393.12" width="60.97" height="3.73" fill="#b2b2ff"/>
<rect x="359.90" y="1396.45" width="60.97" height="10.38" fill="#ccccff"/>
<rect x="359.90" y="1406.43" width="60.97" height="3.73" fill="#9999ff"/>
<rect x="359.90" y="1409.76" width="60.97" height="3.73" fill="#ccccff"/>
<rect x="359.90" y="1413.08" width="60.97" height="7.06" fill="#3333ff"/>
<rect x="359.90" y="1419.74" width="60.97" height="3.73" fill="#6666ff"/>
<rect x="359.90" y="1423.07" width="60.97" height="3.73" fill="#ffffff"/>
<rect x="359.90" y="1426.39" width="60.97" height="3.73" fill="#b2b2ff"/>
<rect x="359.90" y="1429.72" width="60.97" height="7.06" fill="#8080ff"/>
<rect x="359.90" y="1436.38" width="60.97" height="7.06" fill="#ffffff"/>
<rect x="359.90" y="1443.03" width="60.97" height="3.73" fill="#ccccff"/>
<rect x="359.90" y="1446.36" width="60.97" height="3.73" fill="#ffe6ff"/>
<rect x="359.90" y="1449.69" width="60.97" height="3.73" fill="#ffb2ff"/>
<rect x="359.90" y="1453.02" width="60.97" height="7.06" fill="#ffccff"/>
<rect x="359.90" y="1459.67" width="60.97" height="3.73" fill="#ccccff"/>
<rect x="359.90" y="1463.00" width="60.97" height="3.73" fill="#b2b2ff"/>
<rect x="359.90" y="1466.33" width="60.97" height="3.73" fill="#ccccff"/>
<rect x="359.90" y="1469.66" width="60.97" height="3.73" fill="#b2b2ff"/>
<rect x="359.90" y="1472.98" width="60.97" height="3.73" fill="#ccccff"/>
<rect x="359.90" y="1476.31" width="60.97" height="3.73" fill="#8080ff"/>
<rect x="359.90" y="1479.64" width="60.97" height="7.06" fill="#ffffff"/>
<rect x="359.90" y="1486.29" width="60.97" height="3.73" fill="#b2b2ff"/>
<rect x="359.90" y="1489.62" width="60.97" height="3.73" fill="#6666ff"/>
<rect x="359.90" y="1492.95" width="60.97" height="3.73" fill="#b2b2ff"/>
<rect x="359.90" y="1496.28" width="60.97" height="3.73" fill="#ccccff"/>
<rect x="359.90" y="1499.61" width="60.97" height="3.73" fill="#ffffff"/>
<rect x="359.90" y="1502.93" width="60.97" height="3.73" fill="#ffccff"/>
<rect x="359.90" y="1506.26" width="60.97" height="3.73" fill="#ff4dff"/>
<rect x="359.90" y="1509.59" width="60.97" height="3.73" fill="#ff33ff"/>
<rect x="359.90" y="1512.92" width="60.97" height="10.38" fill="#ff4dff"/>
<rect x="359.90" y="1522.90" width="60.97" height="3.73" fill="#ffffff"/>
<rect x="359.90" y="1526.23" width="60.97" height="7.06" fill="#9999ff"/>
<rect x="359.90" y="1532.88" width="60.97" height="7.06" fill="#ccccff"/>
<rect x="359.90" y="1539.54" width="60.97" height="3.73" fill="#ffb2ff"/>
<rect x="359.90" y="1542.87" width="60.97" height="3.73" fill="#ffccff"/>
<rect x="359.90" y="1546.19" width="60.97" height="3.73" fill="#ffe6ff"/>
<rect x="359.90" y="1549.52" width="60.97" height="7.06" fill="#ffb2ff"/>
<rect x="359.90" y="1556.18" width="60.97" height="3.73" fill="#ffccff"/>
<rect x="359.90" y="1559.50" width="60.97" height="20.37" fill="#ffffff"/>
<rect x="359.90" y="1579.47" width="60.97" height="3.73" fill="#ffe6ff"/>
<rect x="359.90" y="1582.80" width="60.97" height="7.06" fill="#ff80ff"/>
<rect x="359.90" y="1589.45" width="60.97" height="7.06" fill="#ff99ff"/>
<rect x="359.90" y="1596.11" width="60.97" height="7.06" fill="#ffe6ff"/>
<rect x="359.90" y="1602.76" width="60.97" height="7.06" fill="#ffccff"/>
<rect x="359.90" y="1609.42" width="60.97" height="7.06" fill="#ffe6ff"/>
<rect x="359.90" y="1616.08" width="60.97" height="3.73" fill="#ff66ff"/>
<rect x="359.90" y="1619.40" width="60.97" height="7.06" fill="#ff33ff"/>
<rect x="359.90" y="1626.06" width="60.97" height="3.73" fill="#ff4dff"/>
<rect x="359.90" y="1629.39" width="60.97" height="3.73" fill="#ff19ff"/>
<rect x="359.90" y="1632.71" width="60.97" height="3.73" fill="#ff66ff"/>
<rect x="359.90" y="1636.04" width="60.97" height="3.73" fill="#ffb2ff"/>
<rect x="359.90" y="1639.37" width="60.97" height="3.73" fill="#ff4dff"/>
<rect x="359.90" y="1642.70" width="60.97" height="3.73" fill="#ff80ff"/>
<rect x="359.90" y="1646.03" width="60.97" height="3.73" fill="#ff4dff"/>
<rect x="359.90" y="1649.35" width="60.97" height="3.73" fill="#ffffff"/>
<rect x="359.90" y="1652.68" width="60.97" height="3.73" fill="#ffccff"/>
<rect x="359.90" y="1656.01" width="60.97" height="10.38" fill="#ff99ff"/>
<rect x="359.90" y="1665.99" width="60.97" height="3.73" fill="#b2b2ff"/>
<rect x="359.90" y="1669.32" width="60.97" height="3.73" fill="#ffffff"/>
<rect x="359.90" y="1672.65" width="60.97" height="10.38" fill="#ffe6ff"/>
<rect x="359.90" y="1682.63" width="60.97" height="10.38" fill="#ff99ff"/>
<rect x="359.90" y="1692.61" width="60.97" height="3.73" fill="#ffe6ff"/>
<rect x="359.90" y="1695.94" width="60.97" height="3.73" fill="#ffffff"/>
<rect x="359.90" y="1699.27" width="60.97" height="7.06" fill="#ffccff"/>
<rect x="359.90" y="1705.92" width="60.97" height="7.06" fill="#ff80ff"/>
<rect x="359.90" y="1712.58" width="60.97" height="3.73" fill="#ff4dff"/>
<rect x="359.90" y="1715.91" width="60.97" height="7.06" fill="#ff80ff"/>
<rect x="359.90" y="1722.56" width="60.97" height="7.06" fill="#ff99ff"/>
<rect x="359.90" y="1729.22" width="60.97" height="7.06" fill="#ff66ff"/>
<rect x="359.90" y="1735.87" width="60.97" height="3.73" fill="#ff33ff"/>
<rect x="359.90" y="1739.20" width="60.97" height="10.38" fill="#ff4dff"/>
<rect x="359.90" y="1749.18" width="60.97" height="3.73" fill="#ff33ff"/>
<rect x="359.90" y="1752.51" width="60.97" height="3.73" fill="#ffb2ff"/>
<rect x="359.90" y="1755.84" width="60.97" height="7.06" fill="#ffccff"/>
<rect x="359.90" y="1762.50" width="60.97" height="3.73" fill="#ff99ff"/>
<rect x="359.90" y="1765.82" width="60.97" height="3.73" fill="#ffe6ff"/>
<rect x="359.90" y="1769.15" width="60.97" height="3.73" fill="#ff99ff"/>
<rect x="359.90" y="1772.48" width="60.97" height="7.06" fill="#ffccff"/>
<rect x="359.90" y="1779.13" width="60.97" height="3.73" fill="#ffffff"/>
<rect x="359.90" y="1782.46" width="60.97" height="7.06" fill="#ffccff"/>
<rect x="359.90" y="1789.12" width="60.97" height="3.73" fill="#e6e6ff"/>
<rect x="359.90" y="1792.45" width="60.97" height="3.73" fill="#ffccff"/>
<rect x="359.90" y="1795.77" width="60.97" height="3.73" fill="#ccccff"/>
<rect x="359.90" y="1799.10" width="60.97" height="3.73" fill="#b2b2ff"/>
<rect x="359.90" y="1802.43" width="60.97" height="7.06" fill="#ffe6ff"/>
<rect x="359.90" y="1809.08" width="60.97" height="3.73" fill="#ffb2ff"/>
<rect x="359.90" y="1812.41" width="60.97" height="3.73" fill="#ccccff"/>
<rect x="359.90" y="1815.74" width="60.97" height="3.73" fill="#b2b2ff"/>
<rect x="359.90" y="1819.07" width="60.97" height="3.73" fill="#e6e6ff"/>
<rect x="359.90" y="1822.39" width="60.97" height="10.38" fill="#ffffff"/>
<rect x="359.90" y="1832.38" width="60.97" height="7.06" fill="#ffe6ff"/>
<rect x="359.90" y="1839.03" width="60.97" height="3.73" fill="#ffffff"/>
<rect x="359.90" y="1842.36" width="60.97" height="7.06" fill="#ffccff"/>
<rect x="359.90" y="1849.02" width="60.97" height="3.73" fill="#ffb2ff"/>
<rect x="359.90" y="1852.34" width="60.97" height="7.06" fill="#ff99ff"/>
<rect x="420.47" y="1067.00" width="60.97" height="7.06" fill="#b2b2ff"/>
<rect x="420.47" y="1073.66" width="60.97" height="3.73" fill="#ccccff"/>
<rect x="420.47" y="1076.98" width="60.97" height="7.06" fill="#ffffff"/>
<rect x="420.47" y="1083.64" width="60.97" height="7.06" fill="#ccccff"/>
<rect x="420.47" y="1090.29" width="60.97" height="7.06" fill="#b2b2ff"/>
<rect x="420.47" y="1096.95" width="60.97" height="3.73" fill="#ccccff"/>
<rect x="420.47" y="1100.28" width="60.97" height="3.73" fill="#b2b2ff"/>
<rect x="420.47" y="1103.61" width="60.97" height="7.06" fill="#ccccff"/>
<rect x="420.47" y="1110.26" width="60.97" height="3.73" fill="#b2b2ff"/>
<rect x="420.47" y="1113.59" width="60.97" height="7.06" fill="#ffccff"/>
<rect x="420.47" y="1120.24" width="60.97" height="3.73" fill="#e6e6ff"/>
<rect x="420.47" y="1123.57" width="60.97" height="7.06" fill="#ffe6ff"/>
<rect x="420.47" y="1130.23" width="60.97" height="3.73" fill="#ff99ff"/>
<rect x="420.47" y="1133.55" width="60.97" height="3.73" fill="#ffb2ff"/>
<rect x="420.47" y="1136.88" width="60.97" height="7.06" fill="#ffffff"/>
<rect x="420.47" y="1143.54" width="60.97" height="3.73" fill="#e6e6ff"/>
<rect x="420.47" y="1146.87" width="60.97" height="7.06" fill="#ffffff"/>
<rect x="420.47" y="1153.52" width="60.97" height="7.06" fill="#ffccff"/>
<rect x="420.47" y="1160.18" width="60.97" height="3.73" fill="#ccccff"/>
<rect x="420.47" y="1163.50" width="60.97" height="7.06" fill="#ffffff"/>
<rect x="420.47" y="1170.16" width="60.97" height="7.06" fill="#ff99ff"/>
<rect x="420.47" y="1176.82" width="60.97" height="3.73" fill="#ffccff"/>
<rect x="420.47" y="1180.14" width="60.97" height="3.73" fill="#ffe6ff"/>
<rect x="420.47" y="1183.47" width="60.97" height="3.73" fill="#ccccff"/>
<rect x="420.47" y="1186.80" width="60.97" height="7.06" fill="#ffffff"/>
<rect x="420.47" y="1193.45" width="60.97" height="7.06" fill="#ccccff"/>
<rect x="420.47" y="1200.11" width="60.97" height="7.06" fill="#ffffff"/>
<rect x="420.47" y="1206.76" width="60.97" height="3.73" fill="#b2b2ff"/>
<rect x="420.47" y="1210.09" width="60.97" height="10.38" fill="#e6e6ff"/>
<rect x="420.47" y="1220.08" width="60.97" height="7.06" fill="#ffffff"/>
<rect x="420.47" y="1226.73" width="60.97" height="3.73" fill="#e6e6ff"/>
<rect x="420.47" y="1230.06" width="60.97" height="7.06" fill="#9999ff"/>
<rect x="420.47" y="1236.71" width="60.97" height="7.06" fill="#ffb2ff"/>
<rect x="420.47" y="1243.37" width="60.97" height="3.73" fill="#ccccff"/>
<rect x="420.47" y="1246.70" width="60.97" height="3.73" fill="#ffffff"/>
<rect x="420.47" y="1250.03" width="60.97" height="3.73" fill="#8080ff"/>
<rect x="420.47" y="1253.35" width="60.97" height="3.73" fill="#1919ff"/>
<rect x="420.47" y="1256.68" width="60.97" height="10.38" fill="#e6e6ff"/>
<rect x="420.47" y="1266.66" width="60.97" height="3.73" fill="#b2b2ff"/>
<rect x="420.47" y="1269.99" width="60.97" height="3.73" fill="#6666ff"/>
<rect x="420.47" y="1273.32" width="60.97" height="3.73" fill="#ccccff"/>
<rect x="420.47" y="1276.65" width="60.97" height="3.73" fill="#9999ff"/>
<rect x="420.47" y="1279.97" width="60.97" height="3.73" fill="#6666ff"/>
<rect x="420.47" y="1283.30" width="60.97" height="3.73" fill="#ffffff"/>
<rect x="420.47" y="1286.63" width="60.97" height="7.06" fill="#ccccff"/>
<rect x="420.47" y="1293.29" width="60.97" height="3.73" fill="#e6e6ff"/>
<rect x="420.47" y="1296.61" width="60.97" height="3.73" fill="#9999ff"/>
<rect x="420.47" y="1299.94" width="60.97" height="3.73" fill="#e6e6ff"/>
<rect x="420.47" y="1303.27" width="60.97" height="3.73" fill="#8080ff"/>
<rect x="420.47" y="1306.60" width="60.97" height="3.73" fill="#b2b2ff"/>
<rect x="420.47" y="1309.92" width="60.97" height="7.06" fill="#ccccff"/>
<rect x="420.47" y="1316.58" width="60.97" height="10.38" fill="#e6e6ff"/>
<rect x="420.47" y="1326.56" width="60.97" height="13.71" fill="#b2b2ff"/>
<rect x="420.47" y="1339.87" width="60.97" height="3.73" fill="#ffffff"/>
<rect x="420.47" y="1343.20" width="60.97" height="3.73" fill="#9999ff"/>
<rect x="420.47" y="1346.53" width="60.97" height="3.73" fill="#ccccff"/>
<rect x="420.47" y="1349.86" width="60.97" height="7.06" fill="#9999ff"/>
<rect x="420.47" y="1356.51" width="60.97" height="3.73" fill="#8080ff"/>
<rect x="420.47" y="1359.84" width="60.97" height="7.06" fill="#ccccff"/>
<rect x="420.47" y="1366.50" width="60.97" height="3.73" fill="#ffe6ff"/>
<rect x="420.47" y="1369.82" width="60.97" height="3.73" fill="#b2b2ff"/>
<rect x="420.47" y="1373.15" width="60.97" height="3.73" fill="#9999ff"/>
<rect x="420.47" y="1376.48" width="60.97" height="7.06" fill="#ccccff"/>
<rect x="420.47" y="1383.13" width="60.97" height="3.73" fill="#8080ff"/>
<rect x="420.47" y="1386.46" width="60.97" height="3.73" fill="#9999ff"/>
<rect x="420.47" y="1389.79" width="60.97" height="3.73" fill="#ccccff"/>
<rect x="420.47" y="1393.12" width="60.97" height="3.73" fill="#ffccff"/>
<rect x="420.47" y="1396.45" width="60.97" height="10.38" fill="#ffffff"/>
<rect x="420.47" y="1406.43" width="60.97" height="10.38" fill="#ccccff"/>
<rect x="420.47" y="1416.41" width="60.97" height="3.73" fill="#ffffff"/>
<rect x="420.47" y="1419.74" width="60.97" height="3.73" fill="#8080ff"/>
<rect x="420.47" y="1423.07" width="60.97" height="3.73" fill="#ffb2ff"/>
<rect x="420.47" y="1426.39" width="60.97" height="3.73" fill="#ffe6ff"/>
<rect x="420.47" y="1429.72" width="60.97" height="3.73" fill="#ffccff"/>
<rect x="420.47" y="1433.05" width="60.97" height="7.06" fill="#ffe6ff"/>
<rect x="420.47" y="1439.71" width="60.97" height="7.06" fill="#ffb2ff"/>
<rect x="420.47" y="1446.36" width="60.97" height="3.73" fill="#6666ff"/>
<rect x="420.47" y="1449.69" width="60.97" height="10.38" fill="#8080ff"/>
<rect x="420.47" y="1459.67" width="60.97" height="3.73" fill="#ffffff"/>
<rect x="420.47" y="1463.00" width="60.97" height="7.06" fill="#9999ff"/>
<rect x="420.47" y="1469.66" width="60.97" height="3.73" fill="#ffffff"/>
<rect x="420.47" y="1472.98" width="60.97" height="3.73" fill="#ccccff"/>
<rect x="420.47" y="1476.31" width="60.97" height="3.73" fill="#9999ff"/>
<rect x="420.47" y="1479.64" width="60.97" height="7.06" fill="#b2b2ff"/>
<rect x="420.47" y="1486.29" width="60.97" height="3.73" fill="#ffccff"/>
<rect x="420.47" y="1489.62" width="60.97" height="7.06" fill="#9999ff"/>
<rect x="420.47" y="1496.28" width="60.97" height="3.73" fill="#6666ff"/>
<rect x="420.47" y="1499.61" width="60.97" height="3.73" fill="#ffb2ff"/>
<rect x="420.47" y="1502.93" width="60.97" height="3.73" fill="#ffccff"/>
<rect x="420.47" y="1506.26" width="60.97" height="3.73" fill="#ffffff"/>
<rect x="420.47" y="1509.59" width="60.97" height="3.73" fill="#ffccff"/>
<rect x="420.47" y="1512.92" width="60.97" height="10.38" fill="#ccccff"/>
<rect x="420.47" y="1522.90" width="60.97" height="3.73" fill="#ffe6ff"/>
<rect x="420.47" y="1526.23" width="60.97" height="3.73" fill="#ffccff"/>
<rect x="420.47" y="1529.55" width="60.97" height="7.06" fill="#ff99ff"/>
<rect x="420.47" y="1536.21" width="60.97" height="3.73" fill="#ff80ff"/>
<rect x="420.47" y="1539.54" width="60.97" height="10.38" fill="#ffe6ff"/>
<rect x="420.47" y="1549.52" width="60.97" height="3.73" fill="#e6e6ff"/>
<rect x="420.47" y="1552.85" width="60.97" height="3.73" fill="#ffe6ff"/>
<rect x="420.47" y="1556.18" width="60.97" height="3.73" fill="#e6e6ff"/>
<rect x="420.47" y="1559.50" width="60.97" height="7.06" fill="#ffe6ff"/>
<rect x="420.47" y="1566.16" width="60.97" height="3.73" fill="#ff99ff"/>
<rect x="420.47" y="1569.49" width="60.97" height="3.73" fill="#ff66ff"/>
<rect x="420.47" y="1572.82" width="60.97" height="7.06" fill="#ffb2ff"/>
<rect x="420.47" y="1579.47" width="60.97" height="3.73" fill="#ffccff"/>
<rect x="420.47" y="1582.80" width="60.97" height="3.73" fill="#e6e6ff"/>
<rect x="420.47" y="1586.13" width="60.97" height="10.38" fill="#ffccff"/>
<rect x="420.47" y="1596.11" width="60.97" height="3.73" fill="#ffffff"/>
<rect x="420.47" y="1599.44" width="60.97" height="10.38" fill="#ff99ff"/>
<rect x="420.47" y="1609.42" width="60.97" height="3.73" fill="#ffffff"/>
<rect x="420.47" y="1612.75" width="60.97" height="3.73" fill="#ffe6ff"/>
<rect x="420.47" y="1616.08" width="60.97" height="3.73" fill="#ccccff"/>
<rect x="420.47" y="1619.40" width="60.97" height="3.73" fill="#ffffff"/>
<rect x="420.47" y="1622.73" width="60.97" height="3.73" fill="#b2b2ff"/>
<rect x="420.47" y="1626.06" width="60.97" height="7.06" fill="#ff99ff"/>
<rect x="420.47" y="1632.71" width="60.97" height="3.73" fill="#ff80ff"/>
<rect x="420.47" y="1636.04" width="60.97" height="7.06" fill="#ffffff"/>
<rect x="420.47" y="1642.70" width="60.97" height="3.73" fill="#ffe6ff"/>
<rect x="420.47" y="1646.03" width="60.97" height="3.73" fill="#ffccff"/>
<rect x="420.47" y="1649.35" width="60.97" height="7.06" fill="#ffb2ff"/>
<rect x="420.47" y="1656.01" width="60.97" height="3.73" fill="#ffe6ff"/>
<rect x="420.47" y="1659.34" width="60.97" height="3.73" fill="#ccccff"/>
<rect x="420.47" y="1662.66" width="60.97" height="3.73" fill="#ffffff"/>
<rect x="420.47" y="1665.99" width="60.97" height="3.73" fill="#ffccff"/>
<rect x="420.47" y="1669.32" width="60.97" height="3.73" fill="#ccccff"/>
<rect x="420.47" y="1672.65" width="60.97" height="3.73" fill="#ffffff"/>
<rect x="420.47" y="1675.97" width="60.97" height="3.73" fill="#e6e6ff"/>
<rect x="420.47" y="1679.30" width="60.97" height="3.73" fill="#ffb2ff"/>
<rect x="420.47" y="1682.63" width="60.97" height="3.73" fill="#ffe6ff"/>
<rect x="420.47" y="1685.96" width="60.97" height="7.06" fill="#ffffff"/>
<rect x="420.47" y="1692.61" width="60.97" height="3.73" fill="#ff80ff"/>
<rect x="420.47" y="1695.94" width="60.97" height="3.73" fill="#ff99ff"/>
<rect x="420.47" y="1699.27" width="60.97" height="7.06" fill="#ff80ff"/>
<rect x="420.47" y="1705.92" width="60.97" height="3.73" fill="#ffccff"/>
<rect x="420.47" y="1709.25" width="60.97" height="3.73" fill="#ffb2ff"/>
<rect x="420.47" y="1712.58" width="60.97" height="3.73" fill="#e6e6ff"/>
<rect x="420.47" y="1715.91" width="60.97" height="3.73" fill="#ccccff"/>
<rect x="420.47" y="1719.24" width="60.97" height="3.73" fill="#ffffff"/>
<rect x="420.47" y="1722.56" width="60.97" height="7.06" fill="#ffccff"/>
<rect x="420.47" y="1729.22" width="60.97" height="7.06" fill="#ffe6ff"/>
<rect x="420.47" y="1735.87" width="60.97" height="7.06" fill="#ccccff"/>
<rect x="420.47" y="1742.53" width="60.97" height="10.38" fill="#ffffff"/>
<rect x="420.47" y="1752.51" width="60.97" height="10.38" fill="#ffccff"/>
<rect x="420.47" y="1762.50" width="60.97" height="3.73" fill="#ffffff"/>
<rect x="420.47" y="1765.82" width="60.97" height="3.73" fill="#ffccff"/>
<rect x="420.47" y="1769.15" width="60.97" height="3.73" fill="#ffffff"/>
<rect x="420.47" y="1772.48" width="60.97" height="3.73" fill="#ccccff"/>
<rect x="420.47" y="1775.81" width="60.97" height="3.73" fill="#ffffff"/>
<rect x="420.47" y="1779.13" width="60.97" height="7.06" fill="#ffe6ff"/>
<rect x="420.47" y="1785.79" width="60.97" height="3.73" fill="#ff66ff"/>
<rect x="420.47" y="1789.12" width="60.97" height="3.73" fill="#ff4dff"/>
<rect x="420.47" y="1792.45" width="60.97" height="3.73" fill="#ff80ff"/>
<rect x="420.47" y="1795.77" width="60.97" height="3.73" fill="#ffe6ff"/>
<rect x="420.47" y="1799.10" width="60.97" height="3.73" fill="#ff66ff"/>
<rect x="420.47" y="1802.43" width="60.97" height="3.73" fill="#ffb2ff"/>
<rect x="420.47" y="1805.76" width="60.97" height="7.06" fill="#ffccff"/>
<rect x="420.47" y="1812.41" width="60.97" height="3.73" fill="#ff99ff"/>
<rect x="420.47" y="1815.74" width="60.97" height="3.73" fill="#ff33ff"/>
<rect x="420.47" y="1819.07" width="60.97" height="7.06" fill="#ff66ff"/>
<rect x="420.47" y="1825.72" width="60.97" height="3.73" fill="#ff33ff"/>
<rect x="420.47" y="1829.05" width="60.97" height="3.73" fill="#ffb2ff"/>
<rect x="420.47" y="1832.38" width="60.97" height="3.73" fill="#ffffff"/>
<rect x="420.47" y="1835.71" width="60.97" height="3.73" fill="#ffccff"/>
<rect x="420.47" y="1839.03" width="60.97" height="7.06" fill="#ffe6ff"/>
<rect x="420.47" y="1845.69" width="60.97" height="7.06" fill="#ff99ff"/>
<rect x="420.47" y="1852.34" width="60.97" height="7.06" fill="#ff66ff"/>
<rect x="481.03" y="1067.00" width="60.97" height="13.71" fill="#ffffff"/>
<rect x="481.03" y="1080.31" width="60.97" height="10.38" fill="#ff4dff"/>
<rect x="481.03" y="1090.29" width="60.97" height="3.73" fill="#b2b2ff"/>
<rect x="481.03" y="1093.62" width="60.97" height="3.73" fill="#9999ff"/>
<rect x="481.03" y="1096.95" width="60.97" height="3.73" fill="#ffffff"/>
<rect x="481.03" y="1100.28" width="60.97" height="7.06" fill="#e6e6ff"/>
<rect x="481.03" y="1106.93" width="60.97" height="7.06" fill="#ffffff"/>
<rect x="481.03" y="1113.59" width="60.97" height="7.06" fill="#ff99ff"/>
<rect x="481.03" y="1120.24" width="60.97" height="3.73" fill="#ffb2ff"/>
<rect x="481.03" y="1123.57" width="60.97" height="3.73" fill="#ffffff"/>
<rect x="481.03" y="1126.90" width="60.97" height="3.73" fill="#ccccff"/>
<rect x="481.03" y="1130.23" width="60.97" height="3.73" fill="#ffffff"/>
<rect x="481.03" y="1133.55" width="60.97" height="3.73" fill="#ccccff"/>
<rect x="481.03" y="1136.88" width="60.97" height="7.06" fill="#ff66ff"/>
<rect x="481.03" y="1143.54" width="60.97" height="3.73" fill="#ffb2ff"/>
<rect x="481.03" y="1146.87" width="60.97" height="7.06" fill="#ff99ff"/>
<rect x="481.03" y="1153.52" width="60.97" height="7.06" fill="#ffb2ff"/>
<rect x="481.03" y="1160.18" width="60.97" height="3.73" fill="#ffffff"/>
<rect x="481.03" y="1163.50" width="60.97" height="7.06" fill="#ff66ff"/>
<rect x="481.03" y="1170.16" width="60.97" height="3.73" fill="#ff99ff"/>
<rect x="481.03" y="1173.49" width="60.97" height="7.06" fill="#ffccff"/>
<rect x="481.03" y="1180.14" width="60.97" height="3.73" fill="#ffe6ff"/>
<rect x="481.03" y="1183.47" width="60.97" height="3.73" fill="#ffccff"/>
<rect x="481.03" y="1186.80" width="60.97" height="3.73" fill="#ffb2ff"/>
<rect x="481.03" y="1190.13" width="60.97" height="10.38" fill="#ffccff"/>
<rect x="481.03" y="1200.11" width="60.97" height="3.73" fill="#ff4dff"/>
<rect x="481.03" y="1203.44" width="60.97" height="7.06" fill="#ffb2ff"/>
<rect x="481.03" y="1210.09" width="60.97" height="13.71" fill="#ff99ff"/>
<rect x="481.03" y="1223.40" width="60.97" height="7.06" fill="#e6e6ff"/>
<rect x="481.03" y="1230.06" width="60.97" height="3.73" fill="#ffb2ff"/>
<rect x="481.03" y="1233.39" width="60.97" height="7.06" fill="#ffe6ff"/>
<rect x="481.03" y="1240.04" width="60.97" height="3.73" fill="#ff99ff"/>
<rect x="481.03" y="1243.37" width="60.97" height="7.06" fill="#ffccff"/>
<rect x="481.03" y="1250.03" width="60.97" height="7.06" fill="#ffffff"/>
<rect x="481.03" y="1256.68" width="60.97" height="10.38" fill="#e6e6ff"/>
<rect x="481.03" y="1266.66" width="60.97" height="3.73" fill="#ffffff"/>
<rect x="481.03" y="1269.99" width="60.97" height="7.06" fill="#ffccff"/>
<rect x="481.03" y="1276.65" width="60.97" height="20.37" fill="#ffffff"/>
<rect x="481.03" y="1296.61" width="60.97" height="7.06" fill="#ff66ff"/>
<rect x="481.03" y="1303.27" width="60.97" height="3.73" fill="#ff80ff"/>
<rect x="481.03" y="1306.60" width="60.97" height="3.73" fill="#ffb2ff"/>
<rect x="481.03" y="1309.92" width="60.97" height="7.06" fill="#ffffff"/>
<rect x="481.03" y="1316.58" width="60.97" height="10.38" fill="#ffe6ff"/>
<rect x="481.03" y="1326.56" width="60.97" height="3.73" fill="#9999ff"/>
<rect x="481.03" y="1329.89" width="60.97" height="10.38" fill="#ccccff"/>
<rect x="481.03" y="1339.87" width="60.97" height="3.73" fill="#b2b2ff"/>
<rect x="481.03" y="1343.20" width="60.97" height="3.73" fill="#ffffff"/>
<rect x="481.03" y="1346.53" width="60.97" height="3.73" fill="#ff99ff"/>
<rect x="481.03" y="1349.86" width="60.97" height="3.73" fill="#ffe6ff"/>
<rect x="481.03" y="1353.18" width="60.97" height="3.73" fill="#ccccff"/>
<rect x="481.03" y="1356.51" width="60.97" height="3.73" fill="#e6e6ff"/>
<rect x="481.03" y="1359.84" width="60.97" height="7.06" fill="#ff99ff"/>
<rect x="481.03" y="1366.50" width="60.97" height="7.06" fill="#ff66ff"/>
<rect x="481.03" y="1373.15" width="60.97" height="7.06" fill="#ff33ff"/>
<rect x="481.03" y="1379.81" width="60.97" height="10.38" fill="#ff4dff"/>
<rect x="481.03" y="1389.79" width="60.97" height="7.06" fill="#ff19ff"/>
<rect x="481.03" y="1396.45" width="60.97" height="10.38" fill="#ff4dff"/>
<rect x="481.03" y="1406.43" width="60.97" height="3.73" fill="#ff80ff"/>
<rect x="481.03" y="1409.76" width="60.97" height="3.73" fill="#ff33ff"/>
<rect x="481.03" y="1413.08" width="60.97" height="3.73" fill="#ff80ff"/>
<rect x="481.03" y="1416.41" width="60.97" height="7.06" fill="#ff99ff"/>
<rect x="481.03" y="1423.07" width="60.97" height="7.06" fill="#ffffff"/>
<rect x="481.03" y="1429.72" width="60.97" height="7.06" fill="#ffccff"/>
<rect x="481.03" y="1436.38" width="60.97" height="3.73" fill="#ff80ff"/>
<rect x="481.03" y="1439.71" width="60.97" height="3.73" fill="#ffb2ff"/>
<rect x="481.03" y="1443.03" width="60.97" height="3.73" fill="#ff80ff"/>
<rect x="481.03" y="1446.36" width="60.97" height="3.73" fill="#ffb2ff"/>
<rect x="481.03" y="1449.69" width="60.97" height="3.73" fill="#ff66ff"/>
<rect x="481.03" y="1453.02" width="60.97" height="10.38" fill="#ffccff"/>
<rect x="481.03" y="1463.00" width="60.97" height="3.73" fill="#ff66ff"/>
<rect x="481.03" y="1466.33" width="60.97" height="3.73" fill="#ffffff"/>
<rect x="481.03" y="1469.66" width="60.97" height="7.06" fill="#ffccff"/>
<rect x="481.03" y="1476.31" width="60.97" height="3.73" fill="#ffffff"/>
<rect x="481.03" y="1479.64" width="60.97" height="7.06" fill="#ffb2ff"/>
<rect x="481.03" y="1486.29" width="60.97" height="10.38" fill="#ff99ff"/>
<rect x="481.03" y="1496.28" width="60.97" height="3.73" fill="#ff66ff"/>
<rect x="481.03" y="1499.61" width="60.97" height="3.73" fill="#e6e6ff"/>
<rect x="481.03" y="1502.93" width="60.97" height="3.73" fill="#ffccff"/>
<rect x="481.03" y="1506.26" width="60.97" height="7.06" fill="#6666ff"/>
<rect x="481.03" y="1512.92" width="60.97" height="3.73" fill="#b2b2ff"/>
<rect x="481.03" y="1516.24" width="60.97" height="7.06" fill="#e6e6ff"/>
<rect x="481.03" y="1522.90" width="60.97" height="7.06" fill="#ccccff"/>
<rect x="481.03" y="1529.55" width="60.97" height="7.06" fill="#8080ff"/>
<rect x="481.03" y="1536.21" width="60.97" height="7.06" fill="#3333ff"/>
<rect x="481.03" y="1542.87" width="60.97" height="3.73" fill="#1919ff"/>
<rect x="481.03" y="1546.19" width="60.97" height="3.73" fill="#0000ff"/>
<rect x="481.03" y="1549.52" width="60.97" height="3.73" fill="#4d4dff"/>
<rect x="481.03" y="1552.85" width="60.97" height="3.73" fill="#3333ff"/>
<rect x="481.03" y="1556.18" width="60.97" height="7.06" fill="#6666ff"/>
<rect x="481.03" y="1562.83" width="60.97" height="13.71" fill="#3333ff"/>
<rect x="481.03" y="1576.14" width="60.97" height="3.73" fill="#0000ff"/>
<rect x="481.03" y="1579.47" width="60.97" height="3.73" fill="#1919ff"/>
<rect x="481.03" y="1582.80" width="60.97" height="3.73" fill="#4d4dff"/>
<rect x="481.03" y="1586.13" width="60.97" height="10.38" fill="#8080ff"/>
<rect x="481.03" y="1596.11" width="60.97" height="3.73" fill="#ffb2ff"/>
<rect x="481.03" y="1599.44" width="60.97" height="3.73" fill="#e6e6ff"/>
<rect x="481.03" y="1602.76" width="60.97" height="3.73" fill="#ccccff"/>
<rect x="481.03" y="1606.09" width="60.97" height="3.73" fill="#ffffff"/>
<rect x="481.03" y="1609.42" width="60.97" height="3.73" fill="#e6e6ff"/>
<rect x="481.03" y="1612.75" width="60.97" height="3.73" fill="#ffffff"/>
<rect x="481.03" y="1616.08" width="60.97" height="7.06" fill="#3333ff"/>
<rect x="481.03" y="1622.73" width="60.97" height="3.73" fill="#ccccff"/>
<rect x="481.03" y="1626.06" width="60.97" height="3.73" fill="#e6e6ff"/>
<rect x="481.03" y="1629.39" width="60.97" height="3.73" fill="#b2b2ff"/>
<rect x="481.03" y="1632.71" width="60.97" height="7.06" fill="#ccccff"/>
<rect x="481.03" y="1639.37" width="60.97" height="3.73" fill="#4d4dff"/>
<rect x="481.03" y="1642.70" width="60.97" height="13.71" fill="#8080ff"/>
<rect x="481.03" y="1656.01" width="60.97" height="3.73" fill="#ffffff"/>
<rect x="481.03" y="1659.34" width="60.97" height="3.73" fill="#ffccff"/>
<rect x="481.03" y="1662.66" width="60.97" height="3.73" fill="#ccccff"/>
<rect x="481.03" y="1665.99" width="60.97" height="3.73" fill="#4d4dff"/>
<rect x="481.03" y="1669.32" width="60.97" height="7.06" fill="#b2b2ff"/>
<rect x="481.03" y="1675.97" width="60.97" height="3.73" fill="#8080ff"/>
<rect x="481.03" y="1679.30" width="60.97" height="3.73" fill="#ccccff"/>
<rect x="481.03" y="1682.63" width="60.97" height="3.73" fill="#9999ff"/>
<rect x="481.03" y="1685.96" width="60.97" height="7.06" fill="#8080ff"/>
<rect x="481.03" y="1692.61" width="60.97" height="7.06" fill="#4d4dff"/>
<rect x="481.03" y="1699.27" width="60.97" height="3.73" fill="#8080ff"/>
<rect x="481.03" y="1702.60" width="60.97" height="3.73" fill="#b2b2ff"/>
<rect x="481.03" y="1705.92" width="60.97" height="3.73" fill="#e6e6ff"/>
<rect x="481.03" y="1709.25" width="60.97" height="3.73" fill="#b2b2ff"/>
<rect x="481.03" y="1712.58" width="60.97" height="3.73" fill="#ccccff"/>
<rect x="481.03" y="1715.91" width="60.97" height="7.06" fill="#b2b2ff"/>
<rect x="481.03" y="1722.56" width="60.97" height="3.73" fill="#6666ff"/>
<rect x="481.03" y="1725.89" width="60.97" height="3.73" fill="#b2b2ff"/>
<rect x="481.03" y="1729.22" width="60.97" height="10.38" fill="#8080ff"/>
<rect x="481.03" y="1739.20" width="60.97" height="3.73" fill="#6666ff"/>
<rect x="481.03" y="1742.53" width="60.97" height="7.06" fill="#8080ff"/>
<rect x="481.03" y="1749.18" width="60.97" height="3.73" fill="#3333ff"/>
<rect x="481.03" y="1752.51" width="60.97" height="3.73" fill="#ffffff"/>
<rect x="481.03" y="1755.84" width="60.97" height="7.06" fill="#ffe6ff"/>
<rect x="481.03" y="1762.50" width="60.97" height="3.73" fill="#ffffff"/>
<rect x="481.03" y="1765.82" width="60.97" height="3.73" fill="#e6e6ff"/>
<rect x="481.03" y="1769.15" width="60.97" height="10.38" fill="#b2b2ff"/>
<rect x="481.03" y="1779.13" width="60.97" height="3.73" fill="#ffffff"/>
<rect x="481.03" y="1782.46" width="60.97" height="3.73" fill="#b2b2ff"/>
<rect x="481.03" y="1785.79" width="60.97" height="3.73" fill="#ffffff"/>
<rect x="481.03" y="1789.12" width="60.97" height="3.73" fill="#ccccff"/>
<rect x="481.03" y="1792.45" width="60.97" height="3.73" fill="#9999ff"/>
<rect x="481.03" y="1795.77" width="60.97" height="7.06" fill="#b2b2ff"/>
<rect x="481.03" y="1802.43" width="60.97" height="3.73" fill="#9999ff"/>
<rect x="481.03" y="1805.76" width="60.97" height="3.73" fill="#6666ff"/>
<rect x="481.03" y="1809.08" width="60.97" height="3.73" fill="#e6e6ff"/>
<rect x="481.03" y="1812.41" width="60.97" height="3.73" fill="#ffffff"/>
<rect x="481.03" y="1815.74" width="60.97" height="3.73" fill="#8080ff"/>
<rect x="481.03" y="1819.07" width="60.97" height="3.73" fill="#9999ff"/>
<rect x="481.03" y="1822.39" width="60.97" height="3.73" fill="#e6e6ff"/>
<rect x="481.03" y="1825.72" width="60.97" height="3.73" fill="#b2b2ff"/>
<rect x="481.03" y="1829.05" width="60.97" height="3.73" fill="#6666ff"/>
<rect x="481.03" y="1832.38" width="60.97" height="7.06" fill="#4d4dff"/>
<rect x="481.03" y="1839.03" width="60.97" height="3.73" fill="#9999ff"/>
<rect x="481.03" y="1842.36" width="60.97" height="7.06" fill="#8080ff"/>
<rect x="481.03" y="1849.02" width="60.97" height="3.73" fill="#ccccff"/>
<rect x="481.03" y="1852.34" width="60.97" height="3.73" fill="#9999ff"/>
<rect x="481.03" y="1855.67" width="60.97" height="3.73" fill="#8080ff"/>
<rect x="541.60" y="1067.00" width="60.97" height="7.06" fill="#ff19ff"/>
<rect x="541.60" y="1073.66" width="60.97" height="7.06" fill="#ff00ff"/>
<rect x="541.60" y="1080.31" width="60.97" height="10.38" fill="#ff4dff"/>
<rect x="541.60" y="1090.29" width="60.97" height="30.35" fill="#ff66ff"/>
<rect x="541.60" y="1120.24" width="60.97" height="3.73" fill="#ff99ff"/>
<rect x="541.60" y="1123.57" width="60.97" height="3.73" fill="#ffb2ff"/>
<rect x="541.60" y="1126.90" width="60.97" height="3.73" fill="#ff66ff"/>
<rect x="541.60" y="1130.23" width="60.97" height="3.73" fill="#ffccff"/>
<rect x="541.60" y="1133.55" width="60.97" height="3.73" fill="#ffe6ff"/>
<rect x="541.60" y="1136.88" width="60.97" height="7.06" fill="#ffb2ff"/>
<rect x="541.60" y="1143.54" width="60.97" height="7.06" fill="#ff33ff"/>
<rect x="541.60" y="1150.19" width="60.97" height="3.73" fill="#ff66ff"/>
<rect x="541.60" y="1153.52" width="60.97" height="10.38" fill="#ffb2ff"/>
<rect x="541.60" y="1163.50" width="60.97" height="3.73" fill="#ff80ff"/>
<rect x="541.60" y="1166.83" width="60.97" height="10.38" fill="#ff99ff"/>
<rect x="541.60" y="1176.82" width="60.97" height="7.06" fill="#ffccff"/>
<rect x="541.60" y="1183.47" width="60.97" height="10.38" fill="#ff33ff"/>
<rect x="541.60" y="1193.45" width="60.97" height="7.06" fill="#ff19ff"/>
<rect x="541.60" y="1200.11" width="60.97" height="3.73" fill="#ff4dff"/>
<rect x="541.60" y="1203.44" width="60.97" height="3.73" fill="#ff33ff"/>
<rect x="541.60" y="1206.76" width="60.97" height="3.73" fill="#ffccff"/>
<rect x="541.60" y="1210.09" width="60.97" height="3.73" fill="#ffb2ff"/>
<rect x="541.60" y="1213.42" width="60.97" height="3.73" fill="#ffe6ff"/>
<rect x="541.60" y="1216.75" width="60.97" height="13.71" fill="#ff99ff"/>
<rect x="541.60" y="1230.06" width="60.97" height="3.73" fill="#ffccff"/>
<rect x="541.60" y="1233.39" width="60.97" height="3.73" fill="#ffb2ff"/>
<rect x="541.60" y="1236.71" width="60.97" height="7.06" fill="#ff99ff"/>
<rect x="541.60" y="1243.37" width="60.97" height="3.73" fill="#ff4dff"/>
<rect x="541.60" y="1246.70" width="60.97" height="3.73" fill="#ff80ff"/>
<rect x="541.60" y="1250.03" width="60.97" height="3.73" fill="#ff99ff"/>
<rect x="541.60" y="1253.35" width="60.97" height="3.73" fill="#ffb2ff"/>
<rect x="541.60" y="1256.68" width="60.97" height="17.04" fill="#ff33ff"/>
<rect x="541.60" y="1273.32" width="60.97" height="7.06" fill="#ff00ff"/>
<rect x="541.60" y="1279.97" width="60.97" height="7.06" fill="#ff66ff"/>
<rect x="541.60" y="1286.63" width="60.97" height="10.38" fill="#ff4dff"/>
<rect x="541.60" y="1296.61" width="60.97" height="10.38" fill="#ff80ff"/>
<rect x="541.60" y="1306.60" width="60.97" height="3.73" fill="#ffccff"/>
<rect x="541.60" y="1309.92" width="60.97" height="3.73" fill="#ff99ff"/>
<rect x="541.60" y="1313.25" width="60.97" height="3.73" fill="#ff80ff"/>
<rect x="541.60" y="1316.58" width="60.97" height="3.73" fill="#ff99ff"/>
<rect x="541.60" y="1319.91" width="60.97" height="23.69" fill="#ff4dff"/>
<rect x="541.60" y="1343.20" width="60.97" height="3.73" fill="#ff66ff"/>
<rect x="541.60" y="1346.53" width="60.97" height="3.73" fill="#ff99ff"/>
<rect x="541.60" y="1349.86" width="60.97" height="3.73" fill="#ffe6ff"/>
<rect x="541.60" y="1353.18" width="60.97" height="3.73" fill="#ffffff"/>
<rect x="541.60" y="1356.51" width="60.97" height="3.73" fill="#ffccff"/>
<rect x="541.60" y="1359.84" width="60.97" height="3.73" fill="#ff80ff"/>
<rect x="541.60" y="1363.17" width="60.97" height="7.06" fill="#ffccff"/>
<rect x="541.60" y="1369.82" width="60.97" height="7.06" fill="#e6e6ff"/>
<rect x="541.60" y="1376.48" width="60.97" height="7.06" fill="#ffe6ff"/>
<rect x="541.60" y="1383.13" width="60.97" height="7.06" fill="#ff80ff"/>
<rect x="541.60" y="1389.79" width="60.97" height="3.73" fill="#e6e6ff"/>
<rect x="541.60" y="1393.12" width="60.97" height="10.38" fill="#ffccff"/>
<rect x="541.60" y="1403.10" width="60.97" height="3.73" fill="#ffffff"/>
<rect x="541.60" y="1406.43" width="60.97" height="3.73" fill="#b2b2ff"/>
<rect x="541.60" y="1409.76" width="60.97" height="3.73" fill="#ccccff"/>
<rect x="541.60" y="1413.08" width="60.97" height="7.06" fill="#ffe6ff"/>
<rect x="541.60" y="1419.74" width="60.97" height="3.73" fill="#ccccff"/>
<rect x="541.60" y="1423.07" width="60.97" height="3.73" fill="#ff99ff"/>
<rect x="541.60" y="1426.39" width="60.97" height="10.38" fill="#ffb2ff"/>
<rect x="541.60" y="1436.38" width="60.97" height="3.73" fill="#ccccff"/>
<rect x="541.60" y="1439.71" width="60.97" height="3.73" fill="#ffffff"/>
<rect x="541.60" y="1443.03" width="60.97" height="3.73" fill="#b2b2ff"/>
<rect x="541.60" y="1446.36" width="60.97" height="3.73" fill="#ffccff"/>
<rect x="541.60" y="1449.69" width="60.97" height="3.73" fill="#ffffff"/>
<rect x="541.60" y="1453.02" width="60.97" height="3.73" fill="#ffccff"/>
<rect x="541.60" y="1456.34" width="60.97" height="3.73" fill="#ffffff"/>
<rect x="541.60" y="1459.67" width="60.97" height="7.06" fill="#ffccff"/>
<rect x="541.60" y="1466.33" width="60.97" height="3.73" fill="#ffb2ff"/>
<rect x="541.60" y="1469.66" width="60.97" height="3.73" fill="#ff99ff"/>
<rect x="541.60" y="1472.98" width="60.97" height="3.73" fill="#b2b2ff"/>
<rect x="541.60" y="1476.31" width="60.97" height="3.73" fill="#ccccff"/>
<rect x="541.60" y="1479.64" width="60.97" height="7.06" fill="#9999ff"/>
<rect x="541.60" y="1486.29" width="60.97" height="3.73" fill="#ccccff"/>
<rect x="541.60" y="1489.62" width="60.97" height="3.73" fill="#ffe6ff"/>
<rect x="541.60" y="1492.95" width="60.97" height="7.06" fill="#ffffff"/>
<rect x="541.60" y="1499.61" width="60.97" height="3.73" fill="#6666ff"/>
<rect x="541.60" y="1502.93" width="60.97" height="3.73" fill="#3333ff"/>
<rect x="541.60" y="1506.26" width="60.97" height="3.73" fill="#8080ff"/>
<rect x="541.60" y="1509.59" width="60.97" height="7.06" fill="#9999ff"/>
<rect x="541.60" y="1516.24" width="60.97" height="10.38" fill="#8080ff"/>
<rect x="541.60" y="1526.23" width="60.97" height="3.73" fill="#6666ff"/>
<rect x="541.60" y="1529.55" width="60.97" height="3.73" fill="#b2b2ff"/>
<rect x="541.60" y="1532.88" width="60.97" height="7.06" fill="#ffffff"/>
<rect x="541.60" y="1539.54" width="60.97" height="7.06" fill="#ffe6ff"/>
<rect x="541.60" y="1546.19" width="60.97" height="3.73" fill="#ffffff"/>
<rect x="541.60" y="1549.52" width="60.97" height="3.73" fill="#b2b2ff"/>
<rect x="541.60" y="1552.85" width="60.97" height="3.73" fill="#e6e6ff"/>
<rect x="541.60" y="1556.18" width="60.97" height="3.73" fill="#ccccff"/>
<rect x="541.60" y="1559.50" width="60.97" height="7.06" fill="#ffffff"/>
<rect x="541.60" y="1566.16" width="60.97" height="3.73" fill="#ffb2ff"/>
<rect x="541.60" y="1569.49" width="60.97" height="3.73" fill="#ffe6ff"/>
<rect x="541.60" y="1572.82" width="60.97" height="7.06" fill="#ff99ff"/>
<rect x="541.60" y="1579.47" width="60.97" height="3.73" fill="#ffe6ff"/>
<rect x="541.60" y="1582.80" width="60.97" height="7.06" fill="#9999ff"/>
<rect x="541.60" y="1589.45" width="60.97" height="7.06" fill="#8080ff"/>
<rect x="541.60" y="1596.11" width="60.97" height="7.06" fill="#4d4dff"/>
<rect x="541.60" y="1602.76" width="60.97" height="3.73" fill="#3333ff"/>
<rect x="541.60" y="1606.09" width="60.97" height="3.73" fill="#6666ff"/>
<rect x="541.60" y="1609.42" width="60.97" height="7.06" fill="#3333ff"/>
<rect x="541.60" y="1616.08" width="60.97" height="7.06" fill="#ffffff"/>
<rect x="541.60" y="1622.73" width="60.97" height="3.73" fill="#b2b2ff"/>
<rect x="541.60" y="1626.06" width="60.97" height="3.73" fill="#ffffff"/>
<rect x="541.60" y="1629.39" width="60.97" height="3.73" fill="#9999ff"/>
<rect x="541.60" y="1632.71" width="60.97" height="3.73" fill="#ccccff"/>
<rect x="541.60" y="1636.04" width="60.97" height="7.06" fill="#ffe6ff"/>
<rect x="541.60" y="1642.70" width="60.97" height="17.04" fill="#ffffff"/>
<rect x="541.60" y="1659.34" width="60.97" height="3.73" fill="#b2b2ff"/>
<rect x="541.60" y="1662.66" width="60.97" height="3.73" fill="#ffffff"/>
<rect x="541.60" y="1665.99" width="60.97" height="10.38" fill="#b2b2ff"/>
<rect x="541.60" y="1675.97" width="60.97" height="3.73" fill="#e6e6ff"/>
<rect x="541.60" y="1679.30" width="60.97" height="20.37" fill="#ffffff"/>
<rect x="541.60" y="1699.27" width="60.97" height="3.73" fill="#ffe6ff"/>
<rect x="541.60" y="1702.60" width="60.97" height="7.06" fill="#ccccff"/>
<rect x="541.60" y="1709.25" width="60.97" height="3.73" fill="#9999ff"/>
<rect x="541.60" y="1712.58" width="60.97" height="3.73" fill="#ccccff"/>
<rect x="541.60" y="1715.91" width="60.97" height="7.06" fill="#9999ff"/>
<rect x="541.60" y="1722.56" width="60.97" height="3.73" fill="#b2b2ff"/>
<rect x="541.60" y="1725.89" width="60.97" height="7.06" fill="#e6e6ff"/>
<rect x="541.60" y="1732.55" width="60.97" height="7.06" fill="#9999ff"/>
<rect x="541.60" y="1739.20" width="60.97" height="7.06" fill="#b2b2ff"/>
<rect x="541.60" y="1745.86" width="60.97" height="7.06" fill="#ccccff"/>
<rect x="541.60" y="1752.51" width="60.97" height="13.71" fill="#6666ff"/>
<rect x="541.60" y="1765.82" width="60.97" height="3.73" fill="#b2b2ff"/>
<rect x="541.60" y="1769.15" width="60.97" height="7.06" fill="#ccccff"/>
<rect x="541.60" y="1775.81" width="60.97" height="10.38" fill="#b2b2ff"/>
<rect x="541.60" y="1785.79" width="60.97" height="3.73" fill="#8080ff"/>
<rect x="541.60" y="1789.12" width="60.97" height="3.73" fill="#9999ff"/>
<rect x="541.60" y="1792.45" width="60.97" height="7.06" fill="#b2b2ff"/>
<rect x="541.60" y="1799.10" width="60.97" height="3.73" fill="#e6e6ff"/>
<rect x="541.60" y="1802.43" width="60.97" height="3.73" fill="#b2b2ff"/>
<rect x="541.60" y="1805.76" width="60.97" height="3.73" fill="#1919ff"/>
<rect x="541.60" y="1809.08" width="60.97" height="3.73" fill="#0000ff"/>
<rect x="541.60" y="1812.41" width="60.97" height="3.73" fill="#3333ff"/>
<rect x="541.60" y="1815.74" width="60.97" height="3.73" fill="#8080ff"/>
<rect x="541.60" y="1819.07" width="60.97" height="7.06" fill="#4d4dff"/>
<rect x="541.60" y="1825.72" width="60.97" height="3.73" fill="#8080ff"/>
<rect x="541.60" y="1829.05" width="60.97" height="7.06" fill="#ccccff"/>
<rect x="541.60" y="1835.71" width="60.97" height="7.06" fill="#b2b2ff"/>
<rect x="541.60" y="1842.36" width="60.97" height="3.73" fill="#ffffff"/>
<rect x="541.60" y="1845.69" width="60.97" height="7.06" fill="#4d4dff"/>
<rect x="541.60" y="1852.34" width="60.97" height="7.06" fill="#9999ff"/>
<rect x="602.17" y="1067.00" width="60.97" height="3.73" fill="#ffb2ff"/>
<rect x="602.17" y="1070.33" width="60.97" height="10.38" fill="#ffe6ff"/>
<rect x="602.17" y="1080.31" width="60.97" height="3.73" fill="#e6e6ff"/>
<rect x="602.17" y="1083.64" width="60.97" height="3.73" fill="#ffffff"/>
<rect x="602.17" y="1086.97" width="60.97" height="3.73" fill="#e6e6ff"/>
<rect x="602.17" y="1090.29" width="60.97" height="23.69" fill="#ff66ff"/>
<rect x="602.17" y="1113.59" width="60.97" height="7.06" fill="#ffffff"/>
<rect x="602.17" y="1120.24" width="60.97" height="3.73" fill="#ffb2ff"/>
<rect x="602.17" y="1123.57" width="60.97" height="3.73" fill="#ff80ff"/>
<rect x="602.17" y="1126.90" width="60.97" height="7.06" fill="#ff99ff"/>
<rect x="602.17" y="1133.55" width="60.97" height="3.73" fill="#ff66ff"/>
<rect x="602.17" y="1136.88" width="60.97" height="3.73" fill="#ffffff"/>
<rect x="602.17" y="1140.21" width="60.97" height="10.38" fill="#ffccff"/>
<rect x="602.17" y="1150.19" width="60.97" height="10.38" fill="#ff99ff"/>
<rect x="602.17" y="1160.18" width="60.97" height="3.73" fill="#ff66ff"/>
<rect x="602.17" y="1163.50" width="60.97" height="3.73" fill="#ffccff"/>
<rect x="602.17" y="1166.83" width="60.97" height="3.73" fill="#ffffff"/>
<rect x="602.17" y="1170.16" width="60.97" height="7.06" fill="#ffccff"/>
<rect x="602.17" y="1176.82" width="60.97" height="3.73" fill="#ffffff"/>
<rect x="602.17" y="1180.14" width="60.97" height="3.73" fill="#ff99ff"/>
<rect x="602.17" y="1183.47" width="60.97" height="3.73" fill="#ffe6ff"/>
<rect x="602.17" y="1186.80" width="60.97" height="10.38" fill="#ffffff"/>
<rect x="602.17" y="1196.78" width="60.97" height="3.73" fill="#e6e6ff"/>
<rect x="602.17" y="1200.11" width="60.97" height="3.73" fill="#ffffff"/>
<rect x="602.17" y="1203.44" width="60.97" height="3.73" fill="#ccccff"/>
<rect x="602.17" y="1206.76" width="60.97" height="10.38" fill="#ff99ff"/>
<rect x="602.17" y="1216.75" width="60.97" height="3.73" fill="#ffccff"/>
<rect x="602.17" y="1220.08" width="60.97" height="10.38" fill="#ff99ff"/>
<rect x="602.17" y="1230.06" width="60.97" height="10.38" fill="#ff80ff"/>
<rect x="602.17" y="1240.04" width="60.97" height="3.73" fill="#ffccff"/>
<rect x="602.17" y="1243.37" width="60.97" height="3.73" fill="#ff99ff"/>
<rect x="602.17" y="1246.70" width="60.97" height="3.73" fill="#ff66ff"/>
<rect x="602.17" y="1250.03" width="60.97" height="3.73" fill="#ff99ff"/>
<rect x="602.17" y="1253.35" width="60.97" height="3.73" fill="#ffb2ff"/>
<rect x="602.17" y="1256.68" width="60.97" height="10.38" fill="#ffccff"/>
<rect x="602.17" y="1266.66" width="60.97" height="3.73" fill="#ffe6ff"/>
<rect x="602.17" y="1269.99" width="60.97" height="7.06" fill="#ccccff"/>
<rect x="602.17" y="1276.65" width="60.97" height="3.73" fill="#ffffff"/>
<rect x="602.17" y="1279.97" width="60.97" height="3.73" fill="#e6e6ff"/>
<rect x="602.17" y="1283.30" width="60.97" height="3.73" fill="#ffffff"/>
<rect x="602.17" y="1286.63" width="60.97" height="7.06" fill="#ccccff"/>
<rect x="602.17" y="1293.29" width="60.97" height="7.06" fill="#e6e6ff"/>
<rect x="602.17" y="1299.94" width="60.97" height="3.73" fill="#9999ff"/>
<rect x="602.17" y="1303.27" width="60.97" height="3.73" fill="#e6e6ff"/>
<rect x="602.17" y="1306.60" width="60.97" height="10.38" fill="#ffccff"/>
<rect x="602.17" y="1316.58" width="60.97" height="10.38" fill="#e6e6ff"/>
<rect x="602.17" y="1326.56" width="60.97" height="3.73" fill="#ffe6ff"/>
<rect x="602.17" y="1329.89" width="60.97" height="10.38" fill="#e6e6ff"/>
<rect x="602.17" y="1339.87" width="60.97" height="3.73" fill="#ffffff"/>
<rect x="602.17" y="1343.20" width="60.97" height="3.73" fill="#ffb2ff"/>
<rect x="602.17" y="1346.53" width="60.97" height="3.73" fill="#ffe6ff"/>
<rect x="602.17" y="1349.86" width="60.97" height="3.73" fill="#ff99ff"/>
<rect x="602.17" y="1353.18" width="60.97" height="3.73" fill="#ff66ff"/>
<rect x="602.17" y="1356.51" width="60.97" height="3.73" fill="#ff33ff"/>
<rect x="602.17" y="1359.84" width="60.97" height="3.73" fill="#ff99ff"/>
<rect x="602.17" y="1363.17" width="60.97" height="3.73" fill="#ff4dff"/>
<rect x="602.17" y="1366.50" width="60.97" height="3.73" fill="#ff99ff"/>
<rect x="602.17" y="1369.82" width="60.97" height="3.73" fill="#ff66ff"/>
<rect x="602.17" y="1373.15" width="60.97" height="13.71" fill="#ff99ff"/>
<rect x="602.17" y="1386.46" width="60.97" height="3.73" fill="#ff80ff"/>
<rect x="602.17" y="1389.79" width="60.97" height="3.73" fill="#ffb2ff"/>
<rect x="602.17" y="1393.12" width="60.97" height="3.73" fill="#ccccff"/>
<rect x="602.17" y="1396.45" width="60.97" height="7.06" fill="#ff99ff"/>
<rect x="602.17" y="1403.10" width="60.97" height="3.73" fill="#ffccff"/>
<rect x="602.17" y="1406.43" width="60.97" height="3.73" fill="#ffffff"/>
<rect x="602.17" y="1409.76" width="60.97" height="3.73" fill="#ccccff"/>
<rect x="602.17" y="1413.08" width="60.97" height="3.73" fill="#ffccff"/>
<rect x="602.17" y="1416.41" width="60.97" height="3.73" fill="#ffb2ff"/>
<rect x="602.17" y="1419.74" width="60.97" height="3.73" fill="#ff66ff"/>
<rect x="602.17" y="1423.07" width="60.97" height="3.73" fill="#ff99ff"/>
<rect x="602.17" y="1426.39" width="60.97" height="3.73" fill="#ff66ff"/>
<rect x="602.17" y="1429.72" width="60.97" height="3.73" fill="#ffffff"/>
<rect x="602.17" y="1433.05" width="60.97" height="7.06" fill="#ffe6ff"/>
<rect x="602.17" y="1439.71" width="60.97" height="7.06" fill="#ff99ff"/>
<rect x="602.17" y="1446.36" width="60.97" height="3.73" fill="#ffe6ff"/>
<rect x="602.17" y="1449.69" width="60.97" height="3.73" fill="#ff99ff"/>
<rect x="602.17" y="1453.02" width="60.97" height="7.06" fill="#ff80ff"/>
<rect x="602.17" y="1459.67" width="60.97" height="3.73" fill="#ffe6ff"/>
<rect x="602.17" y="1463.00" width="60.97" height="10.38" fill="#ffffff"/>
<rect x="602.17" y="1472.98" width="60.97" height="3.73" fill="#ff00ff"/>
<rect x="602.17" y="1476.31" width="60.97" height="3.73" fill="#ff4dff"/>
<rect x="602.17" y="1479.64" width="60.97" height="10.38" fill="#ff66ff"/>
<rect x="602.17" y="1489.62" width="60.97" height="3.73" fill="#ff33ff"/>
<rect x="602.17" y="1492.95" width="60.97" height="3.73" fill="#ff19ff"/>
<rect x="602.17" y="1496.28" width="60.97" height="3.73" fill="#ff33ff"/>
<rect x="602.17" y="1499.61" width="60.97" height="3.73" fill="#3333ff"/>
<rect x="602.17" y="1502.93" width="60.97" height="3.73" fill="#4d4dff"/>
<rect x="602.17" y="1506.26" width="60.97" height="3.73" fill="#e6e6ff"/>
<rect x="602.17" y="1509.59" width="60.97" height="13.71" fill="#ccccff"/>
<rect x="602.17" y="1522.90" width="60.97" height="3.73" fill="#6666ff"/>
<rect x="602.17" y="1526.23" width="60.97" height="13.71" fill="#9999ff"/>
<rect x="602.17" y="1539.54" width="60.97" height="13.71" fill="#ffe6ff"/>
<rect x="602.17" y="1552.85" width="60.97" height="3.73" fill="#e6e6ff"/>
<rect x="602.17" y="1556.18" width="60.97" height="3.73" fill="#ccccff"/>
<rect x="602.17" y="1559.50" width="60.97" height="3.73" fill="#e6e6ff"/>
<rect x="602.17" y="1562.83" width="60.97" height="3.73" fill="#ccccff"/>
<rect x="602.17" y="1566.16" width="60.97" height="3.73" fill="#9999ff"/>
<rect x="602.17" y="1569.49" width="60.97" height="3.73" fill="#ccccff"/>
<rect x="602.17" y="1572.82" width="60.97" height="3.73" fill="#8080ff"/>
<rect x="602.17" y="1576.14" width="60.97" height="3.73" fill="#ffffff"/>
<rect x="602.17" y="1579.47" width="60.97" height="3.73" fill="#b2b2ff"/>
<rect x="602.17" y="1582.80" width="60.97" height="7.06" fill="#ffb2ff"/>
<rect x="602.17" y="1589.45" width="60.97" height="7.06" fill="#ff99ff"/>
<rect x="602.17" y="1596.11" width="60.97" height="3.73" fill="#e6e6ff"/>
<rect x="602.17" y="1599.44" width="60.97" height="3.73" fill="#ffffff"/>
<rect x="602.17" y="1602.76" width="60.97" height="10.38" fill="#ffccff"/>
<rect x="602.17" y="1612.75" width="60.97" height="3.73" fill="#e6e6ff"/>
<rect x="602.17" y="1616.08" width="60.97" height="3.73" fill="#9999ff"/>
<rect x="602.17" y="1619.40" width="60.97" height="3.73" fill="#ffffff"/>
<rect x="602.17" y="1622.73" width="60.97" height="7.06" fill="#8080ff"/>
<rect x="602.17" y="1629.39" width="60.97" height="3.73" fill="#b2b2ff"/>
<rect x="602.17" y="1632.71" width="60.97" height="7.06" fill="#8080ff"/>
<rect x="602.17" y="1639.37" width="60.97" height="3.73" fill="#b2b2ff"/>
<rect x="602.17" y="1642.70" width="60.97" height="3.73" fill="#8080ff"/>
<rect x="602.17" y="1646.03" width="60.97" height="3.73" fill="#b2b2ff"/>
<rect x="602.17" y="1649.35" width="60.97" height="3.73" fill="#6666ff"/>
<rect x="602.17" y="1652.68" width="60.97" height="3.73" fill="#4d4dff"/>
<rect x="602.17" y="1656.01" width="60.97" height="3.73" fill="#0000ff"/>
<rect x="602.17" y="1659.34" width="60.97" height="3.73" fill="#9999ff"/>
<rect x="602.17" y="1662.66" width="60.97" height="3.73" fill="#4d4dff"/>
<rect x="602.17" y="1665.99" width="60.97" height="3.73" fill="#e6e6ff"/>
<rect x="602.17" y="1669.32" width="60.97" height="3.73" fill="#ccccff"/>
<rect x="602.17" y="1672.65" width="60.97" height="3.73" fill="#9999ff"/>
<rect x="602.17" y="1675.97" width="60.97" height="7.06" fill="#ccccff"/>
<rect x="602.17" y="1682.63" width="60.97" height="3.73" fill="#ffffff"/>
<rect x="602.17" y="1685.96" width="60.97" height="7.06" fill="#ffe6ff"/>
<rect x="602.17" y="1692.61" width="60.97" height="3.73" fill="#ccccff"/>
<rect x="602.17" y="1695.94" width="60.97" height="3.73" fill="#9999ff"/>
<rect x="602.17" y="1699.27" width="60.97" height="3.73" fill="#8080ff"/>
<rect x="602.17" y="1702.60" width="60.97" height="3.73" fill="#b2b2ff"/>
<rect x="602.17" y="1705.92" width="60.97" height="3.73" fill="#8080ff"/>
<rect x="602.17" y="1709.25" width="60.97" height="7.06" fill="#ffffff"/>
<rect x="602.17" y="1715.91" width="60.97" height="3.73" fill="#e6e6ff"/>
<rect x="602.17" y="1719.24" width="60.97" height="3.73" fill="#9999ff"/>
<rect x="602.17" y="1722.56" width="60.97" height="7.06" fill="#ccccff"/>
<rect x="602.17" y="1729.22" width="60.97" height="3.73" fill="#6666ff"/>
<rect x="602.17" y="1732.55" width="60.97" height="3.73" fill="#9999ff"/>
<rect x="602.17" y="1735.87" width="60.97" height="3.73" fill="#ffffff"/>
<rect x="602.17" y="1739.20" width="60.97" height="3.73" fill="#ccccff"/>
<rect x="602.17" y="1742.53" width="60.97" height="3.73" fill="#8080ff"/>
<rect x="602.17" y="1745.86" width="60.97" height="3.73" fill="#9999ff"/>
<rect x="602.17" y="1749.18" width="60.97" height="17.04" fill="#b2b2ff"/>
<rect x="602.17" y="1765.82" width="60.97" height="3.73" fill="#4d4dff"/>
<rect x="602.17" y="1769.15" width="60.97" height="3.73" fill="#ccccff"/>
<rect x="602.17" y="1772.48" width="60.97" height="3.73" fill="#e6e6ff"/>
<rect x="602.17" y="1775.81" width="60.97" height="3.73" fill="#ffffff"/>
<rect x="602.17" y="1779.13" width="60.97" height="7.06" fill="#ccccff"/>
<rect x="602.17" y="1785.79" width="60.97" height="7.06" fill="#e6e6ff"/>
<rect x="602.17" y="1792.45" width="60.97" height="3.73" fill="#9999ff"/>
<rect x="602.17" y="1795.77" width="60.97" height="3.73" fill="#ffffff"/>
<rect x="602.17" y="1799.10" width="60.97" height="3.73" fill="#ccccff"/>
<rect x="602.17" y="1802.43" width="60.97" height="10.38" fill="#ffccff"/>
<rect x="602.17" y="1812.41" width="60.97" height="7.06" fill="#e6e6ff"/>
<rect x="602.17" y="1819.07" width="60.97" height="3.73" fill="#ffffff"/>
<rect x="602.17" y="1822.39" width="60.97" height="3.73" fill="#9999ff"/>
<rect x="602.17" y="1825.72" width="60.97" height="7.06" fill="#ccccff"/>
<rect x="602.17" y="1832.38" width="60.97" height="3.73" fill="#6666ff"/>
<rect x="602.17" y="1835.71" width="60.97" height="3.73" fill="#b2b2ff"/>
<rect x="602.17" y="1839.03" width="60.97" height="10.38" fill="#9999ff"/>
<rect x="602.17" y="1849.02" width="60.97" height="3.73" fill="#4d4dff"/>
<rect x="602.17" y="1852.34" width="60.97" height="7.06" fill="#ccccff"/>
<rect x="662.73" y="1067.00" width="60.97" height="3.73" fill="#ffffff"/>
<rect x="662.73" y="1070.33" width="60.97" height="10.38" fill="#ffe6ff"/>
<rect x="662.73" y="1080.31" width="60.97" height="7.06" fill="#e6e6ff"/>
<rect x="662.73" y="1086.97" width="60.97" height="10.38" fill="#ffe6ff"/>
<rect x="662.73" y="1096.95" width="60.97" height="3.73" fill="#b2b2ff"/>
<rect x="662.73" y="1100.28" width="60.97" height="3.73" fill="#ffffff"/>
<rect x="662.73" y="1103.61" width="60.97" height="10.38" fill="#ffe6ff"/>
<rect x="662.73" y="1113.59" width="60.97" height="10.38" fill="#ffffff"/>
<rect x="662.73" y="1123.57" width="60.97" height="7.06" fill="#ff99ff"/>
<rect x="662.73" y="1130.23" width="60.97" height="7.06" fill="#ff80ff"/>
<rect x="662.73" y="1136.88" width="60.97" height="7.06" fill="#ff99ff"/>
<rect x="662.73" y="1143.54" width="60.97" height="10.38" fill="#ffffff"/>
<rect x="662.73" y="1153.52" width="60.97" height="10.38" fill="#ffb2ff"/>
<rect x="662.73" y="1163.50" width="60.97" height="7.06" fill="#ffccff"/>
<rect x="662.73" y="1170.16" width="60.97" height="3.73" fill="#ff99ff"/>
<rect x="662.73" y="1173.49" width="60.97" height="10.38" fill="#ff80ff"/>
<rect x="662.73" y="1183.47" width="60.97" height="3.73" fill="#ffccff"/>
<rect x="662.73" y="1186.80" width="60.97" height="13.71" fill="#ffe6ff"/>
<rect x="662.73" y="1200.11" width="60.97" height="3.73" fill="#e6e6ff"/>
<rect x="662.73" y="1203.44" width="60.97" height="3.73" fill="#ffffff"/>
<rect x="662.73" y="1206.76" width="60.97" height="3.73" fill="#ffb2ff"/>
<rect x="662.73" y="1210.09" width="60.97" height="7.06" fill="#ffccff"/>
<rect x="662.73" y="1216.75" width="60.97" height="10.38" fill="#ff80ff"/>
<rect x="662.73" y="1226.73" width="60.97" height="7.06" fill="#ff66ff"/>
<rect x="662.73" y="1233.39" width="60.97" height="7.06" fill="#ffb2ff"/>
<rect x="662.73" y="1240.04" width="60.97" height="3.73" fill="#ffe6ff"/>
<rect x="662.73" y="1243.37" width="60.97" height="3.73" fill="#ffccff"/>
<rect x="662.73" y="1246.70" width="60.97" height="3.73" fill="#ffffff"/>
<rect x="662.73" y="1250.03" width="60.97" height="7.06" fill="#ff80ff"/>
<rect x="662.73" y="1256.68" width="60.97" height="10.38" fill="#ffccff"/>
<rect x="662.73" y="1266.66" width="60.97" height="3.73" fill="#ffb2ff"/>
<rect x="662.73" y="1269.99" width="60.97" height="10.38" fill="#ffccff"/>
<rect x="662.73" y="1279.97" width="60.97" height="17.04" fill="#ff4dff"/>
<rect x="662.73" y="1296.61" width="60.97" height="13.71" fill="#ff80ff"/>
<rect x="662.73" y="1309.92" width="60.97" height="7.06" fill="#ff4dff"/>
<rect x="662.73" y="1316.58" width="60.97" height="7.06" fill="#ff33ff"/>
<rect x="662.73" y="1323.24" width="60.97" height="27.02" fill="#ff4dff"/>
<rect x="662.73" y="1349.86" width="60.97" height="7.06" fill="#ff33ff"/>
<rect x="662.73" y="1356.51" width="60.97" height="3.73" fill="#ff80ff"/>
<rect x="662.73" y="1359.84" width="60.97" height="10.38" fill="#ffccff"/>
<rect x="662.73" y="1369.82" width="60.97" height="7.06" fill="#ffb2ff"/>
<rect x="662.73" y="1376.48" width="60.97" height="3.73" fill="#b2b2ff"/>
<rect x="662.73" y="1379.81" width="60.97" height="3.73" fill="#ffccff"/>
<rect x="662.73" y="1383.13" width="60.97" height="7.06" fill="#ffffff"/>
<rect x="662.73" y="1389.79" width="60.97" height="7.06" fill="#ffe6ff"/>
<rect x="662.73" y="1396.45" width="60.97" height="7.06" fill="#ff99ff"/>
<rect x="662.73" y="1403.10" width="60.97" height="3.73" fill="#ff66ff"/>
<rect x="662.73" y="1406.43" width="60.97" height="3.73" fill="#ff19ff"/>
<rect x="662.73" y="1409.76" width="60.97" height="3.73" fill="#ff4dff"/>
<rect x="662.73" y="1413.08" width="60.97" height="7.06" fill="#ff66ff"/>
<rect x="662.73" y="1419.74" width="60.97" height="10.38" fill="#ff80ff"/>
<rect x="662.73" y="1429.72" width="60.97" height="7.06" fill="#ff33ff"/>
<rect x="662.73" y="1436.38" width="60.97" height="3.73" fill="#ff4dff"/>
<rect x="662.73" y="1439.71" width="60.97" height="7.06" fill="#ff99ff"/>
<rect x="662.73" y="1446.36" width="60.97" height="7.06" fill="#ff80ff"/>
<rect x="662.73" y="1453.02" width="60.97" height="3.73" fill="#ff99ff"/>
<rect x="662.73" y="1456.34" width="60.97" height="3.73" fill="#ff66ff"/>
<rect x="662.73" y="1459.67" width="60.97" height="7.06" fill="#ff33ff"/>
<rect x="662.73" y="1466.33" width="60.97" height="7.06" fill="#ff4dff"/>
<rect x="662.73" y="1472.98" width="60.97" height="3.73" fill="#ffe6ff"/>
<rect x="662.73" y="1476.31" width="60.97" height="3.73" fill="#ff80ff"/>
<rect x="662.73" y="1479.64" width="60.97" height="7.06" fill="#ff4dff"/>
<rect x="662.73" y="1486.29" width="60.97" height="3.73" fill="#ff99ff"/>
<rect x="662.73" y="1489.62" width="60.97" height="7.06" fill="#ffccff"/>
<rect x="662.73" y="1496.28" width="60.97" height="3.73" fill="#ffffff"/>
<rect x="662.73" y="1499.61" width="60.97" height="3.73" fill="#ffccff"/>
<rect x="662.73" y="1502.93" width="60.97" height="3.73" fill="#ffb2ff"/>
<rect x="662.73" y="1506.26" width="60.97" height="3.73" fill="#ccccff"/>
<rect x="662.73" y="1509.59" width="60.97" height="7.06" fill="#e6e6ff"/>
<rect x="662.73" y="1516.24" width="60.97" height="10.38" fill="#ccccff"/>
<rect x="662.73" y="1526.23" width="60.97" height="7.06" fill="#e6e6ff"/>
<rect x="662.73" y="1532.88" width="60.97" height="3.73" fill="#ccccff"/>
<rect x="662.73" y="1536.21" width="60.97" height="3.73" fill="#e6e6ff"/>
<rect x="662.73" y="1539.54" width="60.97" height="7.06" fill="#8080ff"/>
<rect x="662.73" y="1546.19" width="60.97" height="3.73" fill="#b2b2ff"/>
<rect x="662.73" y="1549.52" width="60.97" height="10.38" fill="#8080ff"/>
<rect x="662.73" y="1559.50" width="60.97" height="3.73" fill="#4d4dff"/>
<rect x="662.73" y="1562.83" width="60.97" height="13.71" fill="#b2b2ff"/>
<rect x="662.73" y="1576.14" width="60.97" height="7.06" fill="#9999ff"/>
<rect x="662.73" y="1582.80" width="60.97" height="3.73" fill="#8080ff"/>
<rect x="662.73" y="1586.13" width="60.97" height="3.73" fill="#4d4dff"/>
<rect x="662.73" y="1589.45" width="60.97" height="10.38" fill="#6666ff"/>
<rect x="662.73" y="1599.44" width="60.97" height="3.73" fill="#8080ff"/>
<rect x="662.73" y="1602.76" width="60.97" height="3.73" fill="#9999ff"/>
<rect x="662.73" y="1606.09" width="60.97" height="3.73" fill="#3333ff"/>
<rect x="662.73" y="1609.42" width="60.97" height="3.73" fill="#b2b2ff"/>
<rect x="662.73" y="1612.75" width="60.97" height="7.06" fill="#ccccff"/>
<rect x="662.73" y="1619.40" width="60.97" height="7.06" fill="#b2b2ff"/>
<rect x="662.73" y="1626.06" width="60.97" height="3.73" fill="#6666ff"/>
<rect x="662.73" y="1629.39" width="60.97" height="3.73" fill="#9999ff"/>
<rect x="662.73" y="1632.71" width="60.97" height="3.73" fill="#b2b2ff"/>
<rect x="662.73" y="1636.04" width="60.97" height="3.73" fill="#4d4dff"/>
<rect x="662.73" y="1639.37" width="60.97" height="3.73" fill="#9999ff"/>
<rect x="662.73" y="1642.70" width="60.97" height="7.06" fill="#6666ff"/>
<rect x="662.73" y="1649.35" width="60.97" height="3.73" fill="#e6e6ff"/>
<rect x="662.73" y="1652.68" width="60.97" height="7.06" fill="#ccccff"/>
<rect x="662.73" y="1659.34" width="60.97" height="3.73" fill="#8080ff"/>
<rect x="662.73" y="1662.66" width="60.97" height="7.06" fill="#b2b2ff"/>
<rect x="662.73" y="1669.32" width="60.97" height="7.06" fill="#9999ff"/>
<rect x="662.73" y="1675.97" width="60.97" height="3.73" fill="#6666ff"/>
<rect x="662.73" y="1679.30" width="60.97" height="3.73" fill="#1919ff"/>
<rect x="662.73" y="1682.63" width="60.97" height="3.73" fill="#0000ff"/>
<rect x="662.73" y="1685.96" width="60.97" height="7.06" fill="#3333ff"/>
<rect x="662.73" y="1692.61" width="60.97" height="3.73" fill="#8080ff"/>
<rect x="662.73" y="1695.94" width="60.97" height="10.38" fill="#9999ff"/>
<rect x="662.73" y="1705.92" width="60.97" height="10.38" fill="#4d4dff"/>
<rect x="662.73" y="1715.91" width="60.97" height="3.73" fill="#ccccff"/>
<rect x="662.73" y="1719.24" width="60.97" height="3.73" fill="#e6e6ff"/>
<rect x="662.73" y="1722.56" width="60.97" height="3.73" fill="#b2b2ff"/>
<rect x="662.73" y="1725.89" width="60.97" height="3.73" fill="#6666ff"/>
<rect x="662.73" y="1729.22" width="60.97" height="3.73" fill="#ccccff"/>
<rect x="662.73" y="1732.55" width="60.97" height="3.73" fill="#e6e6ff"/>
<rect x="662.73" y="1735.87" width="60.97" height="3.73" fill="#b2b2ff"/>
<rect x="662.73" y="1739.20" width="60.97" height="3.73" fill="#ccccff"/>
<rect x="662.73" y="1742.53" width="60.97" height="7.06" fill="#b2b2ff"/>
<rect x="662.73" y="1749.18" width="60.97" height="3.73" fill="#9999ff"/>
<rect x="662.73" y="1752.51" width="60.97" height="3.73" fill="#8080ff"/>
<rect x="662.73" y="1755.84" width="60.97" height="7.06" fill="#4d4dff"/>
<rect x="662.73" y="1762.50" width="60.97" height="7.06" fill="#8080ff"/>
<rect x="662.73" y="1769.15" width="60.97" height="7.06" fill="#4d4dff"/>
<rect x="662.73" y="1775.81" width="60.97" height="10.38" fill="#3333ff"/>
<rect x="662.73" y="1785.79" width="60.97" height="3.73" fill="#8080ff"/>
<rect x="662.73" y="1789.12" width="60.97" height="3.73" fill="#4d4dff"/>
<rect x="662.73" y="1792.45" width="60.97" height="13.71" fill="#6666ff"/>
<rect x="662.73" y="1805.76" width="60.97" height="3.73" fill="#ffffff"/>
<rect x="662.73" y="1809.08" width="60.97" height="3.73" fill="#b2b2ff"/>
<rect x="662.73" y="1812.41" width="60.97" height="3.73" fill="#ccccff"/>
<rect x="662.73" y="1815.74" width="60.97" height="7.06" fill="#e6e6ff"/>
<rect x="662.73" y="1822.39" width="60.97" height="7.06" fill="#9999ff"/>
<rect x="662.73" y="1829.05" width="60.97" height="3.73" fill="#ffffff"/>
<rect x="662.73" y="1832.38" width="60.97" height="7.06" fill="#ccccff"/>
<rect x="662.73" y="1839.03" width="60.97" height="3.73" fill="#9999ff"/>
<rect x="662.73" y="1842.36" width="60.97" height="3.73" fill="#8080ff"/>
<rect x="662.73" y="1845.69" width="60.97" height="3.73" fill="#ccccff"/>
<rect x="662.73" y="1849.02" width="60.97" height="3.73" fill="#ffe6ff"/>
<rect x="662.73" y="1852.34" width="60.97" height="3.73" fill="#8080ff"/>
<rect x="662.73" y="1855.67" width="60.97" height="3.73" fill="#b2b2ff"/>
</g>
<defs><linearGradient id="cg" x1="0" x2="1" y1="0" y2="0"><stop offset="0" stop-color="#0000ff"/><stop offset="0.5" stop-color="#ffffff"/><stop offset="1" stop-color="#ff00ff"/></linearGradient></defs>
<rect x="178.2" y="875.5" width="259.0" height="23.100000000000023" fill="url(#cg)"/>
<path d="M178.2 875.5H437.2" stroke="#555" stroke-width="0.8" fill="none"/>
<path d="M178.2 875.5V898.6" stroke="#222" stroke-width="0.8" fill="none"/>
<path d="M178.2 898.6H437.2V875.5" stroke="#000" stroke-width="1.3" fill="none"/>
<line x1="199.5" x2="199.5" y1="898.6" y2="906.8" stroke="#000" stroke-width="2.2"/>
<text transform="translate(198.2 937.4) scale(1 1)" font-size="26.8" text-anchor="middle" font-weight="normal" >-2</text>
<line x1="253.3" x2="253.3" y1="898.6" y2="906.8" stroke="#000" stroke-width="2.2"/>
<text transform="translate(253.2 937.4) scale(1 1)" font-size="26.8" text-anchor="middle" font-weight="normal" >-1</text>
<line x1="307.2" x2="307.2" y1="898.6" y2="906.8" stroke="#000" stroke-width="2.2"/>
<text transform="translate(308.3 937.4) scale(1 1)" font-size="26.8" text-anchor="middle" font-weight="bold" >0</text>
<line x1="361.3" x2="361.3" y1="898.6" y2="906.8" stroke="#000" stroke-width="2.2"/>
<text transform="translate(361.5 937.4) scale(1 1)" font-size="26.8" text-anchor="middle" font-weight="normal" >1</text>
<line x1="416.3" x2="416.3" y1="898.6" y2="906.8" stroke="#000" stroke-width="2.2"/>
<text transform="translate(419.3 937.4) scale(1 1)" font-size="26.8" text-anchor="middle" font-weight="normal" >2</text>
<rect x="174.2" y="1878.8" width="258.5" height="24.0" fill="url(#cg)"/>
<path d="M174.2 1878.8H432.7" stroke="#555" stroke-width="0.8" fill="none"/>
<path d="M174.2 1878.8V1902.8" stroke="#222" stroke-width="0.8" fill="none"/>
<path d="M174.2 1902.8H432.7V1878.8" stroke="#000" stroke-width="1.3" fill="none"/>
<line x1="195.2" x2="195.2" y1="1902.8" y2="1910.5" stroke="#000" stroke-width="2.2"/>
<text transform="translate(193.6 1940.1) scale(1 1)" font-size="26.8" text-anchor="middle" font-weight="normal" >-2</text>
<line x1="248.7" x2="248.7" y1="1902.8" y2="1910.5" stroke="#000" stroke-width="2.2"/>
<text transform="translate(248.1 1940.1) scale(1 1)" font-size="26.8" text-anchor="middle" font-weight="normal" >-1</text>
<line x1="303.4" x2="303.4" y1="1902.8" y2="1910.5" stroke="#000" stroke-width="2.2"/>
<text transform="translate(303.2 1940.1) scale(1 1)" font-size="26.8" text-anchor="middle" font-weight="bold" >0</text>
<line x1="357.6" x2="357.6" y1="1902.8" y2="1910.5" stroke="#000" stroke-width="2.2"/>
<text transform="translate(356.5 1940.1) scale(1 1)" font-size="26.8" text-anchor="middle" font-weight="normal" >1</text>
<line x1="411.9" x2="411.9" y1="1902.8" y2="1910.5" stroke="#000" stroke-width="2.2"/>
<text transform="translate(414.7 1940.1) scale(1 1)" font-size="26.8" text-anchor="middle" font-weight="normal" >2</text>
<rect x="1288.2" y="90.1" width="301.2" height="14.5" fill="#000"/>
<rect x="1288.2" y="130.5" width="240.1" height="12.4" fill="#000"/>
<rect x="1288.2" y="169.3" width="237.8" height="12.4" fill="#000"/>
<rect x="1288.2" y="207.6" width="224.4" height="12.4" fill="#000"/>
<rect x="1288.2" y="246.1" width="224.4" height="14.8" fill="#000"/>
<rect x="1288.2" y="284.4" width="222.0" height="14.8" fill="#000"/>
<rect x="1288.2" y="325" width="210.8" height="12.5" fill="#000"/>
<rect x="1288.2" y="363.6" width="194.8" height="12.4" fill="#000"/>
<rect x="1288.2" y="401.9" width="190.1" height="12.4" fill="#000"/>
<rect x="1288.2" y="440.2" width="188.0" height="14.8" fill="#000"/>
<rect x="1288.2" y="478.7" width="185.6" height="14.8" fill="#000"/>
<rect x="1288.2" y="519.5" width="185.6" height="12.5" fill="#000"/>
<rect x="1288.2" y="558" width="179.0" height="12.5" fill="#000"/>
<rect x="1288.2" y="596.3" width="176.7" height="12.5" fill="#000"/>
<rect x="1288.2" y="634.6" width="169.9" height="14.8" fill="#000"/>
<rect x="1288.2" y="673.2" width="156.3" height="14.8" fill="#000"/>
<rect x="1288.2" y="713.8" width="153.9" height="12.5" fill="#000"/>
<rect x="1288.2" y="752.1" width="153.9" height="12.7" fill="#000"/>
<rect x="1288.2" y="790.7" width="149.4" height="12.4" fill="#000"/>
<rect x="1288.2" y="829" width="149.4" height="14.8" fill="#000"/>
<rect x="1288.2" y="867.3" width="147.1" height="15.0" fill="#000"/>
<rect x="1288.2" y="908.2" width="140.3" height="12.4" fill="#000"/>
<rect x="1284.4" y="73.1" width="3.7" height="861.1" fill="#a6a6a6"/>
<rect x="1284.4" y="73.1" width="358.3" height="3.4" fill="#000"/>
<rect x="1284.3" y="62.3" width="3.2" height="11.8" fill="#000"/>
<text transform="translate(1284.9 55.5) scale(1 1)" font-size="29" text-anchor="middle" font-weight="normal" >0</text>
<rect x="1354.0" y="62.3" width="3.2" height="11.8" fill="#000"/>
<text transform="translate(1353 55.5) scale(1 1)" font-size="29" text-anchor="middle" font-weight="normal" >1</text>
<rect x="1425.9" y="62.3" width="3.2" height="11.8" fill="#000"/>
<text transform="translate(1424.5 55.5) scale(1 1)" font-size="29" text-anchor="middle" font-weight="normal" >2</text>
<rect x="1496.9" y="62.3" width="3.2" height="11.8" fill="#000"/>
<text transform="translate(1495 55.5) scale(1 1)" font-size="29" text-anchor="middle" font-weight="normal" >3</text>
<rect x="1569.0" y="62.3" width="3.2" height="11.8" fill="#000"/>
<text transform="translate(1567.5 55.5) scale(1 1)" font-size="29" text-anchor="middle" font-weight="normal" >4</text>
<rect x="1639.5" y="62.3" width="3.2" height="11.8" fill="#000"/>
<text transform="translate(1638.7 55.5) scale(1 1)" font-size="29" text-anchor="middle" font-weight="normal" >5</text>
<text transform="translate(1458.5 21.6) scale(1 1)" font-size="27.6" text-anchor="middle">-log(<tspan font-style="italic">P</tspan>-value)</text>
<text transform="translate(1273.6 104.0) scale(1 1)" font-size="27.7" text-anchor="end" font-weight="normal" >EIF2 signaling</text>
<text transform="translate(1273.6 143.4) scale(1 1)" font-size="27.7" text-anchor="end" font-weight="normal" >Nitric oxide signaling</text>
<text transform="translate(1273.6 182.2) scale(1 1)" font-size="27.7" text-anchor="end" font-weight="normal" >NOS3 signaling</text>
<text transform="translate(1273.6 220.5) scale(1 1)" font-size="27.7" text-anchor="end" font-weight="normal" >Apelin adipocyte signaling pathway</text>
<text transform="translate(1273.6 260.2) scale(1 1)" font-size="27.7" text-anchor="end" font-weight="normal" >Hypoxia signaling</text>
<text transform="translate(1273.6 298.5) scale(1 1)" font-size="27.7" text-anchor="end" font-weight="normal" >Cholesterol biosynthesis</text>
<text transform="translate(1273.6 337.9) scale(1 1)" font-size="27.7" text-anchor="end" font-weight="normal" >Androgen signaling</text>
<text transform="translate(1273.6 376.5) scale(1 1)" font-size="27.7" text-anchor="end" font-weight="normal" >CREB signaling</text>
<text transform="translate(1273.6 414.8) scale(1 1)" font-size="27.7" text-anchor="end" font-weight="normal" >Protein ubiquitination pathway</text>
<text transform="translate(1273.6 454.3) scale(1 1)" font-size="27.7" text-anchor="end" font-weight="normal" >Mevalonate pathway I</text>
<text transform="translate(1273.6 492.8) scale(1 1)" font-size="27.7" text-anchor="end" font-weight="normal" >IL-22 signaling</text>
<text transform="translate(1273.6 532.5) scale(1 1)" font-size="27.7" text-anchor="end" font-weight="normal" >G beta gamma signaling</text>
<text transform="translate(1273.6 571.0) scale(1 1)" font-size="27.7" text-anchor="end" font-weight="normal" >Geranylgeranyldiphosphate biosynthesis I</text>
<text transform="translate(1273.6 609.2) scale(1 1)" font-size="27.7" text-anchor="end" font-weight="normal" >Endocannabinoid cancer inhibition pathway</text>
<text transform="translate(1273.6 648.7) scale(1 1)" font-size="27.7" text-anchor="end" font-weight="normal" >Sertoli cell-stertoli cell junction signaling</text>
<text transform="translate(1273.6 687.3) scale(1 1)" font-size="27.7" text-anchor="end" font-weight="normal" >Corticotropin releasing hormone signaling</text>
<text transform="translate(1273.6 726.8) scale(1 1)" font-size="27.7" text-anchor="end" font-weight="normal" >Inhibition of angiogenesis by TSP1</text>
<text transform="translate(1273.6 765.2) scale(1 1)" font-size="27.7" text-anchor="end" font-weight="normal" >Apelin endothelial signaling pathway</text>
<text transform="translate(1273.6 803.6) scale(1 1)" font-size="27.7" text-anchor="end" font-weight="normal" >Adrenomedullin signaling pathway</text>
<text transform="translate(1273.6 843.1) scale(1 1)" font-size="27.7" text-anchor="end" font-weight="normal" >Citrulline metabolism</text>
<text transform="translate(1273.6 881.5) scale(1 1)" font-size="27.7" text-anchor="end" font-weight="normal" >Glucocorticoid receptor signaling</text>
<text transform="translate(1273.6 921.1) scale(1 1)" font-size="27.7" text-anchor="end" font-weight="normal" >Sirtuin signaling pathway</text>
<rect x="1285.1" y="1128.6" width="303.4" height="21.4" fill="#000"/>
<rect x="1285.1" y="1187.1" width="240.9" height="20.0" fill="#000"/>
<rect x="1285.1" y="1245.9" width="221.9" height="20.0" fill="#000"/>
<rect x="1285.1" y="1302.8" width="220.0" height="21.8" fill="#000"/>
<rect x="1285.1" y="1361.3" width="212.5" height="19.9" fill="#000"/>
<rect x="1285.1" y="1420" width="176.5" height="20.0" fill="#000"/>
<rect x="1285.1" y="1478.7" width="170.6" height="20.3" fill="#000"/>
<rect x="1285.1" y="1535.7" width="170.6" height="20.0" fill="#000"/>
<rect x="1285.1" y="1594.5" width="168.8" height="19.9" fill="#000"/>
<rect x="1285.1" y="1653" width="168.8" height="20.0" fill="#000"/>
<rect x="1285.1" y="1709.8" width="163.1" height="21.9" fill="#000"/>
<rect x="1282.3" y="1101.5" width="2.8" height="654.2" fill="#a6a6a6"/>
<rect x="1282.3" y="1101.5" width="359.5" height="3.3" fill="#000"/>
<rect x="1282.4" y="1090.6" width="3.2" height="11.9" fill="#000"/>
<text transform="translate(1284.9 1082.6) scale(1 1)" font-size="29" text-anchor="middle" font-weight="normal" >0</text>
<rect x="1369.8" y="1090.6" width="3.2" height="11.9" fill="#000"/>
<text transform="translate(1372 1082.6) scale(1 1)" font-size="29" text-anchor="middle" font-weight="normal" >1</text>
<rect x="1459.8" y="1090.6" width="3.2" height="11.9" fill="#000"/>
<text transform="translate(1460.8 1082.6) scale(1 1)" font-size="29" text-anchor="middle" font-weight="normal" >2</text>
<rect x="1547.9" y="1090.6" width="3.2" height="11.9" fill="#000"/>
<text transform="translate(1549 1082.6) scale(1 1)" font-size="29" text-anchor="middle" font-weight="normal" >3</text>
<rect x="1638.4" y="1090.6" width="3.2" height="11.9" fill="#000"/>
<text transform="translate(1639.1 1082.6) scale(1 1)" font-size="29" text-anchor="middle" font-weight="normal" >4</text>
<text transform="translate(1459 1049.7) scale(1 1)" font-size="27.6" text-anchor="middle">-log(<tspan font-style="italic">P</tspan>-value)</text>
<text transform="translate(1274.5 1148.4) scale(1 1)" font-size="27.7" text-anchor="end" font-weight="normal" >Signaling by Rhofamily GTPases</text>
<text transform="translate(1273.4 1204.1) scale(1 1)" font-size="27.7" text-anchor="end" font-weight="normal" >ILK signaling</text>
<text transform="translate(1273.4 1262.9) scale(1 1)" font-size="27.7" text-anchor="end" font-weight="normal" >RhoA signaling</text>
<text transform="translate(1273.4 1320.7) scale(1 1)" font-size="27.7" text-anchor="end" font-weight="normal" >CXCR4 signaling</text>
<text transform="translate(1273.4 1378.2) scale(1 1)" font-size="27.7" text-anchor="end" font-weight="normal" >Phospholipase C signaling</text>
<text transform="translate(1273.4 1437.0) scale(1 1)" font-size="27.7" text-anchor="end" font-weight="normal" >Thrombin signaling</text>
<text transform="translate(1273.4 1495.8) scale(1 1)" font-size="27.7" text-anchor="end" font-weight="normal" >Cholecystokinin/gastrin-mediated signaling</text>
<text transform="translate(1273.4 1552.7) scale(1 1)" font-size="27.7" text-anchor="end" font-weight="normal" >Caveolar-mediated endocytosis signaling</text>
<text transform="translate(1273.4 1611.5) scale(1 1)" font-size="27.7" text-anchor="end" font-weight="normal" >RhoGDI signaling</text>
<text transform="translate(1273.4 1670.0) scale(1 1)" font-size="27.7" text-anchor="end" font-weight="normal" >Ephrin B signaling</text>
<text transform="translate(1273.4 1727.8) scale(1 1)" font-size="27.7" text-anchor="end" font-weight="normal" >IL-8 signaling</text>
<path d="M140.1 60.20H166.4M140.1 65.07H166.4M140.1 60.20V65.07M104.5 62.64H140.1M148.6 69.95H166.4M148.6 74.82H166.4M148.6 69.95V74.82M104.5 72.39H148.6M104.5 62.64V72.39M73.1 67.51H104.5M130.1 79.70H166.4M146.5 84.57H166.4M146.5 89.44H166.4M146.5 84.57V89.44M130.1 87.01H146.5M130.1 79.70V87.01M110.0 83.35H130.1M137.5 94.32H166.4M137.5 99.19H166.4M137.5 94.32V99.19M132.1 96.75H137.5M132.1 104.07H166.4M132.1 96.75V104.07M110.0 100.41H132.1M110.0 83.35V100.41M87.8 91.88H110.0M146.6 108.94H166.4M146.6 113.81H166.4M146.6 108.94V113.81M105.0 111.38H146.6M132.8 118.69H166.4M132.8 123.56H166.4M132.8 118.69V123.56M105.0 121.12H132.8M105.0 111.38V121.12M87.8 116.25H105.0M87.8 91.88V116.25M73.1 104.07H87.8M73.1 67.51V104.07M53.2 85.79H73.1M138.4 128.44H166.4M146.4 133.31H166.4M146.4 138.18H166.4M146.4 133.31V138.18M138.4 135.75H146.4M138.4 128.44V135.75M100.0 132.09H138.4M122.1 143.06H166.4M142.8 147.93H166.4M142.8 152.81H166.4M142.8 147.93V152.81M122.1 150.37H142.8M122.1 143.06V150.37M100.0 146.71H122.1M100.0 132.09V146.71M81.8 139.40H100.0M126.9 157.68H166.4M141.3 162.55H166.4M141.3 167.43H166.4M141.3 162.55V167.43M126.9 164.99H141.3M126.9 157.68V164.99M99.0 161.34H126.9M144.7 172.30H166.4M144.7 177.18H166.4M144.7 172.30V177.18M120.0 174.74H144.7M136.1 182.05H166.4M136.1 186.92H166.4M136.1 182.05V186.92M120.0 184.49H136.1M120.0 174.74V184.49M99.0 179.61H120.0M99.0 161.34V179.61M81.8 170.47H99.0M81.8 139.40V170.47M53.2 154.94H81.8M53.2 85.79V154.94M46.1 120.36H53.2M133.9 191.80H166.4M133.9 196.67H166.4M133.9 191.80V196.67M122.3 194.23H133.9M122.3 201.55H166.4M122.3 194.23V201.55M91.5 197.89H122.3M122.2 206.42H166.4M135.8 211.29H166.4M135.8 216.17H166.4M135.8 211.29V216.17M122.2 213.73H135.8M122.2 206.42V213.73M91.5 210.08H122.2M91.5 197.89V210.08M80.0 203.98H91.5M146.0 221.04H166.4M146.0 225.92H166.4M146.0 221.04V225.92M111.9 223.48H146.0M133.6 230.79H166.4M133.6 235.66H166.4M133.6 230.79V235.66M111.9 233.23H133.6M111.9 223.48V233.23M102.5 228.35H111.9M128.4 240.54H166.4M140.5 245.41H166.4M140.5 250.29H166.4M140.5 245.41V250.29M134.1 247.85H140.5M134.1 255.16H166.4M134.1 247.85V255.16M128.4 251.50H134.1M128.4 240.54V251.50M102.5 246.02H128.4M102.5 228.35V246.02M80.0 237.19H102.5M80.0 203.98V237.19M61.2 220.59H80.0M140.1 260.03H166.4M140.1 264.91H166.4M140.1 260.03V264.91M112.0 262.47H140.1M145.2 269.78H166.4M145.2 274.66H166.4M145.2 269.78V274.66M112.0 272.22H145.2M112.0 262.47V272.22M75.0 267.35H112.0M122.6 279.53H166.4M150.0 284.40H166.4M150.0 289.28H166.4M150.0 284.40V289.28M136.6 286.84H150.0M136.6 294.15H166.4M136.6 286.84V294.15M122.6 290.50H136.6M122.6 279.53V290.50M95.0 285.01H122.6M149.8 299.03H166.4M149.8 303.90H166.4M149.8 299.03V303.90M114.4 301.46H149.8M136.6 308.77H166.4M136.6 313.65H166.4M136.6 308.77V313.65M114.4 311.21H136.6M114.4 301.46V311.21M95.0 306.34H114.4M95.0 285.01V306.34M75.0 295.68H95.0M75.0 267.35V295.68M61.2 281.51H75.0M61.2 220.59V281.51M57.8 251.05H61.2M126.9 318.52H166.4M133.3 323.40H166.4M133.3 328.27H166.4M133.3 323.40V328.27M126.9 325.83H133.3M126.9 318.52V325.83M87.0 322.18H126.9M138.7 333.14H166.4M138.7 338.02H166.4M138.7 333.14V338.02M132.5 335.58H138.7M132.5 342.89H166.4M132.5 335.58V342.89M87.0 339.24H132.5M87.0 322.18V339.24M81.8 330.71H87.0M143.3 347.77H166.4M143.3 352.64H166.4M143.3 347.77V352.64M128.3 350.20H143.3M136.1 357.51H166.4M136.1 362.39H166.4M136.1 357.51V362.39M128.3 359.95H136.1M128.3 350.20V359.95M100.0 355.08H128.3M147.9 367.26H166.4M147.9 372.14H166.4M147.9 367.26V372.14M124.1 369.70H147.9M139.6 377.01H166.4M139.6 381.88H166.4M139.6 377.01V381.88M124.1 379.45H139.6M124.1 369.70V379.45M100.0 374.57H124.1M100.0 355.08V374.57M81.8 364.82H100.0M81.8 330.71V364.82M57.8 347.77H81.8M57.8 251.05V347.77M47.2 299.41H57.8M132.7 386.76H166.4M132.7 391.63H166.4M132.7 386.76V391.63M113.0 389.19H132.7M113.0 396.51H166.4M113.0 389.19V396.51M78.3 392.85H113.0M126.3 401.38H166.4M134.3 406.25H166.4M134.3 411.13H166.4M134.3 406.25V411.13M126.3 408.69H134.3M126.3 401.38V408.69M115.3 405.04H126.3M115.3 416.00H166.4M115.3 405.04V416.00M99.5 410.52H115.3M122.8 420.88H166.4M140.0 425.75H166.4M140.0 430.62H166.4M140.0 425.75V430.62M134.5 428.19H140.0M134.5 435.50H166.4M134.5 428.19V435.50M122.8 431.84H134.5M122.8 420.88V431.84M99.5 426.36H122.8M99.5 410.52V426.36M78.3 418.44H99.5M78.3 392.85V418.44M47.2 405.64H78.3M47.2 299.41V405.64M46.1 352.53H47.2M46.1 120.36V352.53M3.2 236.44H46.1M135.2 440.37H166.4M135.2 445.25H166.4M135.2 440.37V445.25M88.0 442.81H135.2M137.0 450.12H166.4M137.0 454.99H166.4M137.0 450.12V454.99M131.3 452.56H137.0M131.3 459.87H166.4M131.3 452.56V459.87M88.0 456.21H131.3M88.0 442.81V456.21M73.2 449.51H88.0M148.6 464.74H166.4M148.6 469.62H166.4M148.6 464.74V469.62M117.0 467.18H148.6M138.4 474.49H166.4M138.4 479.36H166.4M138.4 474.49V479.36M117.0 476.93H138.4M117.0 467.18V476.93M93.0 472.05H117.0M105.6 484.24H166.4M116.7 489.11H166.4M137.2 493.99H166.4M146.3 498.86H166.4M146.3 503.73H166.4M146.3 498.86V503.73M137.2 501.30H146.3M137.2 493.99V501.30M116.7 497.64H137.2M116.7 489.11V497.64M105.6 493.38H116.7M105.6 484.24V493.38M93.0 488.81H105.6M93.0 472.05V488.81M73.2 480.43H93.0M73.2 449.51V480.43M43.5 464.97H73.2M138.3 508.61H166.4M138.3 513.48H166.4M138.3 508.61V513.48M102.0 511.04H138.3M102.0 518.36H166.4M102.0 511.04V518.36M51.0 514.70H102.0M149.0 523.23H166.4M149.0 528.10H166.4M149.0 523.23V528.10M137.2 525.67H149.0M137.2 532.98H166.4M137.2 525.67V532.98M89.5 529.32H137.2M143.0 537.85H166.4M143.0 542.73H166.4M143.0 537.85V542.73M120.0 540.29H143.0M143.5 547.60H166.4M143.5 552.47H166.4M143.5 547.60V552.47M120.0 550.04H143.5M120.0 540.29V550.04M89.5 545.16H120.0M89.5 529.32V545.16M64.6 537.24H89.5M76.0 557.35H166.4M134.9 562.22H166.4M141.3 567.10H166.4M141.3 571.97H166.4M141.3 567.10V571.97M134.9 569.53H141.3M134.9 562.22V569.53M126.8 565.88H134.9M126.8 576.84H166.4M126.8 565.88V576.84M105.0 571.36H126.8M141.0 581.72H166.4M141.0 586.59H166.4M141.0 581.72V586.59M110.5 584.15H141.0M137.6 591.47H166.4M141.4 596.34H166.4M141.4 601.21H166.4M141.4 596.34V601.21M137.6 598.78H141.4M137.6 591.47V598.78M110.5 595.12H137.6M110.5 584.15V595.12M105.0 589.64H110.5M105.0 571.36V589.64M76.0 580.50H105.0M76.0 557.35V580.50M64.6 568.92H76.0M64.6 537.24V568.92M52.6 553.08H64.6M141.0 606.09H166.4M141.0 610.96H166.4M141.0 606.09V610.96M122.0 608.52H141.0M139.3 615.84H166.4M139.3 620.71H166.4M139.3 615.84V620.71M122.0 618.27H139.3M122.0 608.52V618.27M88.4 613.40H122.0M135.8 625.58H166.4M135.8 630.46H166.4M135.8 625.58V630.46M127.9 628.02H135.8M127.9 635.33H166.4M127.9 628.02V635.33M116.4 631.68H127.9M138.3 640.21H166.4M138.3 645.08H166.4M138.3 640.21V645.08M116.4 642.64H138.3M116.4 631.68V642.64M88.4 637.16H116.4M88.4 613.40V637.16M68.5 625.28H88.4M129.1 649.95H166.4M147.0 654.83H166.4M147.0 659.70H166.4M147.0 654.83V659.70M129.1 657.26H147.0M129.1 649.95V657.26M105.7 653.61H129.1M141.4 664.58H166.4M141.4 669.45H166.4M141.4 664.58V669.45M105.7 667.01H141.4M105.7 653.61V667.01M95.7 660.31H105.7M142.3 674.32H166.4M142.3 679.20H166.4M142.3 674.32V679.20M126.0 676.76H142.3M126.0 684.07H166.4M126.0 676.76V684.07M112.9 680.42H126.0M135.2 688.95H166.4M139.4 693.82H166.4M139.4 698.69H166.4M139.4 693.82V698.69M135.2 696.26H139.4M135.2 688.95V696.26M112.9 692.60H135.2M112.9 680.42V692.60M95.7 686.51H112.9M95.7 660.31V686.51M68.5 673.41H95.7M68.5 625.28V673.41M61.2 649.34H68.5M149.3 703.57H166.4M149.3 708.44H166.4M149.3 703.57V708.44M129.0 706.00H149.3M129.0 713.32H166.4M129.0 706.00V713.32M118.8 709.66H129.0M135.6 718.19H166.4M135.6 723.06H166.4M135.6 718.19V723.06M118.8 720.63H135.6M118.8 709.66V720.63M88.4 715.14H118.8M125.1 727.94H166.4M139.1 732.81H166.4M139.1 737.69H166.4M139.1 732.81V737.69M125.1 735.25H139.1M125.1 727.94V735.25M103.2 731.59H125.1M143.0 742.56H166.4M143.0 747.43H166.4M143.0 742.56V747.43M137.3 745.00H143.0M137.3 752.31H166.4M137.3 745.00V752.31M103.2 748.65H137.3M103.2 731.59V748.65M88.4 740.12H103.2M88.4 715.14V740.12M61.2 727.63H88.4M61.2 649.34V727.63M54.0 688.49H61.2M143.3 757.18H166.4M143.3 762.06H166.4M143.3 757.18V762.06M95.2 759.62H143.3M140.3 766.93H166.4M140.3 771.80H166.4M140.3 766.93V771.80M127.8 769.37H140.3M127.8 776.68H166.4M127.8 769.37V776.68M95.2 773.02H127.8M95.2 759.62V773.02M71.4 766.32H95.2M124.7 781.55H166.4M135.8 786.43H166.4M135.8 791.30H166.4M135.8 786.43V791.30M124.7 788.86H135.8M124.7 781.55V788.86M102.5 785.21H124.7M146.0 796.17H166.4M146.0 801.05H166.4M146.0 796.17V801.05M138.6 798.61H146.0M138.6 805.92H166.4M138.6 798.61V805.92M102.5 802.27H138.6M102.5 785.21V802.27M79.8 793.74H102.5M132.3 810.80H166.4M132.3 815.67H166.4M132.3 810.80V815.67M110.4 813.23H132.3M145.8 820.54H166.4M145.8 825.42H166.4M145.8 820.54V825.42M121.7 822.98H145.8M121.7 830.29H166.4M121.7 822.98V830.29M110.4 826.64H121.7M110.4 813.23V826.64M83.4 819.93H110.4M121.5 835.17H166.4M139.7 840.04H166.4M139.7 844.91H166.4M139.7 840.04V844.91M121.5 842.48H139.7M121.5 835.17V842.48M108.8 838.82H121.5M130.6 849.79H166.4M140.5 854.66H166.4M140.5 859.54H166.4M140.5 854.66V859.54M130.6 857.10H140.5M130.6 849.79V857.10M108.8 853.44H130.6M108.8 838.82V853.44M83.4 846.13H108.8M83.4 819.93V846.13M79.8 833.03H83.4M79.8 793.74V833.03M71.4 813.39H79.8M71.4 766.32V813.39M54.0 789.85H71.4M54.0 688.49V789.85M52.6 739.17H54.0M52.6 553.08V739.17M51.0 646.13H52.6M51.0 514.70V646.13M43.5 580.41H51.0M43.5 464.97V580.41M3.2 522.69H43.5M3.2 236.44V522.69" fill="none" stroke="#000" stroke-width="1.75" stroke-linecap="round" stroke-linejoin="round"/>
<path d="M138.6 1069.10H170.6M143.5 1072.44H170.6M143.5 1075.77H170.6M143.5 1072.44V1075.77M138.6 1074.10H143.5M138.6 1069.10V1074.10M103.4 1071.60H138.6M128.8 1079.11H170.6M137.8 1082.44H170.6M137.8 1085.78H170.6M137.8 1082.44V1085.78M128.8 1084.11H137.8M128.8 1079.11V1084.11M103.4 1081.61H128.8M103.4 1071.60V1081.61M69.2 1076.60H103.4M139.5 1089.11H170.6M139.5 1092.45H170.6M139.5 1089.11V1092.45M129.6 1090.78H139.5M129.6 1095.78H170.6M129.6 1090.78V1095.78M123.2 1093.28H129.6M123.2 1099.12H170.6M123.2 1093.28V1099.12M93.0 1096.20H123.2M143.2 1102.45H170.6M143.2 1105.79H170.6M143.2 1102.45V1105.79M126.1 1104.12H143.2M150.4 1109.12H170.6M150.4 1112.46H170.6M150.4 1109.12V1112.46M126.1 1110.79H150.4M126.1 1104.12V1110.79M93.0 1107.46H126.1M93.0 1096.20V1107.46M69.2 1101.83H93.0M69.2 1076.60V1101.83M63.4 1089.22H69.2M129.5 1115.80H170.6M135.2 1119.13H170.6M139.3 1122.47H170.6M139.3 1125.80H170.6M139.3 1122.47V1125.80M135.2 1124.13H139.3M135.2 1119.13V1124.13M129.5 1121.63H135.2M129.5 1115.80V1121.63M93.0 1118.71H129.5M127.8 1129.14H170.6M143.5 1132.47H170.6M143.5 1135.81H170.6M143.5 1132.47V1135.81M127.8 1134.14H143.5M127.8 1129.14V1134.14M93.0 1131.64H127.8M93.0 1118.71V1131.64M74.6 1125.18H93.0M147.8 1139.14H170.6M147.8 1142.48H170.6M147.8 1139.14V1142.48M129.7 1140.81H147.8M129.7 1145.81H170.6M129.7 1140.81V1145.81M107.7 1143.31H129.7M137.7 1149.15H170.6M137.7 1152.48H170.6M137.7 1149.15V1152.48M118.7 1150.82H137.7M147.1 1155.82H170.6M147.1 1159.16H170.6M147.1 1155.82V1159.16M118.7 1157.49H147.1M118.7 1150.82V1157.49M107.7 1154.15H118.7M107.7 1143.31V1154.15M74.6 1148.73H107.7M74.6 1125.18V1148.73M63.4 1136.95H74.6M63.4 1089.22V1136.95M56.3 1113.09H63.4M139.0 1162.49H170.6M144.5 1165.83H170.6M144.5 1169.16H170.6M144.5 1165.83V1169.16M139.0 1167.49H144.5M139.0 1162.49V1167.49M115.9 1164.99H139.0M123.8 1172.50H170.6M150.5 1175.83H170.6M150.5 1179.17H170.6M150.5 1175.83V1179.17M123.8 1177.50H150.5M123.8 1172.50V1177.50M115.9 1175.00H123.8M115.9 1164.99V1175.00M94.1 1170.00H115.9M121.5 1182.50H170.6M132.0 1185.84H170.6M145.4 1189.17H170.6M145.4 1192.51H170.6M145.4 1189.17V1192.51M132.0 1190.84H145.4M132.0 1185.84V1190.84M125.7 1188.34H132.0M125.7 1195.85H170.6M125.7 1188.34V1195.85M121.5 1192.09H125.7M121.5 1182.50V1192.09M113.8 1187.30H121.5M137.3 1199.18H170.6M137.3 1202.52H170.6M137.3 1199.18V1202.52M113.8 1200.85H137.3M113.8 1187.30V1200.85M94.1 1194.07H113.8M94.1 1170.00V1194.07M76.2 1182.03H94.1M142.8 1205.85H170.6M142.8 1209.19H170.6M142.8 1205.85V1209.19M126.6 1207.52H142.8M138.4 1212.52H170.6M138.4 1215.86H170.6M138.4 1212.52V1215.86M126.6 1214.19H138.4M126.6 1207.52V1214.19M99.7 1210.85H126.6M139.8 1219.19H170.6M139.8 1222.53H170.6M139.8 1219.19V1222.53M133.0 1220.86H139.8M133.0 1225.86H170.6M133.0 1220.86V1225.86M99.7 1223.36H133.0M99.7 1210.85V1223.36M84.4 1217.11H99.7M141.7 1229.20H170.6M141.7 1232.53H170.6M141.7 1229.20V1232.53M136.4 1230.87H141.7M136.4 1235.87H170.6M136.4 1230.87V1235.87M118.1 1233.37H136.4M118.1 1239.21H170.6M118.1 1233.37V1239.21M102.7 1236.29H118.1M143.2 1242.54H170.6M143.2 1245.88H170.6M143.2 1242.54V1245.88M136.1 1244.21H143.2M136.1 1249.21H170.6M136.1 1244.21V1249.21M102.7 1246.71H136.1M102.7 1236.29V1246.71M84.4 1241.50H102.7M84.4 1217.11V1241.50M76.2 1229.30H84.4M76.2 1182.03V1229.30M56.3 1205.67H76.2M56.3 1113.09V1205.67M54.5 1159.38H56.3M104.1 1252.55H170.6M126.8 1255.88H170.6M148.8 1259.22H170.6M148.8 1262.55H170.6M148.8 1259.22V1262.55M126.8 1260.89H148.8M126.8 1255.88V1260.89M114.6 1258.38H126.8M142.0 1265.89H170.6M142.0 1269.22H170.6M142.0 1265.89V1269.22M114.6 1267.56H142.0M114.6 1258.38V1267.56M104.1 1262.97H114.6M104.1 1252.55V1262.97M88.7 1257.76H104.1M139.7 1272.56H170.6M139.7 1275.89H170.6M139.7 1272.56V1275.89M136.5 1274.23H139.7M136.5 1279.23H170.6M136.5 1274.23V1279.23M108.8 1276.73H136.5M150.8 1282.57H170.6M150.8 1285.90H170.6M150.8 1282.57V1285.90M134.4 1284.23H150.8M134.4 1289.24H170.6M134.4 1284.23V1289.24M128.0 1286.73H134.4M128.0 1292.57H170.6M128.0 1286.73V1292.57M108.8 1289.65H128.0M108.8 1276.73V1289.65M88.7 1283.19H108.8M88.7 1257.76V1283.19M82.6 1270.47H88.7M128.7 1295.91H170.6M138.0 1299.24H170.6M138.0 1302.58H170.6M138.0 1299.24V1302.58M128.7 1300.91H138.0M128.7 1295.91V1300.91M118.6 1298.41H128.7M121.8 1305.91H170.6M136.6 1309.25H170.6M136.6 1312.58H170.6M136.6 1309.25V1312.58M129.7 1310.92H136.6M129.7 1315.92H170.6M129.7 1310.92V1315.92M121.8 1313.42H129.7M121.8 1305.91V1313.42M118.6 1309.67H121.8M118.6 1298.41V1309.67M82.6 1304.04H118.6M82.6 1270.47V1304.04M67.1 1287.26H82.6M127.3 1319.25H170.6M133.7 1322.59H170.6M133.7 1325.93H170.6M133.7 1322.59V1325.93M127.3 1324.26H133.7M127.3 1319.25V1324.26M112.2 1321.76H127.3M135.4 1329.26H170.6M144.0 1332.60H170.6M144.0 1335.93H170.6M144.0 1332.60V1335.93M135.4 1334.26H144.0M135.4 1329.26V1334.26M112.2 1331.76H135.4M112.2 1321.76V1331.76M94.1 1326.76H112.2M139.3 1339.27H170.6M139.3 1342.60H170.6M139.3 1339.27V1342.60M126.8 1340.94H139.3M136.9 1345.94H170.6M136.9 1349.27H170.6M136.9 1345.94V1349.27M126.8 1347.61H136.9M126.8 1340.94V1347.61M109.9 1344.27H126.8M139.9 1352.61H170.6M148.0 1355.94H170.6M148.0 1359.28H170.6M148.0 1355.94V1359.28M139.9 1357.61H148.0M139.9 1352.61V1357.61M109.9 1355.11H139.9M109.9 1344.27V1355.11M94.1 1349.69H109.9M94.1 1326.76V1349.69M67.1 1338.23H94.1M67.1 1287.26V1338.23M54.5 1312.74H67.1M54.5 1159.38V1312.74M45.4 1236.06H54.5M139.8 1362.62H170.6M139.8 1365.95H170.6M139.8 1362.62V1365.95M120.2 1364.28H139.8M148.0 1369.29H170.6M148.0 1372.62H170.6M148.0 1369.29V1372.62M120.2 1370.95H148.0M120.2 1364.28V1370.95M108.8 1367.62H120.2M140.1 1375.96H170.6M140.1 1379.29H170.6M140.1 1375.96V1379.29M108.8 1377.62H140.1M108.8 1367.62V1377.62M82.2 1372.62H108.8M133.7 1382.63H170.6M133.7 1385.96H170.6M133.7 1382.63V1385.96M114.6 1384.30H133.7M133.6 1389.30H170.6M133.6 1392.63H170.6M133.6 1389.30V1392.63M120.5 1390.97H133.6M147.7 1395.97H170.6M147.7 1399.30H170.6M147.7 1395.97V1399.30M120.5 1397.64H147.7M120.5 1390.97V1397.64M114.6 1394.30H120.5M114.6 1384.30V1394.30M82.2 1389.30H114.6M82.2 1372.62V1389.30M59.5 1380.96H82.2M120.6 1402.64H170.6M134.0 1405.98H170.6M134.0 1409.31H170.6M134.0 1405.98V1409.31M129.7 1407.64H134.0M140.0 1412.65H170.6M140.0 1415.98H170.6M140.0 1412.65V1415.98M129.7 1414.31H140.0M129.7 1407.64V1414.31M120.6 1410.98H129.7M120.6 1402.64V1410.98M107.6 1406.81H120.6M107.6 1419.32H170.6M107.6 1406.81V1419.32M71.4 1413.06H107.6M131.8 1422.65H170.6M140.6 1425.99H170.6M140.6 1429.32H170.6M140.6 1425.99V1429.32M131.8 1427.66H140.6M131.8 1422.65V1427.66M118.9 1425.15H131.8M118.9 1432.66H170.6M118.9 1425.15V1432.66M110.0 1428.91H118.9M139.6 1435.99H170.6M147.1 1439.33H170.6M147.1 1442.66H170.6M147.1 1439.33V1442.66M139.6 1441.00H147.1M139.6 1435.99V1441.00M110.0 1438.50H139.6M110.0 1428.91V1438.50M71.4 1433.70H110.0M71.4 1413.06V1433.70M61.7 1423.38H71.4M137.8 1446.00H170.6M137.8 1449.34H170.6M137.8 1446.00V1449.34M116.9 1447.67H137.8M139.1 1452.67H170.6M139.1 1456.01H170.6M139.1 1452.67V1456.01M130.9 1454.34H139.1M130.9 1459.34H170.6M130.9 1454.34V1459.34M116.9 1456.84H130.9M116.9 1447.67V1456.84M84.0 1452.25H116.9M145.4 1462.68H170.6M145.4 1466.01H170.6M145.4 1462.68V1466.01M116.0 1464.34H145.4M145.0 1469.35H170.6M145.0 1472.68H170.6M145.0 1469.35V1472.68M116.0 1471.02H145.0M116.0 1464.34V1471.02M84.0 1467.68H116.0M84.0 1452.25V1467.68M71.4 1459.97H84.0M147.9 1476.02H170.6M147.9 1479.35H170.6M147.9 1476.02V1479.35M122.5 1477.69H147.9M128.4 1482.69H170.6M142.2 1486.02H170.6M142.2 1489.36H170.6M142.2 1486.02V1489.36M128.4 1487.69H142.2M128.4 1482.69V1487.69M122.5 1485.19H128.4M122.5 1477.69V1485.19M93.5 1481.44H122.5M149.6 1492.70H170.6M149.6 1496.03H170.6M149.6 1492.70V1496.03M122.3 1494.36H149.6M145.2 1499.37H170.6M145.2 1502.70H170.6M145.2 1499.37V1502.70M122.3 1501.03H145.2M122.3 1494.36V1501.03M93.5 1497.70H122.3M93.5 1481.44V1497.70M71.4 1489.57H93.5M71.4 1459.97V1489.57M61.7 1474.77H71.4M61.7 1423.38V1474.77M59.5 1449.08H61.7M59.5 1380.96V1449.08M45.4 1415.02H59.5M45.4 1236.06V1415.02M8.2 1325.54H45.4M134.1 1506.04H170.6M134.1 1509.37H170.6M134.1 1506.04V1509.37M124.4 1507.71H134.1M124.4 1512.71H170.6M124.4 1507.71V1512.71M76.8 1510.21H124.4M114.6 1516.04H170.6M132.2 1519.38H170.6M144.5 1522.71H170.6M144.5 1526.05H170.6M144.5 1522.71V1526.05M132.2 1524.38H144.5M132.2 1519.38V1524.38M114.6 1521.88H132.2M114.6 1516.04V1521.88M76.8 1518.96H114.6M76.8 1510.21V1518.96M45.9 1514.58H76.8M147.3 1529.39H170.6M147.3 1532.72H170.6M147.3 1529.39V1532.72M103.4 1531.05H147.3M138.5 1536.06H170.6M138.5 1539.39H170.6M138.5 1536.06V1539.39M132.5 1537.72H138.5M132.5 1542.73H170.6M132.5 1537.72V1542.73M103.4 1540.23H132.5M103.4 1531.05V1540.23M73.6 1535.64H103.4M125.7 1546.06H170.6M135.6 1549.40H170.6M135.6 1552.73H170.6M135.6 1549.40V1552.73M125.7 1551.07H135.6M125.7 1546.06V1551.07M114.2 1548.56H125.7M143.5 1556.07H170.6M143.5 1559.40H170.6M143.5 1556.07V1559.40M114.2 1557.74H143.5M114.2 1548.56V1557.74M100.6 1553.15H114.2M137.1 1562.74H170.6M147.8 1566.07H170.6M147.8 1569.41H170.6M147.8 1566.07V1569.41M137.1 1567.74H147.8M137.1 1562.74V1567.74M112.0 1565.24H137.1M139.1 1572.75H170.6M144.7 1576.08H170.6M144.7 1579.42H170.6M144.7 1576.08V1579.42M139.1 1577.75H144.7M139.1 1572.75V1577.75M112.0 1575.25H139.1M112.0 1565.24V1575.25M100.6 1570.24H112.0M100.6 1553.15V1570.24M73.6 1561.70H100.6M73.6 1535.64V1561.70M58.0 1548.67H73.6M145.8 1582.75H170.6M145.8 1586.09H170.6M145.8 1582.75V1586.09M107.1 1584.42H145.8M133.4 1589.42H170.6M139.7 1592.76H170.6M139.7 1596.09H170.6M139.7 1592.76V1596.09M133.4 1594.43H139.7M133.4 1589.42V1594.43M107.1 1591.92H133.4M107.1 1584.42V1591.92M82.2 1588.17H107.1M144.5 1599.43H170.6M144.5 1602.76H170.6M144.5 1599.43V1602.76M135.3 1601.10H144.5M135.3 1606.10H170.6M135.3 1601.10V1606.10M105.5 1603.60H135.3M139.3 1609.43H170.6M139.3 1612.77H170.6M139.3 1609.43V1612.77M130.0 1611.10H139.3M130.0 1616.11H170.6M130.0 1611.10V1616.11M105.5 1613.60H130.0M105.5 1603.60V1613.60M82.2 1608.60H105.5M82.2 1588.17V1608.60M58.0 1598.39H82.2M58.0 1548.67V1598.39M53.0 1573.53H58.0M140.3 1619.44H170.6M140.3 1622.78H170.6M140.3 1619.44V1622.78M134.7 1621.11H140.3M134.7 1626.11H170.6M134.7 1621.11V1626.11M91.3 1623.61H134.7M144.5 1629.45H170.6M144.5 1632.78H170.6M144.5 1629.45V1632.78M120.6 1631.11H144.5M143.2 1636.12H170.6M143.2 1639.45H170.6M143.2 1636.12V1639.45M120.6 1637.79H143.2M120.6 1631.11V1637.79M91.3 1634.45H120.6M91.3 1623.61V1634.45M60.1 1629.03H91.3M150.0 1642.79H170.6M150.0 1646.12H170.6M150.0 1642.79V1646.12M123.9 1644.46H150.0M123.9 1649.46H170.6M123.9 1644.46V1649.46M113.2 1646.96H123.9M113.2 1652.79H170.6M113.2 1646.96V1652.79M93.5 1649.88H113.2M145.2 1656.13H170.6M145.2 1659.47H170.6M145.2 1656.13V1659.47M128.7 1657.80H145.2M137.8 1662.80H170.6M137.8 1666.14H170.6M137.8 1662.80V1666.14M128.7 1664.47H137.8M128.7 1657.80V1664.47M93.5 1661.13H128.7M93.5 1649.88V1661.13M66.4 1655.51H93.5M127.8 1669.47H170.6M139.0 1672.81H170.6M139.0 1676.14H170.6M139.0 1672.81V1676.14M135.9 1674.48H139.0M135.9 1679.48H170.6M135.9 1674.48V1679.48M127.8 1676.98H135.9M127.8 1669.47V1676.98M114.1 1673.22H127.8M144.0 1682.81H170.6M144.0 1686.15H170.6M144.0 1682.81V1686.15M114.1 1684.48H144.0M114.1 1673.22V1684.48M95.6 1678.85H114.1M126.6 1689.48H170.6M145.4 1692.82H170.6M145.4 1696.16H170.6M145.4 1692.82V1696.16M126.6 1694.49H145.4M126.6 1689.48V1694.49M107.6 1691.99H126.6M147.1 1699.49H170.6M147.1 1702.83H170.6M147.1 1699.49V1702.83M139.7 1701.16H147.1M139.7 1706.16H170.6M139.7 1701.16V1706.16M107.6 1703.66H139.7M107.6 1691.99V1703.66M95.6 1697.82H107.6M95.6 1678.85V1697.82M81.8 1688.34H95.6M135.4 1709.50H170.6M139.2 1712.83H170.6M139.2 1716.17H170.6M139.2 1712.83V1716.17M135.4 1714.50H139.2M135.4 1709.50V1714.50M107.1 1712.00H135.4M148.6 1719.50H170.6M148.6 1722.84H170.6M148.6 1719.50V1722.84M125.3 1721.17H148.6M125.3 1726.17H170.6M125.3 1721.17V1726.17M107.1 1723.67H125.3M107.1 1712.00V1723.67M100.0 1717.84H107.1M149.2 1729.51H170.6M149.2 1732.84H170.6M149.2 1729.51V1732.84M128.5 1731.18H149.2M138.1 1736.18H170.6M138.1 1739.52H170.6M138.1 1736.18V1739.52M128.5 1737.85H138.1M128.5 1731.18V1737.85M107.0 1734.51H128.5M135.9 1742.85H170.6M147.8 1746.19H170.6M147.8 1749.52H170.6M147.8 1746.19V1749.52M135.9 1747.85H147.8M135.9 1742.85V1747.85M107.0 1745.35H135.9M107.0 1734.51V1745.35M100.0 1739.93H107.0M100.0 1717.84V1739.93M88.3 1728.88H100.0M136.0 1752.86H170.6M144.8 1756.19H170.6M144.8 1759.53H170.6M144.8 1756.19V1759.53M136.0 1757.86H144.8M136.0 1752.86V1757.86M117.5 1755.36H136.0M133.7 1762.86H170.6M133.7 1766.20H170.6M133.7 1762.86V1766.20M117.5 1764.53H133.7M117.5 1755.36V1764.53M111.4 1759.94H117.5M143.2 1769.53H170.6M143.2 1772.87H170.6M143.2 1769.53V1772.87M136.5 1771.20H143.2M136.5 1776.20H170.6M136.5 1771.20V1776.20M116.3 1773.70H136.5M140.8 1779.54H170.6M140.8 1782.88H170.6M140.8 1779.54V1782.88M116.3 1781.21H140.8M116.3 1773.70V1781.21M111.4 1777.46H116.3M111.4 1759.94V1777.46M88.3 1768.70H111.4M88.3 1728.88V1768.70M81.8 1748.79H88.3M81.8 1688.34V1748.79M66.4 1718.56H81.8M66.4 1655.51V1718.56M60.1 1687.03H66.4M60.1 1629.03V1687.03M53.0 1658.03H60.1M53.0 1573.53V1658.03M50.8 1615.78H53.0M103.1 1786.21H170.6M136.9 1789.55H170.6M136.9 1792.88H170.6M136.9 1789.55V1792.88M110.5 1791.21H136.9M138.4 1796.22H170.6M138.4 1799.55H170.6M138.4 1796.22V1799.55M134.3 1797.88H138.4M134.3 1802.89H170.6M134.3 1797.88V1802.89M110.5 1800.39H134.3M110.5 1791.21V1800.39M103.1 1795.80H110.5M103.1 1786.21V1795.80M82.2 1791.01H103.1M134.3 1806.22H170.6M134.3 1809.56H170.6M134.3 1806.22V1809.56M104.5 1807.89H134.3M143.4 1812.89H170.6M143.4 1816.23H170.6M143.4 1812.89V1816.23M115.3 1814.56H143.4M146.8 1819.57H170.6M146.8 1822.90H170.6M146.8 1819.57V1822.90M115.3 1821.23H146.8M115.3 1814.56V1821.23M104.5 1817.90H115.3M104.5 1807.89V1817.90M82.2 1812.89H104.5M82.2 1791.01V1812.89M77.5 1801.95H82.2M125.5 1826.24H170.6M150.0 1829.57H170.6M150.0 1832.91H170.6M150.0 1829.57V1832.91M125.5 1831.24H150.0M125.5 1826.24V1831.24M110.0 1828.74H125.5M145.5 1836.24H170.6M145.5 1839.58H170.6M145.5 1836.24V1839.58M110.0 1837.91H145.5M110.0 1828.74V1837.91M97.4 1833.32H110.0M143.9 1842.91H170.6M143.9 1846.25H170.6M143.9 1842.91V1846.25M137.3 1844.58H143.9M137.3 1849.58H170.6M137.3 1844.58V1849.58M122.0 1847.08H137.3M122.0 1852.92H170.6M122.0 1847.08V1852.92M105.8 1850.00H122.0M144.9 1856.25H170.6M144.9 1859.59H170.6M144.9 1856.25V1859.59M105.8 1857.92H144.9M105.8 1850.00V1857.92M97.4 1853.96H105.8M97.4 1833.32V1853.96M77.5 1843.64H97.4M77.5 1801.95V1843.64M50.8 1822.80H77.5M50.8 1615.78V1822.80M45.9 1719.29H50.8M45.9 1514.58V1719.29M8.2 1616.94H45.9M8.2 1325.54V1616.94" fill="none" stroke="#000" stroke-width="1.75" stroke-linecap="round" stroke-linejoin="round"/>
</svg>
</body></html>
